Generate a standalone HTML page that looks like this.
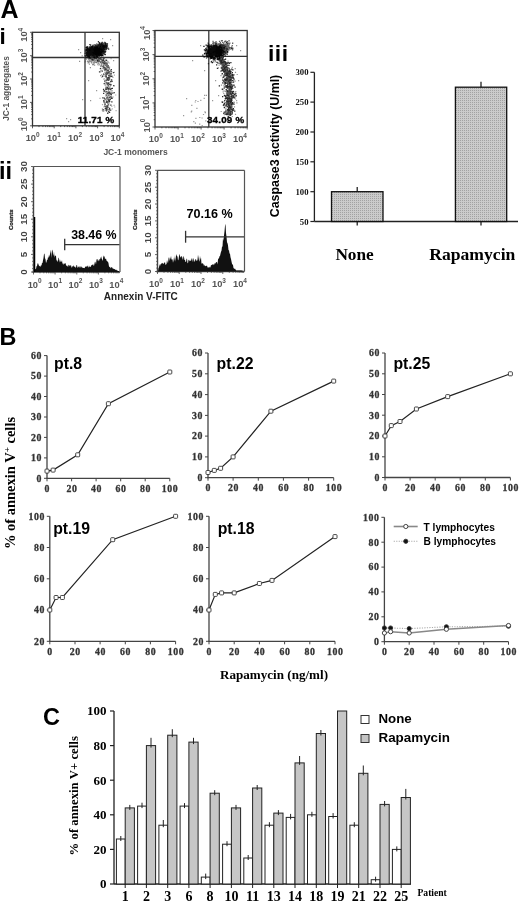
<!DOCTYPE html>
<html><head><meta charset="utf-8"><title>Figure</title>
<style>html,body{margin:0;padding:0;background:#fff;}svg{display:block;filter:blur(0.5px);}</style></head>
<body><svg width="520" height="903" viewBox="0 0 520 903">
<rect width="520" height="903" fill="#fff"/>
<text x="0.5" y="17.5" font-family='"Liberation Sans", sans-serif' font-size="25" font-weight="bold" text-anchor="start" fill="#000">A</text>
<text x="-0.5" y="43.8" font-family='"Liberation Sans", sans-serif' font-size="22.5" font-weight="bold" text-anchor="start" fill="#000">i</text>
<text x="-1" y="178.5" font-family='"Liberation Sans", sans-serif' font-size="23.5" font-weight="bold" text-anchor="start" fill="#000">ii</text>
<text x="268" y="61.2" font-family='"Liberation Sans", sans-serif' font-size="22.8" font-weight="bold" text-anchor="start" fill="#000" letter-spacing="0.5">iii</text>
<text x="-0.5" y="344.7" font-family='"Liberation Sans", sans-serif' font-size="23.4" font-weight="bold" text-anchor="start" fill="#000">B</text>
<text x="43" y="725" font-family='"Liberation Sans", sans-serif' font-size="23.5" font-weight="bold" text-anchor="start" fill="#000">C</text>
<rect x="32.5" y="32.3" width="86.8" height="93.5" fill="none" stroke="#333" stroke-width="1.3"/>
<line x1="85" y1="32.3" x2="85" y2="125.8" stroke="#333" stroke-width="1.3"/>
<line x1="32.5" y1="57.5" x2="119.3" y2="57.5" stroke="#333" stroke-width="1.3"/>
<line x1="30" y1="125.8" x2="32.5" y2="125.8" stroke="#333" stroke-width="0.8"/>
<line x1="32.5" y1="125.8" x2="32.5" y2="128.3" stroke="#333" stroke-width="0.8"/>
<line x1="31.2" y1="118.8" x2="32.5" y2="118.8" stroke="#333" stroke-width="0.8"/>
<line x1="39" y1="125.8" x2="39" y2="127.1" stroke="#333" stroke-width="0.8"/>
<line x1="31.2" y1="114.6" x2="32.5" y2="114.6" stroke="#333" stroke-width="0.8"/>
<line x1="42.9" y1="125.8" x2="42.9" y2="127.1" stroke="#333" stroke-width="0.8"/>
<line x1="31.2" y1="111.7" x2="32.5" y2="111.7" stroke="#333" stroke-width="0.8"/>
<line x1="45.6" y1="125.8" x2="45.6" y2="127.1" stroke="#333" stroke-width="0.8"/>
<line x1="31.2" y1="109.5" x2="32.5" y2="109.5" stroke="#333" stroke-width="0.8"/>
<line x1="47.7" y1="125.8" x2="47.7" y2="127.1" stroke="#333" stroke-width="0.8"/>
<line x1="31.2" y1="107.6" x2="32.5" y2="107.6" stroke="#333" stroke-width="0.8"/>
<line x1="49.4" y1="125.8" x2="49.4" y2="127.1" stroke="#333" stroke-width="0.8"/>
<line x1="31.2" y1="106" x2="32.5" y2="106" stroke="#333" stroke-width="0.8"/>
<line x1="50.8" y1="125.8" x2="50.8" y2="127.1" stroke="#333" stroke-width="0.8"/>
<line x1="31.2" y1="104.7" x2="32.5" y2="104.7" stroke="#333" stroke-width="0.8"/>
<line x1="52.1" y1="125.8" x2="52.1" y2="127.1" stroke="#333" stroke-width="0.8"/>
<line x1="31.2" y1="103.5" x2="32.5" y2="103.5" stroke="#333" stroke-width="0.8"/>
<line x1="53.2" y1="125.8" x2="53.2" y2="127.1" stroke="#333" stroke-width="0.8"/>
<line x1="30" y1="102.4" x2="32.5" y2="102.4" stroke="#333" stroke-width="0.8"/>
<line x1="54.2" y1="125.8" x2="54.2" y2="128.3" stroke="#333" stroke-width="0.8"/>
<line x1="31.2" y1="95.4" x2="32.5" y2="95.4" stroke="#333" stroke-width="0.8"/>
<line x1="60.7" y1="125.8" x2="60.7" y2="127.1" stroke="#333" stroke-width="0.8"/>
<line x1="31.2" y1="91.3" x2="32.5" y2="91.3" stroke="#333" stroke-width="0.8"/>
<line x1="64.6" y1="125.8" x2="64.6" y2="127.1" stroke="#333" stroke-width="0.8"/>
<line x1="31.2" y1="88.4" x2="32.5" y2="88.4" stroke="#333" stroke-width="0.8"/>
<line x1="67.3" y1="125.8" x2="67.3" y2="127.1" stroke="#333" stroke-width="0.8"/>
<line x1="31.2" y1="86.1" x2="32.5" y2="86.1" stroke="#333" stroke-width="0.8"/>
<line x1="69.4" y1="125.8" x2="69.4" y2="127.1" stroke="#333" stroke-width="0.8"/>
<line x1="31.2" y1="84.2" x2="32.5" y2="84.2" stroke="#333" stroke-width="0.8"/>
<line x1="71.1" y1="125.8" x2="71.1" y2="127.1" stroke="#333" stroke-width="0.8"/>
<line x1="31.2" y1="82.7" x2="32.5" y2="82.7" stroke="#333" stroke-width="0.8"/>
<line x1="72.5" y1="125.8" x2="72.5" y2="127.1" stroke="#333" stroke-width="0.8"/>
<line x1="31.2" y1="81.3" x2="32.5" y2="81.3" stroke="#333" stroke-width="0.8"/>
<line x1="73.8" y1="125.8" x2="73.8" y2="127.1" stroke="#333" stroke-width="0.8"/>
<line x1="31.2" y1="80.1" x2="32.5" y2="80.1" stroke="#333" stroke-width="0.8"/>
<line x1="74.9" y1="125.8" x2="74.9" y2="127.1" stroke="#333" stroke-width="0.8"/>
<line x1="30" y1="79" x2="32.5" y2="79" stroke="#333" stroke-width="0.8"/>
<line x1="75.9" y1="125.8" x2="75.9" y2="128.3" stroke="#333" stroke-width="0.8"/>
<line x1="31.2" y1="72" x2="32.5" y2="72" stroke="#333" stroke-width="0.8"/>
<line x1="82.4" y1="125.8" x2="82.4" y2="127.1" stroke="#333" stroke-width="0.8"/>
<line x1="31.2" y1="67.9" x2="32.5" y2="67.9" stroke="#333" stroke-width="0.8"/>
<line x1="86.3" y1="125.8" x2="86.3" y2="127.1" stroke="#333" stroke-width="0.8"/>
<line x1="31.2" y1="65" x2="32.5" y2="65" stroke="#333" stroke-width="0.8"/>
<line x1="89" y1="125.8" x2="89" y2="127.1" stroke="#333" stroke-width="0.8"/>
<line x1="31.2" y1="62.7" x2="32.5" y2="62.7" stroke="#333" stroke-width="0.8"/>
<line x1="91.1" y1="125.8" x2="91.1" y2="127.1" stroke="#333" stroke-width="0.8"/>
<line x1="31.2" y1="60.9" x2="32.5" y2="60.9" stroke="#333" stroke-width="0.8"/>
<line x1="92.8" y1="125.8" x2="92.8" y2="127.1" stroke="#333" stroke-width="0.8"/>
<line x1="31.2" y1="59.3" x2="32.5" y2="59.3" stroke="#333" stroke-width="0.8"/>
<line x1="94.2" y1="125.8" x2="94.2" y2="127.1" stroke="#333" stroke-width="0.8"/>
<line x1="31.2" y1="57.9" x2="32.5" y2="57.9" stroke="#333" stroke-width="0.8"/>
<line x1="95.5" y1="125.8" x2="95.5" y2="127.1" stroke="#333" stroke-width="0.8"/>
<line x1="31.2" y1="56.7" x2="32.5" y2="56.7" stroke="#333" stroke-width="0.8"/>
<line x1="96.6" y1="125.8" x2="96.6" y2="127.1" stroke="#333" stroke-width="0.8"/>
<line x1="30" y1="55.7" x2="32.5" y2="55.7" stroke="#333" stroke-width="0.8"/>
<line x1="97.6" y1="125.8" x2="97.6" y2="128.3" stroke="#333" stroke-width="0.8"/>
<line x1="31.2" y1="48.6" x2="32.5" y2="48.6" stroke="#333" stroke-width="0.8"/>
<line x1="104.1" y1="125.8" x2="104.1" y2="127.1" stroke="#333" stroke-width="0.8"/>
<line x1="31.2" y1="44.5" x2="32.5" y2="44.5" stroke="#333" stroke-width="0.8"/>
<line x1="108" y1="125.8" x2="108" y2="127.1" stroke="#333" stroke-width="0.8"/>
<line x1="31.2" y1="41.6" x2="32.5" y2="41.6" stroke="#333" stroke-width="0.8"/>
<line x1="110.7" y1="125.8" x2="110.7" y2="127.1" stroke="#333" stroke-width="0.8"/>
<line x1="31.2" y1="39.3" x2="32.5" y2="39.3" stroke="#333" stroke-width="0.8"/>
<line x1="112.8" y1="125.8" x2="112.8" y2="127.1" stroke="#333" stroke-width="0.8"/>
<line x1="31.2" y1="37.5" x2="32.5" y2="37.5" stroke="#333" stroke-width="0.8"/>
<line x1="114.5" y1="125.8" x2="114.5" y2="127.1" stroke="#333" stroke-width="0.8"/>
<line x1="31.2" y1="35.9" x2="32.5" y2="35.9" stroke="#333" stroke-width="0.8"/>
<line x1="115.9" y1="125.8" x2="115.9" y2="127.1" stroke="#333" stroke-width="0.8"/>
<line x1="31.2" y1="34.6" x2="32.5" y2="34.6" stroke="#333" stroke-width="0.8"/>
<line x1="117.2" y1="125.8" x2="117.2" y2="127.1" stroke="#333" stroke-width="0.8"/>
<line x1="31.2" y1="33.4" x2="32.5" y2="33.4" stroke="#333" stroke-width="0.8"/>
<line x1="118.3" y1="125.8" x2="118.3" y2="127.1" stroke="#333" stroke-width="0.8"/>
<line x1="30" y1="32.3" x2="32.5" y2="32.3" stroke="#333" stroke-width="0.8"/>
<line x1="119.3" y1="125.8" x2="119.3" y2="128.3" stroke="#333" stroke-width="0.8"/>
<text x="32.7" y="141.2" font-family='"Liberation Sans", sans-serif' font-size="9.3" font-weight="bold" text-anchor="middle" fill="#555">10<tspan dy="-4.2" font-size="6.5">0</tspan></text>
<text x="27" y="124.3" font-family='"Liberation Sans", sans-serif' font-size="9.3" font-weight="bold" text-anchor="middle" fill="#555" transform="rotate(-90 27 124.3)">10<tspan dy="-4.2" font-size="6.5">0</tspan></text>
<text x="53.9" y="141.2" font-family='"Liberation Sans", sans-serif' font-size="9.3" font-weight="bold" text-anchor="middle" fill="#555">10<tspan dy="-4.2" font-size="6.5">1</tspan></text>
<text x="27" y="102.4" font-family='"Liberation Sans", sans-serif' font-size="9.3" font-weight="bold" text-anchor="middle" fill="#555" transform="rotate(-90 27 102.4)">10<tspan dy="-4.2" font-size="6.5">1</tspan></text>
<text x="75.1" y="141.2" font-family='"Liberation Sans", sans-serif' font-size="9.3" font-weight="bold" text-anchor="middle" fill="#555">10<tspan dy="-4.2" font-size="6.5">2</tspan></text>
<text x="27" y="79" font-family='"Liberation Sans", sans-serif' font-size="9.3" font-weight="bold" text-anchor="middle" fill="#555" transform="rotate(-90 27 79)">10<tspan dy="-4.2" font-size="6.5">2</tspan></text>
<text x="96.3" y="141.2" font-family='"Liberation Sans", sans-serif' font-size="9.3" font-weight="bold" text-anchor="middle" fill="#555">10<tspan dy="-4.2" font-size="6.5">3</tspan></text>
<text x="27" y="55.7" font-family='"Liberation Sans", sans-serif' font-size="9.3" font-weight="bold" text-anchor="middle" fill="#555" transform="rotate(-90 27 55.7)">10<tspan dy="-4.2" font-size="6.5">3</tspan></text>
<text x="117.5" y="141.2" font-family='"Liberation Sans", sans-serif' font-size="9.3" font-weight="bold" text-anchor="middle" fill="#555">10<tspan dy="-4.2" font-size="6.5">4</tspan></text>
<text x="27" y="34.8" font-family='"Liberation Sans", sans-serif' font-size="9.3" font-weight="bold" text-anchor="middle" fill="#555" transform="rotate(-90 27 34.8)">10<tspan dy="-4.2" font-size="6.5">4</tspan></text>
<rect x="155" y="30.5" width="92.2" height="96.5" fill="none" stroke="#333" stroke-width="1.3"/>
<line x1="208.8" y1="30.5" x2="208.8" y2="127" stroke="#333" stroke-width="1.3"/>
<line x1="155" y1="56.3" x2="247.2" y2="56.3" stroke="#333" stroke-width="1.3"/>
<line x1="152.5" y1="127" x2="155" y2="127" stroke="#333" stroke-width="0.8"/>
<line x1="155" y1="127" x2="155" y2="129.5" stroke="#333" stroke-width="0.8"/>
<line x1="153.7" y1="119.7" x2="155" y2="119.7" stroke="#333" stroke-width="0.8"/>
<line x1="161.9" y1="127" x2="161.9" y2="128.3" stroke="#333" stroke-width="0.8"/>
<line x1="153.7" y1="115.5" x2="155" y2="115.5" stroke="#333" stroke-width="0.8"/>
<line x1="166" y1="127" x2="166" y2="128.3" stroke="#333" stroke-width="0.8"/>
<line x1="153.7" y1="112.5" x2="155" y2="112.5" stroke="#333" stroke-width="0.8"/>
<line x1="168.9" y1="127" x2="168.9" y2="128.3" stroke="#333" stroke-width="0.8"/>
<line x1="153.7" y1="110.1" x2="155" y2="110.1" stroke="#333" stroke-width="0.8"/>
<line x1="171.1" y1="127" x2="171.1" y2="128.3" stroke="#333" stroke-width="0.8"/>
<line x1="153.7" y1="108.2" x2="155" y2="108.2" stroke="#333" stroke-width="0.8"/>
<line x1="172.9" y1="127" x2="172.9" y2="128.3" stroke="#333" stroke-width="0.8"/>
<line x1="153.7" y1="106.6" x2="155" y2="106.6" stroke="#333" stroke-width="0.8"/>
<line x1="174.5" y1="127" x2="174.5" y2="128.3" stroke="#333" stroke-width="0.8"/>
<line x1="153.7" y1="105.2" x2="155" y2="105.2" stroke="#333" stroke-width="0.8"/>
<line x1="175.8" y1="127" x2="175.8" y2="128.3" stroke="#333" stroke-width="0.8"/>
<line x1="153.7" y1="104" x2="155" y2="104" stroke="#333" stroke-width="0.8"/>
<line x1="177" y1="127" x2="177" y2="128.3" stroke="#333" stroke-width="0.8"/>
<line x1="152.5" y1="102.9" x2="155" y2="102.9" stroke="#333" stroke-width="0.8"/>
<line x1="178.1" y1="127" x2="178.1" y2="129.5" stroke="#333" stroke-width="0.8"/>
<line x1="153.7" y1="95.6" x2="155" y2="95.6" stroke="#333" stroke-width="0.8"/>
<line x1="185" y1="127" x2="185" y2="128.3" stroke="#333" stroke-width="0.8"/>
<line x1="153.7" y1="91.4" x2="155" y2="91.4" stroke="#333" stroke-width="0.8"/>
<line x1="189" y1="127" x2="189" y2="128.3" stroke="#333" stroke-width="0.8"/>
<line x1="153.7" y1="88.4" x2="155" y2="88.4" stroke="#333" stroke-width="0.8"/>
<line x1="191.9" y1="127" x2="191.9" y2="128.3" stroke="#333" stroke-width="0.8"/>
<line x1="153.7" y1="86" x2="155" y2="86" stroke="#333" stroke-width="0.8"/>
<line x1="194.2" y1="127" x2="194.2" y2="128.3" stroke="#333" stroke-width="0.8"/>
<line x1="153.7" y1="84.1" x2="155" y2="84.1" stroke="#333" stroke-width="0.8"/>
<line x1="196" y1="127" x2="196" y2="128.3" stroke="#333" stroke-width="0.8"/>
<line x1="153.7" y1="82.5" x2="155" y2="82.5" stroke="#333" stroke-width="0.8"/>
<line x1="197.5" y1="127" x2="197.5" y2="128.3" stroke="#333" stroke-width="0.8"/>
<line x1="153.7" y1="81.1" x2="155" y2="81.1" stroke="#333" stroke-width="0.8"/>
<line x1="198.9" y1="127" x2="198.9" y2="128.3" stroke="#333" stroke-width="0.8"/>
<line x1="153.7" y1="79.9" x2="155" y2="79.9" stroke="#333" stroke-width="0.8"/>
<line x1="200" y1="127" x2="200" y2="128.3" stroke="#333" stroke-width="0.8"/>
<line x1="152.5" y1="78.8" x2="155" y2="78.8" stroke="#333" stroke-width="0.8"/>
<line x1="201.1" y1="127" x2="201.1" y2="129.5" stroke="#333" stroke-width="0.8"/>
<line x1="153.7" y1="71.5" x2="155" y2="71.5" stroke="#333" stroke-width="0.8"/>
<line x1="208" y1="127" x2="208" y2="128.3" stroke="#333" stroke-width="0.8"/>
<line x1="153.7" y1="67.2" x2="155" y2="67.2" stroke="#333" stroke-width="0.8"/>
<line x1="212.1" y1="127" x2="212.1" y2="128.3" stroke="#333" stroke-width="0.8"/>
<line x1="153.7" y1="64.2" x2="155" y2="64.2" stroke="#333" stroke-width="0.8"/>
<line x1="215" y1="127" x2="215" y2="128.3" stroke="#333" stroke-width="0.8"/>
<line x1="153.7" y1="61.9" x2="155" y2="61.9" stroke="#333" stroke-width="0.8"/>
<line x1="217.2" y1="127" x2="217.2" y2="128.3" stroke="#333" stroke-width="0.8"/>
<line x1="153.7" y1="60" x2="155" y2="60" stroke="#333" stroke-width="0.8"/>
<line x1="219" y1="127" x2="219" y2="128.3" stroke="#333" stroke-width="0.8"/>
<line x1="153.7" y1="58.4" x2="155" y2="58.4" stroke="#333" stroke-width="0.8"/>
<line x1="220.6" y1="127" x2="220.6" y2="128.3" stroke="#333" stroke-width="0.8"/>
<line x1="153.7" y1="57" x2="155" y2="57" stroke="#333" stroke-width="0.8"/>
<line x1="221.9" y1="127" x2="221.9" y2="128.3" stroke="#333" stroke-width="0.8"/>
<line x1="153.7" y1="55.7" x2="155" y2="55.7" stroke="#333" stroke-width="0.8"/>
<line x1="223.1" y1="127" x2="223.1" y2="128.3" stroke="#333" stroke-width="0.8"/>
<line x1="152.5" y1="54.6" x2="155" y2="54.6" stroke="#333" stroke-width="0.8"/>
<line x1="224.1" y1="127" x2="224.1" y2="129.5" stroke="#333" stroke-width="0.8"/>
<line x1="153.7" y1="47.4" x2="155" y2="47.4" stroke="#333" stroke-width="0.8"/>
<line x1="231.1" y1="127" x2="231.1" y2="128.3" stroke="#333" stroke-width="0.8"/>
<line x1="153.7" y1="43.1" x2="155" y2="43.1" stroke="#333" stroke-width="0.8"/>
<line x1="235.1" y1="127" x2="235.1" y2="128.3" stroke="#333" stroke-width="0.8"/>
<line x1="153.7" y1="40.1" x2="155" y2="40.1" stroke="#333" stroke-width="0.8"/>
<line x1="238" y1="127" x2="238" y2="128.3" stroke="#333" stroke-width="0.8"/>
<line x1="153.7" y1="37.8" x2="155" y2="37.8" stroke="#333" stroke-width="0.8"/>
<line x1="240.3" y1="127" x2="240.3" y2="128.3" stroke="#333" stroke-width="0.8"/>
<line x1="153.7" y1="35.9" x2="155" y2="35.9" stroke="#333" stroke-width="0.8"/>
<line x1="242.1" y1="127" x2="242.1" y2="128.3" stroke="#333" stroke-width="0.8"/>
<line x1="153.7" y1="34.2" x2="155" y2="34.2" stroke="#333" stroke-width="0.8"/>
<line x1="243.6" y1="127" x2="243.6" y2="128.3" stroke="#333" stroke-width="0.8"/>
<line x1="153.7" y1="32.8" x2="155" y2="32.8" stroke="#333" stroke-width="0.8"/>
<line x1="245" y1="127" x2="245" y2="128.3" stroke="#333" stroke-width="0.8"/>
<line x1="153.7" y1="31.6" x2="155" y2="31.6" stroke="#333" stroke-width="0.8"/>
<line x1="246.1" y1="127" x2="246.1" y2="128.3" stroke="#333" stroke-width="0.8"/>
<line x1="152.5" y1="30.5" x2="155" y2="30.5" stroke="#333" stroke-width="0.8"/>
<line x1="247.2" y1="127" x2="247.2" y2="129.5" stroke="#333" stroke-width="0.8"/>
<text x="155.8" y="142.4" font-family='"Liberation Sans", sans-serif' font-size="9.3" font-weight="bold" text-anchor="middle" fill="#555">10<tspan dy="-4.2" font-size="6.5">0</tspan></text>
<text x="149.5" y="125.5" font-family='"Liberation Sans", sans-serif' font-size="9.3" font-weight="bold" text-anchor="middle" fill="#555" transform="rotate(-90 149.5 125.5)">10<tspan dy="-4.2" font-size="6.5">0</tspan></text>
<text x="176.9" y="142.4" font-family='"Liberation Sans", sans-serif' font-size="9.3" font-weight="bold" text-anchor="middle" fill="#555">10<tspan dy="-4.2" font-size="6.5">1</tspan></text>
<text x="149.5" y="102.9" font-family='"Liberation Sans", sans-serif' font-size="9.3" font-weight="bold" text-anchor="middle" fill="#555" transform="rotate(-90 149.5 102.9)">10<tspan dy="-4.2" font-size="6.5">1</tspan></text>
<text x="197.9" y="142.4" font-family='"Liberation Sans", sans-serif' font-size="9.3" font-weight="bold" text-anchor="middle" fill="#555">10<tspan dy="-4.2" font-size="6.5">2</tspan></text>
<text x="149.5" y="78.8" font-family='"Liberation Sans", sans-serif' font-size="9.3" font-weight="bold" text-anchor="middle" fill="#555" transform="rotate(-90 149.5 78.8)">10<tspan dy="-4.2" font-size="6.5">2</tspan></text>
<text x="219" y="142.4" font-family='"Liberation Sans", sans-serif' font-size="9.3" font-weight="bold" text-anchor="middle" fill="#555">10<tspan dy="-4.2" font-size="6.5">3</tspan></text>
<text x="149.5" y="54.6" font-family='"Liberation Sans", sans-serif' font-size="9.3" font-weight="bold" text-anchor="middle" fill="#555" transform="rotate(-90 149.5 54.6)">10<tspan dy="-4.2" font-size="6.5">3</tspan></text>
<text x="240" y="142.4" font-family='"Liberation Sans", sans-serif' font-size="9.3" font-weight="bold" text-anchor="middle" fill="#555">10<tspan dy="-4.2" font-size="6.5">4</tspan></text>
<text x="149.5" y="33" font-family='"Liberation Sans", sans-serif' font-size="9.3" font-weight="bold" text-anchor="middle" fill="#555" transform="rotate(-90 149.5 33)">10<tspan dy="-4.2" font-size="6.5">4</tspan></text>
<path d="M93 52.3h1.3v1.3h-1.3zM91.8 49.3h1.3v1.3h-1.3zM91.1 49.2h1.3v1.3h-1.3zM93.3 55.2h1.3v1.3h-1.3zM90.9 50.2h1.3v1.3h-1.3zM95.1 52.1h1.3v1.3h-1.3zM93.4 48.8h1.3v1.3h-1.3zM92.9 53.4h1.3v1.3h-1.3zM87.4 51.4h1.3v1.3h-1.3zM85 49.6h1.3v1.3h-1.3zM85.3 52.5h1.3v1.3h-1.3zM87.7 53.4h1.3v1.3h-1.3zM93.7 50.8h1.3v1.3h-1.3zM92.8 51.9h1.3v1.3h-1.3zM86.6 51.5h1.3v1.3h-1.3zM88.9 50.1h1.3v1.3h-1.3zM97.5 48.3h1.3v1.3h-1.3zM92.9 54h1.3v1.3h-1.3zM90.5 51.7h1.3v1.3h-1.3zM93.5 51.6h1.3v1.3h-1.3zM87.9 52.8h1.3v1.3h-1.3zM98.7 46h1.3v1.3h-1.3zM96.6 51.1h1.3v1.3h-1.3zM90.3 57.6h1.3v1.3h-1.3zM96.2 47.5h1.3v1.3h-1.3zM93.3 53h1.3v1.3h-1.3zM92.2 53.6h1.3v1.3h-1.3zM92.7 53.4h1.3v1.3h-1.3zM99 48.4h1.3v1.3h-1.3zM93.9 50h1.3v1.3h-1.3zM93.5 48.1h1.3v1.3h-1.3zM90.6 51.5h1.3v1.3h-1.3zM96.8 53.9h1.3v1.3h-1.3zM87.4 50.5h1.3v1.3h-1.3zM95.7 45.4h1.3v1.3h-1.3zM91.1 51.6h1.3v1.3h-1.3zM98.3 52.3h1.3v1.3h-1.3zM91.6 50.8h1.3v1.3h-1.3zM91.9 55.9h1.3v1.3h-1.3zM91.2 51h1.3v1.3h-1.3zM94.5 50.9h1.3v1.3h-1.3zM92.2 48.6h1.3v1.3h-1.3zM93 50.3h1.3v1.3h-1.3zM97.9 52.3h1.3v1.3h-1.3zM92.9 53.4h1.3v1.3h-1.3zM91.6 54.7h1.3v1.3h-1.3zM93 53.1h1.3v1.3h-1.3zM87.6 53.6h1.3v1.3h-1.3zM85.9 47.3h1.3v1.3h-1.3zM91.7 49.3h1.3v1.3h-1.3zM93.7 57.6h1.3v1.3h-1.3zM89.5 50.5h1.3v1.3h-1.3zM93.9 52.7h1.3v1.3h-1.3zM92.3 51.1h1.3v1.3h-1.3zM96 52.3h1.3v1.3h-1.3zM88.7 52.2h1.3v1.3h-1.3zM93.1 48.6h1.3v1.3h-1.3zM94.1 48.9h1.3v1.3h-1.3zM97.1 51.2h1.3v1.3h-1.3zM93.4 49.8h1.3v1.3h-1.3zM92.5 46.1h1.3v1.3h-1.3zM88.2 53.5h1.3v1.3h-1.3zM85.7 55.1h1.3v1.3h-1.3zM89.4 54.4h1.3v1.3h-1.3zM93.5 47.1h1.3v1.3h-1.3zM98.2 54.4h1.3v1.3h-1.3zM92.7 50.8h1.3v1.3h-1.3zM92.3 48.9h1.3v1.3h-1.3zM97.6 49h1.3v1.3h-1.3zM92.8 49.3h1.3v1.3h-1.3zM90.4 48.5h1.3v1.3h-1.3zM98.3 50h1.3v1.3h-1.3zM97.1 50.7h1.3v1.3h-1.3zM90.1 51.2h1.3v1.3h-1.3zM90.6 52h1.3v1.3h-1.3zM91.4 51h1.3v1.3h-1.3zM87.2 50.5h1.3v1.3h-1.3zM99.9 48.2h1.3v1.3h-1.3zM88.6 53.4h1.3v1.3h-1.3zM98.9 46.3h1.3v1.3h-1.3zM92.1 49.9h1.3v1.3h-1.3zM85.6 55.1h1.3v1.3h-1.3zM92.9 51.7h1.3v1.3h-1.3zM89.8 53.4h1.3v1.3h-1.3zM90.7 51.6h1.3v1.3h-1.3zM88.3 49.1h1.3v1.3h-1.3zM98.6 48.9h1.3v1.3h-1.3zM94.2 51.2h1.3v1.3h-1.3zM91.1 50.5h1.3v1.3h-1.3zM95.6 50.1h1.3v1.3h-1.3zM92.4 51.7h1.3v1.3h-1.3zM97.9 52.4h1.3v1.3h-1.3zM94.6 49.6h1.3v1.3h-1.3zM87.2 55.3h1.3v1.3h-1.3zM97.1 50.3h1.3v1.3h-1.3zM95.3 53.2h1.3v1.3h-1.3zM96.5 53.3h1.3v1.3h-1.3zM91.1 56.1h1.3v1.3h-1.3zM87.8 55h1.3v1.3h-1.3zM95.1 53.5h1.3v1.3h-1.3zM100.9 54h1.3v1.3h-1.3zM88.2 47.8h1.3v1.3h-1.3zM96.4 48h1.3v1.3h-1.3zM92.9 53.8h1.3v1.3h-1.3zM86.1 47.1h1.3v1.3h-1.3zM94.1 51.4h1.3v1.3h-1.3zM92 51.8h1.3v1.3h-1.3zM89.4 48.1h1.3v1.3h-1.3zM92.3 49h1.3v1.3h-1.3zM86.1 54.3h1.3v1.3h-1.3zM92.7 52.7h1.3v1.3h-1.3zM88.8 50.5h1.3v1.3h-1.3zM88.8 49.9h1.3v1.3h-1.3zM93.8 49.2h1.3v1.3h-1.3zM94.5 52.1h1.3v1.3h-1.3zM101.5 45.9h1.3v1.3h-1.3zM96.7 50.5h1.3v1.3h-1.3zM92.9 47.5h1.3v1.3h-1.3zM91.1 54h1.3v1.3h-1.3zM92.7 51.8h1.3v1.3h-1.3zM91.8 54.9h1.3v1.3h-1.3zM92.9 45.4h1.3v1.3h-1.3zM90.1 46.7h1.3v1.3h-1.3zM98.6 50.5h1.3v1.3h-1.3zM88.1 49.9h1.3v1.3h-1.3zM97.7 51h1.3v1.3h-1.3zM93.2 51.3h1.3v1.3h-1.3zM93.2 53.7h1.3v1.3h-1.3zM95.3 51.6h1.3v1.3h-1.3zM88.6 53.8h1.3v1.3h-1.3zM90.1 55.1h1.3v1.3h-1.3zM87.7 52.2h1.3v1.3h-1.3zM93 47.8h1.3v1.3h-1.3zM100.2 54h1.3v1.3h-1.3zM91.1 54h1.3v1.3h-1.3zM94.6 43.9h1.3v1.3h-1.3zM94.1 51.1h1.3v1.3h-1.3zM93.3 48.4h1.3v1.3h-1.3zM91.9 51.2h1.3v1.3h-1.3zM98 51.4h1.3v1.3h-1.3zM93 55.7h1.3v1.3h-1.3zM90.7 50.9h1.3v1.3h-1.3zM85.4 57.4h1.3v1.3h-1.3zM97.1 53.2h1.3v1.3h-1.3zM95.8 51.2h1.3v1.3h-1.3zM93.9 50.6h1.3v1.3h-1.3zM92.1 51.8h1.3v1.3h-1.3zM99.3 51.7h1.3v1.3h-1.3zM92.8 49.9h1.3v1.3h-1.3zM90.3 56.5h1.3v1.3h-1.3zM95.1 51.2h1.3v1.3h-1.3zM91.5 48.7h1.3v1.3h-1.3zM92.7 54h1.3v1.3h-1.3zM91.4 51.2h1.3v1.3h-1.3zM92.1 52h1.3v1.3h-1.3zM86.3 52.2h1.3v1.3h-1.3zM89.4 54.7h1.3v1.3h-1.3zM89.8 53.8h1.3v1.3h-1.3zM99.4 49.3h1.3v1.3h-1.3zM90.5 52.6h1.3v1.3h-1.3zM93 48.8h1.3v1.3h-1.3zM94.9 56.7h1.3v1.3h-1.3zM91.9 51.2h1.3v1.3h-1.3zM88.6 53.3h1.3v1.3h-1.3zM87.8 49.5h1.3v1.3h-1.3zM98.4 47.9h1.3v1.3h-1.3zM97.5 54.8h1.3v1.3h-1.3zM94.1 52.8h1.3v1.3h-1.3zM101.2 49.3h1.3v1.3h-1.3zM90.5 48.3h1.3v1.3h-1.3zM93.2 55.6h1.3v1.3h-1.3zM97 48.1h1.3v1.3h-1.3zM89.4 50.8h1.3v1.3h-1.3zM94.2 50.7h1.3v1.3h-1.3zM93.9 52.1h1.3v1.3h-1.3zM91.7 51.6h1.3v1.3h-1.3zM93.9 51.1h1.3v1.3h-1.3zM95.1 56.2h1.3v1.3h-1.3zM95.5 51.1h1.3v1.3h-1.3zM85.9 54h1.3v1.3h-1.3zM84.8 49.3h1.3v1.3h-1.3zM96.6 52.7h1.3v1.3h-1.3zM92.4 46.9h1.3v1.3h-1.3zM91.4 49.9h1.3v1.3h-1.3zM95.7 57.2h1.3v1.3h-1.3zM93.9 49.2h1.3v1.3h-1.3zM88.1 52.4h1.3v1.3h-1.3zM92.3 48.5h1.3v1.3h-1.3zM93.5 48.2h1.3v1.3h-1.3zM97.7 53.5h1.3v1.3h-1.3zM97.6 49.2h1.3v1.3h-1.3zM95.2 50.7h1.3v1.3h-1.3zM91.4 50.9h1.3v1.3h-1.3zM87.5 48.6h1.3v1.3h-1.3zM96.3 50.3h1.3v1.3h-1.3zM93.9 54.1h1.3v1.3h-1.3zM85.7 50.8h1.3v1.3h-1.3zM93.7 52.4h1.3v1.3h-1.3zM91.4 54.7h1.3v1.3h-1.3zM93.9 48h1.3v1.3h-1.3zM89.1 54.5h1.3v1.3h-1.3zM94.9 45.8h1.3v1.3h-1.3zM98.7 52h1.3v1.3h-1.3zM98.6 49.3h1.3v1.3h-1.3zM91.8 48.6h1.3v1.3h-1.3zM103.7 48.8h1.3v1.3h-1.3zM99.7 48.3h1.3v1.3h-1.3zM93.7 46.7h1.3v1.3h-1.3zM91.4 54.6h1.3v1.3h-1.3zM87.7 55.6h1.3v1.3h-1.3zM94.4 48.3h1.3v1.3h-1.3zM90.9 50.7h1.3v1.3h-1.3zM92.8 50.1h1.3v1.3h-1.3zM89.5 51.4h1.3v1.3h-1.3zM88.7 48.8h1.3v1.3h-1.3zM92.8 54h1.3v1.3h-1.3zM86.6 52.8h1.3v1.3h-1.3zM90.3 49.4h1.3v1.3h-1.3zM96.6 49.3h1.3v1.3h-1.3zM99.3 48h1.3v1.3h-1.3zM94.6 50.5h1.3v1.3h-1.3zM89.8 53.8h1.3v1.3h-1.3zM92.3 53.3h1.3v1.3h-1.3zM92.8 48.5h1.3v1.3h-1.3zM92.6 51.7h1.3v1.3h-1.3zM97 48.2h1.3v1.3h-1.3zM92.8 46.8h1.3v1.3h-1.3zM95.7 47.9h1.3v1.3h-1.3zM85.4 52.9h1.3v1.3h-1.3zM97.6 46.3h1.3v1.3h-1.3zM88.4 50.4h1.3v1.3h-1.3zM88.3 53.5h1.3v1.3h-1.3zM89.6 50.2h1.3v1.3h-1.3zM95.4 48.9h1.3v1.3h-1.3zM94.8 48.4h1.3v1.3h-1.3zM87.9 47.5h1.3v1.3h-1.3zM100.8 49h1.3v1.3h-1.3zM94 51.2h1.3v1.3h-1.3zM93.7 51.5h1.3v1.3h-1.3zM101 47h1.3v1.3h-1.3zM86.5 50.1h1.3v1.3h-1.3zM87.4 54.7h1.3v1.3h-1.3zM96.4 48.1h1.3v1.3h-1.3zM87.2 51.7h1.3v1.3h-1.3zM98.8 42.5h1.3v1.3h-1.3zM95.2 48.1h1.3v1.3h-1.3zM97.4 47.6h1.3v1.3h-1.3zM91.8 47.6h1.3v1.3h-1.3zM88.9 56.2h1.3v1.3h-1.3zM96.4 49.7h1.3v1.3h-1.3zM89.3 47h1.3v1.3h-1.3zM91.3 51.8h1.3v1.3h-1.3zM92.6 51.3h1.3v1.3h-1.3zM88.3 52.3h1.3v1.3h-1.3zM92.8 55.1h1.3v1.3h-1.3zM100.8 49.5h1.3v1.3h-1.3zM89.8 52h1.3v1.3h-1.3zM90.4 50h1.3v1.3h-1.3zM92.8 48.7h1.3v1.3h-1.3zM95.5 50.7h1.3v1.3h-1.3zM94.1 50.8h1.3v1.3h-1.3zM89.9 49.5h1.3v1.3h-1.3zM92 50.2h1.3v1.3h-1.3zM94 51.3h1.3v1.3h-1.3zM87.3 52.9h1.3v1.3h-1.3zM87.4 51h1.3v1.3h-1.3zM91.8 46h1.3v1.3h-1.3zM93.4 51.8h1.3v1.3h-1.3zM92.3 50.5h1.3v1.3h-1.3zM91.4 49.1h1.3v1.3h-1.3zM91.9 50.2h1.3v1.3h-1.3zM93.4 48.1h1.3v1.3h-1.3zM94 51.7h1.3v1.3h-1.3zM92.4 50.4h1.3v1.3h-1.3zM95.3 46.4h1.3v1.3h-1.3zM94.9 51.8h1.3v1.3h-1.3zM94.2 52.3h1.3v1.3h-1.3zM90.3 51.4h1.3v1.3h-1.3zM95.7 52.1h1.3v1.3h-1.3zM93.9 47.1h1.3v1.3h-1.3zM95.3 54.3h1.3v1.3h-1.3zM97.2 51.3h1.3v1.3h-1.3zM86.5 55.5h1.3v1.3h-1.3zM92.4 44.6h1.3v1.3h-1.3zM94.6 47h1.3v1.3h-1.3zM87.6 50.9h1.3v1.3h-1.3zM98.3 49.4h1.3v1.3h-1.3zM94.1 56.1h1.3v1.3h-1.3zM99.7 49.8h1.3v1.3h-1.3zM92 48.2h1.3v1.3h-1.3zM90.1 53.3h1.3v1.3h-1.3zM94.7 51.5h1.3v1.3h-1.3zM97.2 48.5h1.3v1.3h-1.3zM92.8 53.6h1.3v1.3h-1.3zM95.5 54h1.3v1.3h-1.3zM94.7 50.3h1.3v1.3h-1.3zM94.5 48.4h1.3v1.3h-1.3zM86.1 54.5h1.3v1.3h-1.3zM92.8 52.4h1.3v1.3h-1.3zM85.9 52h1.3v1.3h-1.3zM90.5 49.6h1.3v1.3h-1.3zM96.8 51.8h1.3v1.3h-1.3zM90.5 52h1.3v1.3h-1.3zM96.2 43.2h1.3v1.3h-1.3zM92.5 53.1h1.3v1.3h-1.3zM95.9 55.6h1.3v1.3h-1.3zM97.8 51.4h1.3v1.3h-1.3zM94.3 53.4h1.3v1.3h-1.3zM90.7 51.9h1.3v1.3h-1.3zM96.8 56.1h1.3v1.3h-1.3zM92.3 51.5h1.3v1.3h-1.3zM93.8 55h1.3v1.3h-1.3zM92.9 55.6h1.3v1.3h-1.3zM88.9 51.8h1.3v1.3h-1.3zM92.2 53.8h1.3v1.3h-1.3zM97.4 46.4h1.3v1.3h-1.3zM89.2 53.2h1.3v1.3h-1.3zM90.2 47.9h1.3v1.3h-1.3zM97.4 52h1.3v1.3h-1.3zM95.1 49.8h1.3v1.3h-1.3zM97.3 49.9h1.3v1.3h-1.3zM97.6 48h1.3v1.3h-1.3zM89.4 52.8h1.3v1.3h-1.3zM90.1 54h1.3v1.3h-1.3zM94.1 48.7h1.3v1.3h-1.3zM93.3 50.5h1.3v1.3h-1.3zM96.8 49h1.3v1.3h-1.3zM91.2 55.2h1.3v1.3h-1.3zM102.4 55.1h1.3v1.3h-1.3zM93.3 52.1h1.3v1.3h-1.3zM99.4 49.8h1.3v1.3h-1.3zM88.9 52.7h1.3v1.3h-1.3zM94.9 48.8h1.3v1.3h-1.3zM86.1 49h1.3v1.3h-1.3zM95.8 48.8h1.3v1.3h-1.3zM92.4 52.2h1.3v1.3h-1.3zM95.6 50h1.3v1.3h-1.3zM95.1 48.6h1.3v1.3h-1.3zM91.5 49h1.3v1.3h-1.3zM97.8 50.4h1.3v1.3h-1.3zM89.9 51.2h1.3v1.3h-1.3zM92.1 53.6h1.3v1.3h-1.3zM86.3 50h1.3v1.3h-1.3zM91.4 58.8h1.3v1.3h-1.3zM97 50.4h1.3v1.3h-1.3zM96 56.6h1.3v1.3h-1.3zM92 50.7h1.3v1.3h-1.3zM98.1 51.8h1.3v1.3h-1.3zM95.8 49.5h1.3v1.3h-1.3zM101.1 54.6h1.3v1.3h-1.3zM95.4 52.9h1.3v1.3h-1.3zM84.5 55h1.3v1.3h-1.3zM92.2 52.9h1.3v1.3h-1.3zM95.9 50h1.3v1.3h-1.3zM85.9 54h1.3v1.3h-1.3zM89.9 51.2h1.3v1.3h-1.3zM90.5 51.1h1.3v1.3h-1.3zM94.1 54.4h1.3v1.3h-1.3zM101.3 49.8h1.3v1.3h-1.3zM85.4 50.6h1.3v1.3h-1.3zM87.9 51.2h1.3v1.3h-1.3zM93.3 45.9h1.3v1.3h-1.3zM94.4 47h1.3v1.3h-1.3zM94.2 50.9h1.3v1.3h-1.3zM91.7 51.6h1.3v1.3h-1.3zM90.7 50.3h1.3v1.3h-1.3zM85.9 52.9h1.3v1.3h-1.3zM100.8 55.4h1.3v1.3h-1.3zM98.6 52.3h1.3v1.3h-1.3zM90.2 56.1h1.3v1.3h-1.3zM92.8 51.4h1.3v1.3h-1.3zM91.8 52h1.3v1.3h-1.3zM91.2 51.6h1.3v1.3h-1.3zM88.4 51.4h1.3v1.3h-1.3zM102.6 49.3h1.3v1.3h-1.3zM92 53.2h1.3v1.3h-1.3zM96 47.8h1.3v1.3h-1.3zM92.1 54.2h1.3v1.3h-1.3zM94.1 51.6h1.3v1.3h-1.3zM99.5 48.3h1.3v1.3h-1.3zM93.3 50h1.3v1.3h-1.3zM99.3 44.8h1.3v1.3h-1.3zM90.2 50.6h1.3v1.3h-1.3zM95.8 52.6h1.3v1.3h-1.3zM98.9 45.9h1.3v1.3h-1.3zM96.2 50h1.3v1.3h-1.3zM90.2 53.6h1.3v1.3h-1.3zM89.1 46.6h1.3v1.3h-1.3zM91.4 47.7h1.3v1.3h-1.3zM90.3 53.1h1.3v1.3h-1.3zM94.3 55.6h1.3v1.3h-1.3zM92.2 47.4h1.3v1.3h-1.3zM89.8 49.6h1.3v1.3h-1.3zM87.9 53.8h1.3v1.3h-1.3zM90.3 46.6h1.3v1.3h-1.3zM95.9 50.6h1.3v1.3h-1.3zM94.5 51.5h1.3v1.3h-1.3zM95.7 51.1h1.3v1.3h-1.3zM98.2 51.6h1.3v1.3h-1.3zM94.6 52.3h1.3v1.3h-1.3zM86.9 52.3h1.3v1.3h-1.3zM91.9 52.3h1.3v1.3h-1.3zM87.3 57.2h1.3v1.3h-1.3zM93.4 48.1h1.3v1.3h-1.3zM85.8 52.2h1.3v1.3h-1.3zM92.6 49.6h1.3v1.3h-1.3zM93.4 49.6h1.3v1.3h-1.3zM95.3 49h1.3v1.3h-1.3zM92.8 54.2h1.3v1.3h-1.3zM103.8 46.5h1.3v1.3h-1.3zM91 49.6h1.3v1.3h-1.3zM96.3 47.6h1.3v1.3h-1.3zM91 51.8h1.3v1.3h-1.3zM88.9 49.7h1.3v1.3h-1.3zM91 46.1h1.3v1.3h-1.3zM86.9 51.6h1.3v1.3h-1.3zM93.6 50.9h1.3v1.3h-1.3zM85.5 51.8h1.3v1.3h-1.3zM96.4 52.3h1.3v1.3h-1.3zM92.7 49.1h1.3v1.3h-1.3zM95.7 49.3h1.3v1.3h-1.3zM88.1 50.3h1.3v1.3h-1.3zM99.1 50.8h1.3v1.3h-1.3zM97.9 49.2h1.3v1.3h-1.3zM96.9 49h1.3v1.3h-1.3zM92.3 58.5h1.3v1.3h-1.3zM96.2 49.4h1.3v1.3h-1.3zM92.6 52.5h1.3v1.3h-1.3zM98.1 49.1h1.3v1.3h-1.3zM85.7 52.2h1.3v1.3h-1.3zM93.1 51.8h1.3v1.3h-1.3zM98.5 51.2h1.3v1.3h-1.3zM96.4 47.7h1.3v1.3h-1.3zM96.6 56.5h1.3v1.3h-1.3zM96.2 51.5h1.3v1.3h-1.3zM93.6 56.3h1.3v1.3h-1.3zM89.1 52h1.3v1.3h-1.3zM94.9 53.2h1.3v1.3h-1.3zM91.2 52.7h1.3v1.3h-1.3zM91.8 52.1h1.3v1.3h-1.3zM92.4 48.5h1.3v1.3h-1.3zM92.9 53.9h1.3v1.3h-1.3zM88.9 51.7h1.3v1.3h-1.3zM95.8 48h1.3v1.3h-1.3zM93.8 48.4h1.3v1.3h-1.3zM97.8 56.9h1.3v1.3h-1.3zM101.5 49.1h1.3v1.3h-1.3zM96.1 51.2h1.3v1.3h-1.3zM93.4 55.7h1.3v1.3h-1.3zM87.5 55.6h1.3v1.3h-1.3zM92.8 55.4h1.3v1.3h-1.3zM93.8 49.5h1.3v1.3h-1.3zM94.2 53.3h1.3v1.3h-1.3zM93.2 52.8h1.3v1.3h-1.3zM90.8 46.1h1.3v1.3h-1.3zM96.8 52.7h1.3v1.3h-1.3zM93.6 51.6h1.3v1.3h-1.3zM97.4 49.3h1.3v1.3h-1.3zM90 51.6h1.3v1.3h-1.3zM98 46.6h1.3v1.3h-1.3zM98 48.7h1.3v1.3h-1.3zM88.4 55.9h1.3v1.3h-1.3zM92.6 48h1.3v1.3h-1.3zM91.5 54.4h1.3v1.3h-1.3zM98 49.3h1.3v1.3h-1.3zM94.7 53.1h1.3v1.3h-1.3zM90.3 53h1.3v1.3h-1.3zM92.9 50h1.3v1.3h-1.3zM90.9 52.1h1.3v1.3h-1.3zM93.1 49.9h1.3v1.3h-1.3zM91.2 55h1.3v1.3h-1.3zM93.9 53.8h1.3v1.3h-1.3zM98 52.1h1.3v1.3h-1.3zM102.5 47.2h1.3v1.3h-1.3zM96.4 49.9h1.3v1.3h-1.3zM100.8 54.6h1.3v1.3h-1.3zM84.8 50.5h1.3v1.3h-1.3zM95.8 53.1h1.3v1.3h-1.3zM96.1 50.7h1.3v1.3h-1.3zM94.9 52.9h1.3v1.3h-1.3zM92.7 54.4h1.3v1.3h-1.3zM88.7 55.1h1.3v1.3h-1.3zM92 49.2h1.3v1.3h-1.3zM94.6 48.7h1.3v1.3h-1.3zM89.2 48h1.3v1.3h-1.3zM92.9 52.9h1.3v1.3h-1.3zM97.3 50.2h1.3v1.3h-1.3zM97.4 50.6h1.3v1.3h-1.3zM92.6 53.2h1.3v1.3h-1.3zM97.4 49.6h1.3v1.3h-1.3zM92 51.3h1.3v1.3h-1.3zM93.3 48.9h1.3v1.3h-1.3zM97.3 49.5h1.3v1.3h-1.3zM94.9 48.8h1.3v1.3h-1.3zM94.5 52.3h1.3v1.3h-1.3zM91.2 57.5h1.3v1.3h-1.3zM94.6 56.1h1.3v1.3h-1.3zM97 48.8h1.3v1.3h-1.3zM91.4 53h1.3v1.3h-1.3zM93.3 51.6h1.3v1.3h-1.3zM91.8 46.7h1.3v1.3h-1.3zM92.1 45.6h1.3v1.3h-1.3zM94.6 49.2h1.3v1.3h-1.3zM90 51.5h1.3v1.3h-1.3zM94.1 47.3h1.3v1.3h-1.3zM85.7 50.1h1.3v1.3h-1.3zM99.7 47.2h1.3v1.3h-1.3zM95.7 47.1h1.3v1.3h-1.3zM94.3 50.4h1.3v1.3h-1.3zM92.7 53.1h1.3v1.3h-1.3zM100.4 50.5h1.3v1.3h-1.3zM93.5 48.7h1.3v1.3h-1.3zM95.5 50.3h1.3v1.3h-1.3zM96.5 50.7h1.3v1.3h-1.3zM100.3 44.5h1.3v1.3h-1.3zM91.8 54.2h1.3v1.3h-1.3zM91.5 49.6h1.3v1.3h-1.3zM91.9 47.9h1.3v1.3h-1.3zM93.5 58.1h1.3v1.3h-1.3zM97.8 47.4h1.3v1.3h-1.3zM89.3 51.1h1.3v1.3h-1.3zM97.2 48.4h1.3v1.3h-1.3zM90.1 54.5h1.3v1.3h-1.3zM96.6 49.7h1.3v1.3h-1.3zM88.3 48.2h1.3v1.3h-1.3zM90.1 45.9h1.3v1.3h-1.3zM96.1 49.1h1.3v1.3h-1.3zM95 56.2h1.3v1.3h-1.3zM97.9 47.3h1.3v1.3h-1.3zM96.7 53.9h1.3v1.3h-1.3zM89.9 49.5h1.3v1.3h-1.3zM92.5 47.2h1.3v1.3h-1.3zM99.2 43.6h1.3v1.3h-1.3zM88.4 51.7h1.3v1.3h-1.3zM92 52.2h1.3v1.3h-1.3zM94.1 50.7h1.3v1.3h-1.3zM97.8 44.6h1.3v1.3h-1.3zM93 49.5h1.3v1.3h-1.3zM93.6 52h1.3v1.3h-1.3zM89.2 50.5h1.3v1.3h-1.3zM96.3 51.8h1.3v1.3h-1.3zM90.1 57.7h1.3v1.3h-1.3zM102.7 45.4h1.3v1.3h-1.3zM94.3 58.2h1.3v1.3h-1.3zM96.3 51.4h1.3v1.3h-1.3zM92.1 50.2h1.3v1.3h-1.3zM92.1 50.2h1.3v1.3h-1.3zM96.1 49.8h1.3v1.3h-1.3zM91.1 48.6h1.3v1.3h-1.3zM92.8 49.1h1.3v1.3h-1.3zM92.2 54.5h1.3v1.3h-1.3zM94.5 52.6h1.3v1.3h-1.3zM94.5 51.4h1.3v1.3h-1.3zM92.5 50.8h1.3v1.3h-1.3zM96.2 47.8h1.3v1.3h-1.3zM98.6 50.4h1.3v1.3h-1.3zM89.9 50.8h1.3v1.3h-1.3zM90.2 52.5h1.3v1.3h-1.3zM90 55.3h1.3v1.3h-1.3zM89.7 45.9h1.3v1.3h-1.3zM89.9 46.6h1.3v1.3h-1.3zM92.8 54.5h1.3v1.3h-1.3zM95.7 47.2h1.3v1.3h-1.3zM89.8 57.1h1.3v1.3h-1.3zM94.3 51.2h1.3v1.3h-1.3zM97.4 57.4h1.3v1.3h-1.3zM98.4 50.8h1.3v1.3h-1.3zM94.5 52.9h1.3v1.3h-1.3zM90.4 49.1h1.3v1.3h-1.3zM93.2 48.8h1.3v1.3h-1.3zM92.7 51.8h1.3v1.3h-1.3zM102.8 47.1h1.3v1.3h-1.3zM92.5 51.2h1.3v1.3h-1.3zM94.8 54h1.3v1.3h-1.3zM90.9 49.7h1.3v1.3h-1.3zM86.1 50.4h1.3v1.3h-1.3zM95.3 51.2h1.3v1.3h-1.3zM88.7 51.4h1.3v1.3h-1.3zM93.1 52.9h1.3v1.3h-1.3zM90.5 51.3h1.3v1.3h-1.3zM85.4 49.9h1.3v1.3h-1.3zM99.8 44h1.3v1.3h-1.3zM91.6 52.4h1.3v1.3h-1.3zM91.4 49.6h1.3v1.3h-1.3zM92.7 51.5h1.3v1.3h-1.3zM92.7 46.4h1.3v1.3h-1.3zM92.4 49.3h1.3v1.3h-1.3zM90.7 52.6h1.3v1.3h-1.3zM95.7 53.4h1.3v1.3h-1.3zM90.9 54.5h1.3v1.3h-1.3zM97.9 53.6h1.3v1.3h-1.3zM98.8 49.9h1.3v1.3h-1.3zM92.3 53.9h1.3v1.3h-1.3zM87.3 53.3h1.3v1.3h-1.3zM90.8 50.9h1.3v1.3h-1.3zM85.7 50.6h1.3v1.3h-1.3zM92.9 54h1.3v1.3h-1.3zM97.2 50.4h1.3v1.3h-1.3zM92.2 49.4h1.3v1.3h-1.3zM94.7 50.5h1.3v1.3h-1.3zM95.5 55.8h1.3v1.3h-1.3zM92.9 47.4h1.3v1.3h-1.3zM89.4 48.2h1.3v1.3h-1.3zM88 56.2h1.3v1.3h-1.3zM94 47.1h1.3v1.3h-1.3zM95.7 54.4h1.3v1.3h-1.3zM91.5 49.9h1.3v1.3h-1.3zM91.6 52.6h1.3v1.3h-1.3zM95.7 54.2h1.3v1.3h-1.3zM98.1 53.7h1.3v1.3h-1.3zM98.7 52.1h1.3v1.3h-1.3zM86.6 52.5h1.3v1.3h-1.3zM94.3 50.2h1.3v1.3h-1.3zM96.8 49.7h1.3v1.3h-1.3zM89.1 56.3h1.3v1.3h-1.3zM95.8 51.5h1.3v1.3h-1.3zM96.9 53.6h1.3v1.3h-1.3zM94.4 44.4h1.3v1.3h-1.3zM90.2 50.8h1.3v1.3h-1.3zM88.9 52.9h1.3v1.3h-1.3zM98 49.1h1.3v1.3h-1.3zM88.2 58.1h1.3v1.3h-1.3zM91.1 48.5h1.3v1.3h-1.3zM94 52.5h1.3v1.3h-1.3zM90 54.3h1.3v1.3h-1.3zM91 49.4h1.3v1.3h-1.3zM93.8 53.5h1.3v1.3h-1.3zM90.3 53h1.3v1.3h-1.3zM92.6 59.4h1.3v1.3h-1.3zM90 55.9h1.3v1.3h-1.3zM92.8 51.2h1.3v1.3h-1.3zM96 53.3h1.3v1.3h-1.3zM98.3 51.3h1.3v1.3h-1.3zM90.5 50.5h1.3v1.3h-1.3zM95.1 52.7h1.3v1.3h-1.3zM98.9 51.4h1.3v1.3h-1.3zM97.5 54.8h1.3v1.3h-1.3zM93.7 47.2h1.3v1.3h-1.3zM88 48.5h1.3v1.3h-1.3zM99.7 47.8h1.3v1.3h-1.3zM98.2 52h1.3v1.3h-1.3zM100.2 52.8h1.3v1.3h-1.3zM92.6 51h1.3v1.3h-1.3zM93.4 51.9h1.3v1.3h-1.3zM90.8 51.9h1.3v1.3h-1.3zM99.8 45.4h1.3v1.3h-1.3zM94.1 48.8h1.3v1.3h-1.3zM93.8 53.7h1.3v1.3h-1.3zM92.8 53.7h1.3v1.3h-1.3zM86.3 55.9h1.3v1.3h-1.3zM90.5 53.7h1.3v1.3h-1.3zM93.8 44.2h1.3v1.3h-1.3zM89.8 52.8h1.3v1.3h-1.3zM99.5 50.9h1.3v1.3h-1.3zM94.1 47.4h1.3v1.3h-1.3zM99 55.3h1.3v1.3h-1.3zM93.1 50.9h1.3v1.3h-1.3zM86.2 55.4h1.3v1.3h-1.3zM104.3 51.1h1.3v1.3h-1.3zM98.3 51.9h1.3v1.3h-1.3zM88.9 56.1h1.3v1.3h-1.3zM87.8 52h1.3v1.3h-1.3zM94.2 53.7h1.3v1.3h-1.3zM94.7 52.2h1.3v1.3h-1.3zM89.8 48.6h1.3v1.3h-1.3zM93.3 49.5h1.3v1.3h-1.3zM87.5 49.1h1.3v1.3h-1.3zM90.9 46.8h1.3v1.3h-1.3zM87.3 48.1h1.3v1.3h-1.3zM93.8 52.5h1.3v1.3h-1.3zM101.4 45.6h1.3v1.3h-1.3zM90.1 54.6h1.3v1.3h-1.3zM92.1 50.8h1.3v1.3h-1.3zM100.2 49.1h1.3v1.3h-1.3zM88.1 48.9h1.3v1.3h-1.3zM94.4 52.1h1.3v1.3h-1.3zM87.2 50h1.3v1.3h-1.3zM95.2 52.6h1.3v1.3h-1.3zM90.3 53.8h1.3v1.3h-1.3zM95.4 46.1h1.3v1.3h-1.3zM91.7 52.9h1.3v1.3h-1.3zM90.6 46.1h1.3v1.3h-1.3zM91.8 53.8h1.3v1.3h-1.3zM99.6 44.1h1.3v1.3h-1.3zM104 46.1h1.3v1.3h-1.3zM97 54.1h1.3v1.3h-1.3zM97.1 51.1h1.3v1.3h-1.3zM88.1 54.2h1.3v1.3h-1.3zM90 45.1h1.3v1.3h-1.3zM104.9 51h1.3v1.3h-1.3zM100.6 47.4h1.3v1.3h-1.3zM99.2 54.6h1.3v1.3h-1.3zM99.5 50.1h1.3v1.3h-1.3zM87.9 52.1h1.3v1.3h-1.3zM93.4 48.7h1.3v1.3h-1.3zM92.3 51.3h1.3v1.3h-1.3zM101.1 53.4h1.3v1.3h-1.3zM92.8 54.9h1.3v1.3h-1.3zM89.7 51.2h1.3v1.3h-1.3zM96.8 47.3h1.3v1.3h-1.3zM91.8 48.1h1.3v1.3h-1.3zM93.5 55.9h1.3v1.3h-1.3zM89.8 52.8h1.3v1.3h-1.3zM89.2 49.1h1.3v1.3h-1.3zM87.8 56.6h1.3v1.3h-1.3zM102.9 50.8h1.3v1.3h-1.3zM90 54.1h1.3v1.3h-1.3zM91.6 54h1.3v1.3h-1.3zM94.2 52h1.3v1.3h-1.3zM95.6 49.4h1.3v1.3h-1.3zM91.3 47.1h1.3v1.3h-1.3zM91.1 47.9h1.3v1.3h-1.3zM92.4 49h1.3v1.3h-1.3zM93.4 52.7h1.3v1.3h-1.3zM87 50.5h1.3v1.3h-1.3zM89 54.4h1.3v1.3h-1.3zM100.2 52.4h1.3v1.3h-1.3zM91.5 55.9h1.3v1.3h-1.3zM86.6 57h1.3v1.3h-1.3zM90.2 44.4h1.3v1.3h-1.3zM104.1 53.6h1.3v1.3h-1.3zM88.7 52.9h1.3v1.3h-1.3zM92.1 52h1.3v1.3h-1.3zM86.8 50.9h1.3v1.3h-1.3zM95 51.7h1.3v1.3h-1.3zM98 50.7h1.3v1.3h-1.3zM102.9 47.5h1.3v1.3h-1.3zM94.1 46h1.3v1.3h-1.3zM87.7 56.3h1.3v1.3h-1.3zM89 53.8h1.3v1.3h-1.3zM92.7 48.7h1.3v1.3h-1.3zM91.5 50.4h1.3v1.3h-1.3zM91 54h1.3v1.3h-1.3zM95.7 49.3h1.3v1.3h-1.3zM89.2 53.1h1.3v1.3h-1.3zM92.6 54.4h1.3v1.3h-1.3zM104.2 51.5h1.3v1.3h-1.3zM92.9 51.1h1.3v1.3h-1.3zM89.4 49.7h1.3v1.3h-1.3zM88.8 51.3h1.3v1.3h-1.3zM91.2 53.9h1.3v1.3h-1.3zM91.3 51.3h1.3v1.3h-1.3zM87.9 57.1h1.3v1.3h-1.3zM95.1 56h1.3v1.3h-1.3zM96.3 54.9h1.3v1.3h-1.3zM92 53.7h1.3v1.3h-1.3zM104.4 45.8h1.3v1.3h-1.3zM97.9 55.2h1.3v1.3h-1.3zM94.8 53.3h1.3v1.3h-1.3zM98.4 48.5h1.3v1.3h-1.3zM94.8 48.7h1.3v1.3h-1.3zM90.1 50.4h1.3v1.3h-1.3zM92.4 52h1.3v1.3h-1.3zM94.9 47.1h1.3v1.3h-1.3zM101.5 53h1.3v1.3h-1.3zM96.1 49.8h1.3v1.3h-1.3zM92.6 53.1h1.3v1.3h-1.3zM94.8 46.4h1.3v1.3h-1.3zM96.2 59.1h1.3v1.3h-1.3zM85 56h1.3v1.3h-1.3zM94.6 50.9h1.3v1.3h-1.3zM98.9 46.9h1.3v1.3h-1.3zM93.7 55.5h1.3v1.3h-1.3zM92.2 50.5h1.3v1.3h-1.3zM93.5 50.1h1.3v1.3h-1.3zM99.7 47.5h1.3v1.3h-1.3zM96.8 47.2h1.3v1.3h-1.3zM95.9 50.6h1.3v1.3h-1.3zM88.4 51.2h1.3v1.3h-1.3zM99.6 46.9h1.3v1.3h-1.3zM88.4 56.5h1.3v1.3h-1.3zM93.5 55.8h1.3v1.3h-1.3zM94.4 48.7h1.3v1.3h-1.3zM92.7 55.1h1.3v1.3h-1.3zM97.1 50.7h1.3v1.3h-1.3zM93.2 51.1h1.3v1.3h-1.3zM90.5 57.5h1.3v1.3h-1.3zM93 48.3h1.3v1.3h-1.3zM90.9 54h1.3v1.3h-1.3zM95.8 50.5h1.3v1.3h-1.3zM90.1 52.2h1.3v1.3h-1.3zM85.8 49.3h1.3v1.3h-1.3zM96.4 49.4h1.3v1.3h-1.3zM94.6 54.6h1.3v1.3h-1.3zM95.8 51h1.3v1.3h-1.3zM102.2 51.5h1.3v1.3h-1.3zM91.5 53.9h1.3v1.3h-1.3zM94.8 48.7h1.3v1.3h-1.3zM93.3 51h1.3v1.3h-1.3zM84.5 52.8h1.3v1.3h-1.3zM91.8 50.5h1.3v1.3h-1.3zM85.9 52h1.3v1.3h-1.3zM92.8 51.8h1.3v1.3h-1.3zM88.1 54.3h1.3v1.3h-1.3zM87.8 52h1.3v1.3h-1.3zM98.6 48.4h1.3v1.3h-1.3zM90.8 55h1.3v1.3h-1.3zM91.3 51h1.3v1.3h-1.3zM94 54.3h1.3v1.3h-1.3zM88.7 49.3h1.3v1.3h-1.3zM89.3 49.9h1.3v1.3h-1.3zM94.3 48.7h1.3v1.3h-1.3zM93.5 52.5h1.3v1.3h-1.3zM89.9 52.5h1.3v1.3h-1.3zM100 51h1.3v1.3h-1.3zM90.3 51.9h1.3v1.3h-1.3zM89.1 53.1h1.3v1.3h-1.3zM96.7 48.4h1.3v1.3h-1.3zM92.1 54.8h1.3v1.3h-1.3zM90.9 52.5h1.3v1.3h-1.3zM88.6 50.1h1.3v1.3h-1.3zM90.8 58h1.3v1.3h-1.3zM91.3 50.4h1.3v1.3h-1.3zM90.6 51.5h1.3v1.3h-1.3zM95.8 51.5h1.3v1.3h-1.3zM101.6 50.3h1.3v1.3h-1.3zM99.1 51h1.3v1.3h-1.3zM95.5 47h1.3v1.3h-1.3zM92.5 51.4h1.3v1.3h-1.3zM92 45.8h1.3v1.3h-1.3zM96.7 49.7h1.3v1.3h-1.3zM91.2 51.2h1.3v1.3h-1.3zM92 52.8h1.3v1.3h-1.3zM87.7 50h1.3v1.3h-1.3zM94.2 51.6h1.3v1.3h-1.3zM91.4 50.2h1.3v1.3h-1.3zM89.5 52.1h1.3v1.3h-1.3zM98 47.5h1.3v1.3h-1.3zM99.4 52.5h1.3v1.3h-1.3zM91.1 54.1h1.3v1.3h-1.3zM86.8 48h1.3v1.3h-1.3zM87.6 51.5h1.3v1.3h-1.3zM91.6 50.4h1.3v1.3h-1.3zM93.4 45.5h1.3v1.3h-1.3zM95.1 47.1h1.3v1.3h-1.3zM90.2 50.9h1.3v1.3h-1.3zM88.1 48.7h1.3v1.3h-1.3zM88.8 52.3h1.3v1.3h-1.3zM95.5 52.5h1.3v1.3h-1.3zM88.8 50.2h1.3v1.3h-1.3zM89.1 53.5h1.3v1.3h-1.3zM91 49.8h1.3v1.3h-1.3zM94.4 54.1h1.3v1.3h-1.3zM94.4 54.1h1.3v1.3h-1.3zM93.6 54.8h1.3v1.3h-1.3zM98.2 50.1h1.3v1.3h-1.3zM99 50.7h1.3v1.3h-1.3zM93.4 48.9h1.3v1.3h-1.3zM91.8 53.9h1.3v1.3h-1.3zM87.5 54.4h1.3v1.3h-1.3zM94.5 52h1.3v1.3h-1.3zM95.7 48.8h1.3v1.3h-1.3zM93.4 44.8h1.3v1.3h-1.3zM95.8 49.1h1.3v1.3h-1.3zM96.7 45.6h1.3v1.3h-1.3zM95.9 50.2h1.3v1.3h-1.3zM96.4 48.2h1.3v1.3h-1.3zM90.4 58.2h1.3v1.3h-1.3zM89.5 50.3h1.3v1.3h-1.3zM91.8 48.9h1.3v1.3h-1.3zM98 55.2h1.3v1.3h-1.3zM90 47.3h1.3v1.3h-1.3zM97.9 53.5h1.3v1.3h-1.3zM96.5 54h1.3v1.3h-1.3zM89.4 51.8h1.3v1.3h-1.3zM87.2 48.8h1.3v1.3h-1.3zM97.1 48.8h1.3v1.3h-1.3zM102.6 49.7h1.3v1.3h-1.3zM90.3 54.3h1.3v1.3h-1.3zM100.6 51.3h1.3v1.3h-1.3zM87.9 53.6h1.3v1.3h-1.3zM98.8 48.9h1.3v1.3h-1.3zM89.8 55h1.3v1.3h-1.3zM93.6 48.3h1.3v1.3h-1.3zM91.4 49.7h1.3v1.3h-1.3zM94.2 51.5h1.3v1.3h-1.3zM97.8 52.5h1.3v1.3h-1.3zM86.4 54h1.3v1.3h-1.3zM96.8 52h1.3v1.3h-1.3zM97.3 49.1h1.3v1.3h-1.3zM89 54.9h1.3v1.3h-1.3zM88.5 46.5h1.3v1.3h-1.3zM97.3 48.6h1.3v1.3h-1.3zM91.7 47.9h1.3v1.3h-1.3zM87.4 49.5h1.3v1.3h-1.3zM91.5 52.8h1.3v1.3h-1.3zM88 49.6h1.3v1.3h-1.3z" fill="#000" fill-opacity="0.6"/>
<path d="M101.5 47.9h1.3v1.3h-1.3zM94.9 53.6h1.3v1.3h-1.3zM96.9 49.6h1.3v1.3h-1.3zM100.1 51.5h1.3v1.3h-1.3zM98.1 51h1.3v1.3h-1.3zM97.3 51.5h1.3v1.3h-1.3zM97.2 48.2h1.3v1.3h-1.3zM105.2 47.9h1.3v1.3h-1.3zM99.8 53.3h1.3v1.3h-1.3zM100.6 46.5h1.3v1.3h-1.3zM101.7 45.4h1.3v1.3h-1.3zM102.9 50.4h1.3v1.3h-1.3zM97.8 47.5h1.3v1.3h-1.3zM100 48.4h1.3v1.3h-1.3zM96.6 50.4h1.3v1.3h-1.3zM93.4 49h1.3v1.3h-1.3zM98.3 48.2h1.3v1.3h-1.3zM100.4 45.6h1.3v1.3h-1.3zM101.3 47.7h1.3v1.3h-1.3zM97.5 45.9h1.3v1.3h-1.3zM96 50.1h1.3v1.3h-1.3zM96.6 49.3h1.3v1.3h-1.3zM102.7 50h1.3v1.3h-1.3zM104.2 46.8h1.3v1.3h-1.3zM96.2 51.5h1.3v1.3h-1.3zM100.4 50.8h1.3v1.3h-1.3zM99.5 51.1h1.3v1.3h-1.3zM102 49.5h1.3v1.3h-1.3zM101 49h1.3v1.3h-1.3zM100.2 48.8h1.3v1.3h-1.3zM102.5 46.7h1.3v1.3h-1.3zM104.7 47.1h1.3v1.3h-1.3zM102.5 47.6h1.3v1.3h-1.3zM98.8 53.1h1.3v1.3h-1.3zM98.6 45.9h1.3v1.3h-1.3zM97.4 48.3h1.3v1.3h-1.3zM106 47.5h1.3v1.3h-1.3zM102.3 45.7h1.3v1.3h-1.3zM100.6 49.7h1.3v1.3h-1.3zM104.9 45.7h1.3v1.3h-1.3zM101.3 48.7h1.3v1.3h-1.3zM96.4 49.2h1.3v1.3h-1.3zM98.7 43.6h1.3v1.3h-1.3zM101.3 49.3h1.3v1.3h-1.3zM98.2 45.9h1.3v1.3h-1.3zM103.9 48.1h1.3v1.3h-1.3zM102.6 50.9h1.3v1.3h-1.3zM97.9 50.6h1.3v1.3h-1.3zM98.8 48.5h1.3v1.3h-1.3zM99.2 48.6h1.3v1.3h-1.3zM102.8 48h1.3v1.3h-1.3zM99 48h1.3v1.3h-1.3zM100.5 46.3h1.3v1.3h-1.3zM98 48.7h1.3v1.3h-1.3zM97.8 48.6h1.3v1.3h-1.3zM97.7 53.3h1.3v1.3h-1.3zM103.5 48.6h1.3v1.3h-1.3zM99.3 53.3h1.3v1.3h-1.3zM100.5 48.1h1.3v1.3h-1.3zM100.4 49h1.3v1.3h-1.3zM103.7 47.5h1.3v1.3h-1.3zM105.8 45.1h1.3v1.3h-1.3zM101.6 45.8h1.3v1.3h-1.3zM105 46.5h1.3v1.3h-1.3zM99.3 50.6h1.3v1.3h-1.3zM103.3 45.2h1.3v1.3h-1.3zM98.5 45.7h1.3v1.3h-1.3zM99.9 48.2h1.3v1.3h-1.3zM98.5 47.2h1.3v1.3h-1.3zM98.3 47.1h1.3v1.3h-1.3zM101.1 51.5h1.3v1.3h-1.3zM93.7 49.6h1.3v1.3h-1.3zM98.2 49.9h1.3v1.3h-1.3zM96.6 48.8h1.3v1.3h-1.3zM96.4 50.7h1.3v1.3h-1.3zM99.8 48.1h1.3v1.3h-1.3zM100.6 47.7h1.3v1.3h-1.3zM94.8 50.9h1.3v1.3h-1.3zM100.4 48h1.3v1.3h-1.3zM102.5 50.5h1.3v1.3h-1.3zM96.2 47.5h1.3v1.3h-1.3zM104.1 50.5h1.3v1.3h-1.3zM97.3 46.4h1.3v1.3h-1.3zM97.6 47.8h1.3v1.3h-1.3zM94.7 49.7h1.3v1.3h-1.3zM95.7 46.7h1.3v1.3h-1.3zM102.2 46.4h1.3v1.3h-1.3zM99.3 49.9h1.3v1.3h-1.3zM101.9 47.2h1.3v1.3h-1.3zM99.6 46.7h1.3v1.3h-1.3zM104.7 48.7h1.3v1.3h-1.3zM96.2 49.3h1.3v1.3h-1.3zM101.6 49.1h1.3v1.3h-1.3zM105 50.2h1.3v1.3h-1.3zM97.9 48.7h1.3v1.3h-1.3zM95.7 49.9h1.3v1.3h-1.3zM100 54.3h1.3v1.3h-1.3zM99.8 43.8h1.3v1.3h-1.3zM97.5 49.2h1.3v1.3h-1.3zM95.7 47.5h1.3v1.3h-1.3zM98.4 49.5h1.3v1.3h-1.3zM99 46.7h1.3v1.3h-1.3zM101.9 46.8h1.3v1.3h-1.3zM98 45.8h1.3v1.3h-1.3zM97.1 50.5h1.3v1.3h-1.3zM94.6 49.5h1.3v1.3h-1.3zM101.7 47.2h1.3v1.3h-1.3zM100.2 45.9h1.3v1.3h-1.3zM103.4 50h1.3v1.3h-1.3zM100.2 44.5h1.3v1.3h-1.3zM96.4 51.4h1.3v1.3h-1.3zM104.6 48h1.3v1.3h-1.3zM103.2 46.3h1.3v1.3h-1.3zM98.9 48.6h1.3v1.3h-1.3zM100.8 44.9h1.3v1.3h-1.3zM102.3 50.8h1.3v1.3h-1.3zM96.1 46.3h1.3v1.3h-1.3zM100.6 46.8h1.3v1.3h-1.3zM92.4 51.9h1.3v1.3h-1.3zM100 47.3h1.3v1.3h-1.3zM105.8 47.3h1.3v1.3h-1.3zM97.2 49.2h1.3v1.3h-1.3zM96.4 47.5h1.3v1.3h-1.3zM100.7 47h1.3v1.3h-1.3zM98.1 52.5h1.3v1.3h-1.3zM102.1 49.7h1.3v1.3h-1.3zM101.1 49.2h1.3v1.3h-1.3zM103.9 47.5h1.3v1.3h-1.3zM105.1 45.1h1.3v1.3h-1.3zM98.7 45.7h1.3v1.3h-1.3zM98.5 49.9h1.3v1.3h-1.3zM103.9 46h1.3v1.3h-1.3zM99.5 47.7h1.3v1.3h-1.3zM97.3 46.4h1.3v1.3h-1.3zM99.7 44.7h1.3v1.3h-1.3zM99.8 48.5h1.3v1.3h-1.3zM97.5 46.7h1.3v1.3h-1.3zM95.3 53.6h1.3v1.3h-1.3zM95.5 52.8h1.3v1.3h-1.3zM101.3 47.3h1.3v1.3h-1.3zM96 51.6h1.3v1.3h-1.3zM104.7 45.3h1.3v1.3h-1.3zM98.6 51h1.3v1.3h-1.3zM100.5 52.7h1.3v1.3h-1.3zM97.8 50.1h1.3v1.3h-1.3zM95.7 54h1.3v1.3h-1.3zM97.3 44.2h1.3v1.3h-1.3zM99.1 48.3h1.3v1.3h-1.3zM105.2 46.4h1.3v1.3h-1.3zM99.5 49.8h1.3v1.3h-1.3zM104.3 47.3h1.3v1.3h-1.3zM102.6 48.9h1.3v1.3h-1.3zM98.6 48.9h1.3v1.3h-1.3zM99.6 46.5h1.3v1.3h-1.3zM103.1 44.6h1.3v1.3h-1.3zM103 49.8h1.3v1.3h-1.3zM99.2 46.9h1.3v1.3h-1.3zM98.8 49.7h1.3v1.3h-1.3zM101.7 48.6h1.3v1.3h-1.3zM102.5 46.6h1.3v1.3h-1.3zM100.2 44.9h1.3v1.3h-1.3zM101.8 48.3h1.3v1.3h-1.3zM98.3 51.3h1.3v1.3h-1.3zM101.6 41.8h1.3v1.3h-1.3zM99.6 45.3h1.3v1.3h-1.3zM102.7 53.2h1.3v1.3h-1.3zM97.9 49h1.3v1.3h-1.3zM98.7 49.4h1.3v1.3h-1.3zM101.4 50.9h1.3v1.3h-1.3zM96.5 52.6h1.3v1.3h-1.3zM96.7 49.8h1.3v1.3h-1.3zM103 49.3h1.3v1.3h-1.3zM96.7 47.6h1.3v1.3h-1.3zM98.1 48.7h1.3v1.3h-1.3zM102.9 44.9h1.3v1.3h-1.3zM100.9 49.5h1.3v1.3h-1.3zM101.2 49.1h1.3v1.3h-1.3zM104.1 48.5h1.3v1.3h-1.3zM102.1 49.1h1.3v1.3h-1.3zM104.9 43.1h1.3v1.3h-1.3zM103.3 47h1.3v1.3h-1.3zM98.7 46.6h1.3v1.3h-1.3zM93.9 49h1.3v1.3h-1.3zM97.4 50.1h1.3v1.3h-1.3zM95.1 52.7h1.3v1.3h-1.3zM100.3 47.8h1.3v1.3h-1.3zM97.4 47.3h1.3v1.3h-1.3zM96.1 48.1h1.3v1.3h-1.3zM99.5 48.1h1.3v1.3h-1.3zM95.3 48.9h1.3v1.3h-1.3zM96.8 49.5h1.3v1.3h-1.3zM105.1 48.6h1.3v1.3h-1.3zM98.6 45.2h1.3v1.3h-1.3zM95.3 45.8h1.3v1.3h-1.3zM101.7 46.3h1.3v1.3h-1.3zM99.7 47.1h1.3v1.3h-1.3zM99.8 51.5h1.3v1.3h-1.3zM97.4 48.2h1.3v1.3h-1.3zM97.1 51h1.3v1.3h-1.3zM96.4 46.7h1.3v1.3h-1.3zM95.3 46.4h1.3v1.3h-1.3zM100.9 53.8h1.3v1.3h-1.3zM96.5 51.3h1.3v1.3h-1.3zM100.3 45.9h1.3v1.3h-1.3zM98.7 48.2h1.3v1.3h-1.3zM97.4 53.2h1.3v1.3h-1.3zM93.8 50.7h1.3v1.3h-1.3zM100.5 47h1.3v1.3h-1.3zM99.9 50.3h1.3v1.3h-1.3zM100 49.3h1.3v1.3h-1.3zM101.6 43.6h1.3v1.3h-1.3zM103.9 52.5h1.3v1.3h-1.3zM102.4 50h1.3v1.3h-1.3zM95.3 49.2h1.3v1.3h-1.3zM97.1 47.8h1.3v1.3h-1.3zM102.4 46.1h1.3v1.3h-1.3zM99.1 44.4h1.3v1.3h-1.3zM99 48.8h1.3v1.3h-1.3zM97.4 47.4h1.3v1.3h-1.3zM105.2 44.5h1.3v1.3h-1.3zM96.3 47.4h1.3v1.3h-1.3zM103.1 52.3h1.3v1.3h-1.3zM100.5 46.7h1.3v1.3h-1.3zM98.2 51.1h1.3v1.3h-1.3zM96.8 52.3h1.3v1.3h-1.3zM103.7 47.7h1.3v1.3h-1.3zM101.4 49.7h1.3v1.3h-1.3zM104.2 45.1h1.3v1.3h-1.3zM103 46.9h1.3v1.3h-1.3zM97.2 49.3h1.3v1.3h-1.3zM98.9 46.5h1.3v1.3h-1.3zM94.7 47.5h1.3v1.3h-1.3zM103.9 51.8h1.3v1.3h-1.3zM101.5 50.7h1.3v1.3h-1.3zM97.9 48.7h1.3v1.3h-1.3zM100.3 45.9h1.3v1.3h-1.3zM96.5 49.4h1.3v1.3h-1.3zM98.5 46.4h1.3v1.3h-1.3zM100.7 47.7h1.3v1.3h-1.3zM102.6 47.8h1.3v1.3h-1.3zM98.6 49h1.3v1.3h-1.3zM99 47.2h1.3v1.3h-1.3zM98.3 50.4h1.3v1.3h-1.3zM101.4 50.9h1.3v1.3h-1.3zM94.4 48.8h1.3v1.3h-1.3zM98.3 49.2h1.3v1.3h-1.3zM98.1 47.7h1.3v1.3h-1.3zM101.8 48.4h1.3v1.3h-1.3zM96 52.2h1.3v1.3h-1.3zM102.5 46.6h1.3v1.3h-1.3zM102 46.3h1.3v1.3h-1.3zM102.9 47.2h1.3v1.3h-1.3zM97.1 48.2h1.3v1.3h-1.3zM97.2 49.4h1.3v1.3h-1.3zM100 48.5h1.3v1.3h-1.3zM97.8 40.9h1.3v1.3h-1.3zM99.8 44.3h1.3v1.3h-1.3zM100.2 50.8h1.3v1.3h-1.3zM100.3 47.5h1.3v1.3h-1.3zM99 48.3h1.3v1.3h-1.3zM97.9 47.6h1.3v1.3h-1.3zM96.7 51.7h1.3v1.3h-1.3zM99.5 50.6h1.3v1.3h-1.3zM98.7 48.8h1.3v1.3h-1.3zM99 49.6h1.3v1.3h-1.3zM102 48.5h1.3v1.3h-1.3zM97.5 47.3h1.3v1.3h-1.3zM104.5 46.7h1.3v1.3h-1.3zM98.6 51.9h1.3v1.3h-1.3zM102.8 48.9h1.3v1.3h-1.3zM98.3 53.9h1.3v1.3h-1.3zM100.7 49.4h1.3v1.3h-1.3zM99 45.5h1.3v1.3h-1.3zM95.5 50.3h1.3v1.3h-1.3zM100.7 47.7h1.3v1.3h-1.3zM96 46.1h1.3v1.3h-1.3zM98.5 45.5h1.3v1.3h-1.3zM102.2 50.4h1.3v1.3h-1.3zM108 48.5h1.3v1.3h-1.3zM97.7 47h1.3v1.3h-1.3zM89.1 49.6h1.3v1.3h-1.3zM99 50.7h1.3v1.3h-1.3zM101.3 49.4h1.3v1.3h-1.3zM100.1 49.8h1.3v1.3h-1.3zM103.8 45.2h1.3v1.3h-1.3zM98.1 45.8h1.3v1.3h-1.3zM104.4 50.2h1.3v1.3h-1.3zM101.8 45.4h1.3v1.3h-1.3zM100 47.9h1.3v1.3h-1.3zM99.7 48h1.3v1.3h-1.3zM101.1 47.3h1.3v1.3h-1.3zM102.1 48.4h1.3v1.3h-1.3zM98.6 48.5h1.3v1.3h-1.3zM98.2 50.6h1.3v1.3h-1.3zM98.7 49.3h1.3v1.3h-1.3zM98.3 45.5h1.3v1.3h-1.3zM102.2 45.6h1.3v1.3h-1.3zM101.5 49h1.3v1.3h-1.3zM94.5 47.6h1.3v1.3h-1.3zM98 47.1h1.3v1.3h-1.3zM96 50.9h1.3v1.3h-1.3zM98.8 49.5h1.3v1.3h-1.3zM98.2 49.5h1.3v1.3h-1.3zM97.2 49h1.3v1.3h-1.3zM101.2 48.2h1.3v1.3h-1.3zM98.1 46.4h1.3v1.3h-1.3zM100 49.1h1.3v1.3h-1.3zM98.7 47h1.3v1.3h-1.3zM101.1 53.6h1.3v1.3h-1.3zM98.6 49.4h1.3v1.3h-1.3zM100.6 42.6h1.3v1.3h-1.3zM99.9 46.9h1.3v1.3h-1.3zM103.7 47h1.3v1.3h-1.3zM97.2 48.6h1.3v1.3h-1.3zM100 47.2h1.3v1.3h-1.3zM99.3 45.6h1.3v1.3h-1.3zM98.8 50.4h1.3v1.3h-1.3zM105.4 48.7h1.3v1.3h-1.3zM100.3 50.9h1.3v1.3h-1.3zM102.6 51.4h1.3v1.3h-1.3zM102.7 47.5h1.3v1.3h-1.3zM100.3 48.7h1.3v1.3h-1.3zM100.4 48.7h1.3v1.3h-1.3zM97.2 44.4h1.3v1.3h-1.3zM97.5 44.5h1.3v1.3h-1.3zM99.7 48.5h1.3v1.3h-1.3zM94.5 51.2h1.3v1.3h-1.3zM102.1 48.1h1.3v1.3h-1.3zM104.5 51.5h1.3v1.3h-1.3zM95.9 51.6h1.3v1.3h-1.3zM100.8 49.1h1.3v1.3h-1.3zM102.3 46.3h1.3v1.3h-1.3zM97.7 47.1h1.3v1.3h-1.3zM97.2 48.8h1.3v1.3h-1.3zM95.1 47.2h1.3v1.3h-1.3zM101.2 47.9h1.3v1.3h-1.3zM100.6 44.1h1.3v1.3h-1.3zM97.1 47.8h1.3v1.3h-1.3zM99.6 47.2h1.3v1.3h-1.3zM102.3 47.7h1.3v1.3h-1.3zM99.6 48.5h1.3v1.3h-1.3zM101.6 47h1.3v1.3h-1.3zM102.9 48.7h1.3v1.3h-1.3zM100 48.5h1.3v1.3h-1.3zM101.1 50.4h1.3v1.3h-1.3zM102.3 48.7h1.3v1.3h-1.3zM102.1 48.2h1.3v1.3h-1.3zM103.3 47.6h1.3v1.3h-1.3zM93.3 52.9h1.3v1.3h-1.3zM99.8 45.9h1.3v1.3h-1.3zM98.9 46.7h1.3v1.3h-1.3zM105.8 48.1h1.3v1.3h-1.3zM94.8 50.8h1.3v1.3h-1.3zM98.3 53h1.3v1.3h-1.3zM96.3 44.3h1.3v1.3h-1.3zM99.7 47.7h1.3v1.3h-1.3zM98.3 44.1h1.3v1.3h-1.3zM100.8 51.9h1.3v1.3h-1.3zM93.8 52.4h1.3v1.3h-1.3zM97.8 54h1.3v1.3h-1.3zM100.8 47.8h1.3v1.3h-1.3zM102.8 48.9h1.3v1.3h-1.3zM97.7 50.5h1.3v1.3h-1.3zM98 44.9h1.3v1.3h-1.3zM105.6 46.3h1.3v1.3h-1.3zM97.7 49.7h1.3v1.3h-1.3zM94.8 46.6h1.3v1.3h-1.3zM98 47.7h1.3v1.3h-1.3zM99.7 50.9h1.3v1.3h-1.3zM98.1 49.9h1.3v1.3h-1.3zM101.3 45.7h1.3v1.3h-1.3zM100.2 46.3h1.3v1.3h-1.3zM102.7 48.8h1.3v1.3h-1.3zM99.5 45.5h1.3v1.3h-1.3zM99.8 46.7h1.3v1.3h-1.3zM101.6 47.8h1.3v1.3h-1.3zM97.1 51.1h1.3v1.3h-1.3zM101.7 46.7h1.3v1.3h-1.3zM103 47h1.3v1.3h-1.3zM98.6 49h1.3v1.3h-1.3zM97.2 48.1h1.3v1.3h-1.3zM99 52h1.3v1.3h-1.3zM104 46.9h1.3v1.3h-1.3zM104.3 47.3h1.3v1.3h-1.3zM100.6 50.2h1.3v1.3h-1.3zM100.4 53.6h1.3v1.3h-1.3zM100.2 45.7h1.3v1.3h-1.3zM103.4 46.7h1.3v1.3h-1.3zM98.6 42.1h1.3v1.3h-1.3zM102.5 49.6h1.3v1.3h-1.3zM101.9 50.1h1.3v1.3h-1.3zM104.6 47.2h1.3v1.3h-1.3zM102.3 46.2h1.3v1.3h-1.3zM98.4 51.1h1.3v1.3h-1.3zM100.7 45.3h1.3v1.3h-1.3zM100.6 47.8h1.3v1.3h-1.3zM97 50h1.3v1.3h-1.3zM98.3 45.3h1.3v1.3h-1.3zM96.2 53.1h1.3v1.3h-1.3zM95 50h1.3v1.3h-1.3zM101.3 49.5h1.3v1.3h-1.3zM95.8 48.6h1.3v1.3h-1.3zM99.9 50.2h1.3v1.3h-1.3zM97.6 46.4h1.3v1.3h-1.3zM102.5 50.2h1.3v1.3h-1.3zM100.6 46.9h1.3v1.3h-1.3zM100.7 48.5h1.3v1.3h-1.3zM102 45.2h1.3v1.3h-1.3zM99.8 48.1h1.3v1.3h-1.3zM96.2 49.7h1.3v1.3h-1.3zM99.6 47.6h1.3v1.3h-1.3zM100.7 45.1h1.3v1.3h-1.3zM99.3 49.5h1.3v1.3h-1.3zM100.4 50.7h1.3v1.3h-1.3zM95.9 46h1.3v1.3h-1.3zM100.2 49.3h1.3v1.3h-1.3zM105.9 48.4h1.3v1.3h-1.3zM96.9 50.9h1.3v1.3h-1.3zM97 45.8h1.3v1.3h-1.3zM107.3 47.4h1.3v1.3h-1.3zM101.6 49.2h1.3v1.3h-1.3zM104.9 47.9h1.3v1.3h-1.3zM103.2 45.4h1.3v1.3h-1.3zM95.3 52.6h1.3v1.3h-1.3zM103.9 48.6h1.3v1.3h-1.3zM100.2 48.7h1.3v1.3h-1.3zM97.4 52.4h1.3v1.3h-1.3zM101.5 49.2h1.3v1.3h-1.3zM100.6 50.5h1.3v1.3h-1.3zM101 49.8h1.3v1.3h-1.3zM96 50.4h1.3v1.3h-1.3zM106.1 45.9h1.3v1.3h-1.3zM99.1 50.5h1.3v1.3h-1.3zM102.4 49.2h1.3v1.3h-1.3zM94.6 50.7h1.3v1.3h-1.3zM95.9 47.5h1.3v1.3h-1.3zM101.1 47.5h1.3v1.3h-1.3zM101.9 54.8h1.3v1.3h-1.3zM101.8 49.5h1.3v1.3h-1.3zM96.8 47.7h1.3v1.3h-1.3zM96.3 48.1h1.3v1.3h-1.3zM96.2 47.8h1.3v1.3h-1.3zM98.9 46.4h1.3v1.3h-1.3zM95.2 46.5h1.3v1.3h-1.3zM100.9 48.3h1.3v1.3h-1.3zM102.6 50.1h1.3v1.3h-1.3zM98.5 50.2h1.3v1.3h-1.3zM95.2 54.5h1.3v1.3h-1.3zM103.1 47.2h1.3v1.3h-1.3zM96 50.1h1.3v1.3h-1.3z" fill="#000" fill-opacity="0.8"/>
<path d="M101.4 43.8h1.3v1.3h-1.3zM105 45.1h1.3v1.3h-1.3zM103.3 46.5h1.3v1.3h-1.3zM102.5 45.5h1.3v1.3h-1.3zM103.3 43.6h1.3v1.3h-1.3zM104.6 43.4h1.3v1.3h-1.3zM106.7 44.1h1.3v1.3h-1.3zM106.8 43.2h1.3v1.3h-1.3zM104.8 43.1h1.3v1.3h-1.3zM102.1 45.3h1.3v1.3h-1.3zM104.9 43h1.3v1.3h-1.3zM105.7 43.7h1.3v1.3h-1.3zM104.2 45.6h1.3v1.3h-1.3zM104.8 42.1h1.3v1.3h-1.3zM106.3 45.9h1.3v1.3h-1.3zM103.4 43.4h1.3v1.3h-1.3zM101.6 42.8h1.3v1.3h-1.3zM104.8 44.5h1.3v1.3h-1.3zM102.4 44.2h1.3v1.3h-1.3zM106.2 44.5h1.3v1.3h-1.3zM103.2 47.2h1.3v1.3h-1.3zM104.6 45.1h1.3v1.3h-1.3zM103.1 42.5h1.3v1.3h-1.3zM102.4 44.2h1.3v1.3h-1.3zM103.7 45.6h1.3v1.3h-1.3zM104.8 45.4h1.3v1.3h-1.3zM104.3 43.4h1.3v1.3h-1.3zM101 44.2h1.3v1.3h-1.3zM102.7 44h1.3v1.3h-1.3zM103.6 43h1.3v1.3h-1.3zM102.4 44.8h1.3v1.3h-1.3zM104.2 44h1.3v1.3h-1.3zM104.7 44.6h1.3v1.3h-1.3zM102.6 45.1h1.3v1.3h-1.3zM106.6 43.9h1.3v1.3h-1.3zM105.6 47.2h1.3v1.3h-1.3zM106.1 43.7h1.3v1.3h-1.3zM106.8 45.2h1.3v1.3h-1.3zM103.6 44.6h1.3v1.3h-1.3zM104.8 45.1h1.3v1.3h-1.3zM103.8 47.1h1.3v1.3h-1.3zM103 43.3h1.3v1.3h-1.3zM105.1 46.1h1.3v1.3h-1.3zM105.5 43.3h1.3v1.3h-1.3zM105.5 45.8h1.3v1.3h-1.3zM106.5 43h1.3v1.3h-1.3zM104.3 44.6h1.3v1.3h-1.3zM101.8 43.9h1.3v1.3h-1.3zM105.6 44.2h1.3v1.3h-1.3zM103 46.4h1.3v1.3h-1.3zM105.4 46.6h1.3v1.3h-1.3zM102.9 44.9h1.3v1.3h-1.3zM105.4 44h1.3v1.3h-1.3zM103 46.3h1.3v1.3h-1.3zM106.2 43.2h1.3v1.3h-1.3zM100.4 42.7h1.3v1.3h-1.3zM102.6 44.8h1.3v1.3h-1.3zM104.9 44.8h1.3v1.3h-1.3zM103 45.2h1.3v1.3h-1.3zM102.7 44.9h1.3v1.3h-1.3zM103.1 49.3h1.3v1.3h-1.3zM105.1 43.7h1.3v1.3h-1.3zM102.6 44.3h1.3v1.3h-1.3zM101.7 43.8h1.3v1.3h-1.3zM103 46.4h1.3v1.3h-1.3zM103.4 43.7h1.3v1.3h-1.3zM102.1 43.1h1.3v1.3h-1.3zM103.9 44.7h1.3v1.3h-1.3zM105.6 44h1.3v1.3h-1.3zM105.5 45.4h1.3v1.3h-1.3zM104 41.8h1.3v1.3h-1.3zM102.2 46.2h1.3v1.3h-1.3zM106 45.3h1.3v1.3h-1.3zM105.1 44.3h1.3v1.3h-1.3zM103.5 43.9h1.3v1.3h-1.3zM105.4 45.5h1.3v1.3h-1.3zM103.7 44.5h1.3v1.3h-1.3zM104.8 45.5h1.3v1.3h-1.3zM102.8 47.7h1.3v1.3h-1.3zM104.4 45h1.3v1.3h-1.3z" fill="#000" fill-opacity="0.7"/>
<path d="M98.3 54h1.3v1.3h-1.3zM92.7 52.8h1.3v1.3h-1.3zM89.1 50h1.3v1.3h-1.3zM86.2 53.1h1.3v1.3h-1.3zM90 49.2h1.3v1.3h-1.3zM92.3 52.1h1.3v1.3h-1.3zM95.2 55.8h1.3v1.3h-1.3zM94.3 53.6h1.3v1.3h-1.3zM90.8 53.2h1.3v1.3h-1.3zM93.6 50.4h1.3v1.3h-1.3zM92.7 51.4h1.3v1.3h-1.3zM93.7 52.5h1.3v1.3h-1.3zM91.2 49.7h1.3v1.3h-1.3zM95.7 47.4h1.3v1.3h-1.3zM90.8 55.2h1.3v1.3h-1.3zM95.5 47.5h1.3v1.3h-1.3zM102.4 45.3h1.3v1.3h-1.3zM98.2 55.2h1.3v1.3h-1.3zM96.3 51h1.3v1.3h-1.3zM94.3 49.3h1.3v1.3h-1.3zM95.9 48.8h1.3v1.3h-1.3zM92 53.9h1.3v1.3h-1.3zM89 50.6h1.3v1.3h-1.3zM93.6 48.3h1.3v1.3h-1.3zM97.2 52.3h1.3v1.3h-1.3zM87.5 51.4h1.3v1.3h-1.3zM90.2 49.9h1.3v1.3h-1.3zM93.3 49.8h1.3v1.3h-1.3zM96.5 49.8h1.3v1.3h-1.3zM96.5 51.4h1.3v1.3h-1.3zM96.1 50.2h1.3v1.3h-1.3zM91.2 48.7h1.3v1.3h-1.3zM95.1 53.8h1.3v1.3h-1.3zM100.6 54.6h1.3v1.3h-1.3zM93.9 51h1.3v1.3h-1.3zM94.4 51.4h1.3v1.3h-1.3zM98.3 53.8h1.3v1.3h-1.3zM90 49.8h1.3v1.3h-1.3zM97.9 52.2h1.3v1.3h-1.3zM92.2 54.3h1.3v1.3h-1.3zM91.6 50.8h1.3v1.3h-1.3zM91.3 46.8h1.3v1.3h-1.3zM96.1 48.6h1.3v1.3h-1.3zM91 49.7h1.3v1.3h-1.3zM95.6 51.3h1.3v1.3h-1.3zM93.1 47.5h1.3v1.3h-1.3zM92.7 48h1.3v1.3h-1.3zM94.1 52.4h1.3v1.3h-1.3zM92.9 56.4h1.3v1.3h-1.3zM94.9 52.9h1.3v1.3h-1.3zM93.5 51h1.3v1.3h-1.3zM96.5 54.1h1.3v1.3h-1.3zM88.3 54h1.3v1.3h-1.3zM94.8 53.8h1.3v1.3h-1.3zM94.7 48.5h1.3v1.3h-1.3zM88.8 55.9h1.3v1.3h-1.3zM93.9 48.1h1.3v1.3h-1.3zM94.3 50.6h1.3v1.3h-1.3zM86.4 46h1.3v1.3h-1.3zM87.2 52.2h1.3v1.3h-1.3zM92.8 50.9h1.3v1.3h-1.3zM94 52.9h1.3v1.3h-1.3zM90 48.5h1.3v1.3h-1.3zM91 51.2h1.3v1.3h-1.3zM92 48h1.3v1.3h-1.3zM91.3 56.3h1.3v1.3h-1.3zM89.2 47.5h1.3v1.3h-1.3zM94 52.9h1.3v1.3h-1.3zM94.7 48.8h1.3v1.3h-1.3zM96.6 49.6h1.3v1.3h-1.3zM88.9 50h1.3v1.3h-1.3zM92.6 53.2h1.3v1.3h-1.3zM95.2 51.4h1.3v1.3h-1.3zM96.4 51.7h1.3v1.3h-1.3zM96.2 48.1h1.3v1.3h-1.3zM87.3 53.4h1.3v1.3h-1.3zM88 50.8h1.3v1.3h-1.3zM92.6 50.3h1.3v1.3h-1.3zM91.4 54.8h1.3v1.3h-1.3zM101.3 51.6h1.3v1.3h-1.3zM92.9 53.2h1.3v1.3h-1.3zM99.6 48.6h1.3v1.3h-1.3zM93.3 51.1h1.3v1.3h-1.3zM95 51.9h1.3v1.3h-1.3zM95.4 50.5h1.3v1.3h-1.3zM93.2 49.9h1.3v1.3h-1.3zM90.6 51.2h1.3v1.3h-1.3zM92.5 48.7h1.3v1.3h-1.3zM98.7 51.2h1.3v1.3h-1.3zM88 54.1h1.3v1.3h-1.3zM90.3 52.7h1.3v1.3h-1.3zM92.9 52.1h1.3v1.3h-1.3zM93.6 50.1h1.3v1.3h-1.3zM93.1 56.4h1.3v1.3h-1.3zM94.6 49h1.3v1.3h-1.3zM88.1 56.7h1.3v1.3h-1.3zM91.7 56.5h1.3v1.3h-1.3zM94.9 51.7h1.3v1.3h-1.3zM94.7 53h1.3v1.3h-1.3zM97.2 52.5h1.3v1.3h-1.3zM93.5 51.9h1.3v1.3h-1.3zM97.9 53.5h1.3v1.3h-1.3zM89.4 50h1.3v1.3h-1.3zM94.2 50h1.3v1.3h-1.3zM91.6 49.2h1.3v1.3h-1.3zM92.1 52.5h1.3v1.3h-1.3zM96.6 51.5h1.3v1.3h-1.3zM100.5 51.3h1.3v1.3h-1.3zM104.5 53.9h1.3v1.3h-1.3zM94.8 50.3h1.3v1.3h-1.3zM93.6 56.1h1.3v1.3h-1.3zM88 56.1h1.3v1.3h-1.3zM92.1 53.2h1.3v1.3h-1.3zM91.8 53.1h1.3v1.3h-1.3zM93.3 48.8h1.3v1.3h-1.3zM96.4 53.2h1.3v1.3h-1.3zM95.1 53.9h1.3v1.3h-1.3zM97 51.4h1.3v1.3h-1.3zM88.1 48.2h1.3v1.3h-1.3zM97.9 53.2h1.3v1.3h-1.3zM93.4 50.5h1.3v1.3h-1.3zM93.1 51.6h1.3v1.3h-1.3zM91.8 49.8h1.3v1.3h-1.3zM100.8 52h1.3v1.3h-1.3zM90.8 48.4h1.3v1.3h-1.3zM90.4 53.2h1.3v1.3h-1.3zM95.7 51h1.3v1.3h-1.3zM93.2 50.8h1.3v1.3h-1.3zM89 54.6h1.3v1.3h-1.3zM94.3 57.4h1.3v1.3h-1.3zM90.3 51.2h1.3v1.3h-1.3zM96.2 50.9h1.3v1.3h-1.3zM88 49.2h1.3v1.3h-1.3zM93.4 52.3h1.3v1.3h-1.3zM92.7 53.9h1.3v1.3h-1.3zM96.6 52.3h1.3v1.3h-1.3zM93.1 50.9h1.3v1.3h-1.3zM95 53.7h1.3v1.3h-1.3zM93.2 52.6h1.3v1.3h-1.3zM91.8 48.1h1.3v1.3h-1.3zM89.4 53.3h1.3v1.3h-1.3zM94.6 55.3h1.3v1.3h-1.3zM93.2 53.6h1.3v1.3h-1.3zM97.8 53.9h1.3v1.3h-1.3zM90.8 51.1h1.3v1.3h-1.3zM93.5 49.1h1.3v1.3h-1.3zM94.7 54h1.3v1.3h-1.3zM91.3 56.2h1.3v1.3h-1.3zM92 51h1.3v1.3h-1.3zM92.1 49.8h1.3v1.3h-1.3zM94.5 51.5h1.3v1.3h-1.3zM99 53h1.3v1.3h-1.3zM94.9 51h1.3v1.3h-1.3zM87.9 51.3h1.3v1.3h-1.3zM89.9 53.8h1.3v1.3h-1.3zM92.9 55.5h1.3v1.3h-1.3zM95.6 53.5h1.3v1.3h-1.3zM93.8 52h1.3v1.3h-1.3zM95.4 53.7h1.3v1.3h-1.3zM90.4 52.7h1.3v1.3h-1.3zM102.4 51.3h1.3v1.3h-1.3zM92.1 49.8h1.3v1.3h-1.3zM87.8 54.4h1.3v1.3h-1.3zM93.2 52.2h1.3v1.3h-1.3zM99.6 57.5h1.3v1.3h-1.3zM89.8 54h1.3v1.3h-1.3zM95.2 52.5h1.3v1.3h-1.3zM94.7 51.4h1.3v1.3h-1.3zM98.7 53h1.3v1.3h-1.3zM94.2 54.5h1.3v1.3h-1.3zM96.2 52.6h1.3v1.3h-1.3zM94.2 55.7h1.3v1.3h-1.3zM94.8 51.3h1.3v1.3h-1.3zM89.9 50.7h1.3v1.3h-1.3zM89.2 51.8h1.3v1.3h-1.3zM93.9 46.6h1.3v1.3h-1.3zM93.1 53.1h1.3v1.3h-1.3zM93.6 49.2h1.3v1.3h-1.3zM97.6 49.8h1.3v1.3h-1.3zM88.6 48.9h1.3v1.3h-1.3zM93 53.9h1.3v1.3h-1.3zM97.2 52h1.3v1.3h-1.3zM88.7 49.9h1.3v1.3h-1.3zM89.8 51.1h1.3v1.3h-1.3zM86.6 51.8h1.3v1.3h-1.3zM95.3 51.1h1.3v1.3h-1.3zM94.7 49.3h1.3v1.3h-1.3zM87.8 50h1.3v1.3h-1.3zM97.2 54h1.3v1.3h-1.3zM91.4 54.4h1.3v1.3h-1.3zM91.8 55.1h1.3v1.3h-1.3zM94.7 50.4h1.3v1.3h-1.3zM95.9 49.6h1.3v1.3h-1.3zM89.6 48h1.3v1.3h-1.3zM93.9 51.4h1.3v1.3h-1.3zM92.7 50.5h1.3v1.3h-1.3zM98.2 50.5h1.3v1.3h-1.3zM90.4 54.5h1.3v1.3h-1.3zM98.1 52.3h1.3v1.3h-1.3zM86.7 50.1h1.3v1.3h-1.3zM95.2 51.5h1.3v1.3h-1.3zM98.6 48.2h1.3v1.3h-1.3zM95.4 50h1.3v1.3h-1.3zM97.8 51.3h1.3v1.3h-1.3zM96.7 49.9h1.3v1.3h-1.3zM87.9 48.8h1.3v1.3h-1.3zM90.8 49h1.3v1.3h-1.3zM97.3 54.7h1.3v1.3h-1.3zM94 49h1.3v1.3h-1.3zM92.6 49.9h1.3v1.3h-1.3zM98.2 52.3h1.3v1.3h-1.3zM94.8 50.5h1.3v1.3h-1.3zM85.8 49.6h1.3v1.3h-1.3zM89 52.4h1.3v1.3h-1.3zM93.3 49.6h1.3v1.3h-1.3zM91.6 55.3h1.3v1.3h-1.3zM89.5 49.3h1.3v1.3h-1.3zM92.2 49.8h1.3v1.3h-1.3zM91.5 52.8h1.3v1.3h-1.3zM99.2 47.2h1.3v1.3h-1.3zM92.9 51.6h1.3v1.3h-1.3zM92.7 51.1h1.3v1.3h-1.3zM91.8 53.9h1.3v1.3h-1.3zM91.3 51.2h1.3v1.3h-1.3zM93 51.8h1.3v1.3h-1.3zM92.4 53.9h1.3v1.3h-1.3zM93 51.9h1.3v1.3h-1.3zM92.8 49.1h1.3v1.3h-1.3zM90 49h1.3v1.3h-1.3zM93.7 49.8h1.3v1.3h-1.3zM89.2 52.1h1.3v1.3h-1.3zM94.9 47.3h1.3v1.3h-1.3zM99.1 51.6h1.3v1.3h-1.3zM92.6 54.1h1.3v1.3h-1.3zM93.3 50.1h1.3v1.3h-1.3zM100.9 48.9h1.3v1.3h-1.3zM92.6 53.5h1.3v1.3h-1.3zM89.1 51.3h1.3v1.3h-1.3zM94.4 57.3h1.3v1.3h-1.3zM89.8 51.4h1.3v1.3h-1.3zM95.4 51.7h1.3v1.3h-1.3zM88.7 52.5h1.3v1.3h-1.3zM93.4 52.6h1.3v1.3h-1.3zM97.1 53.9h1.3v1.3h-1.3zM94.5 52.2h1.3v1.3h-1.3zM89 51.2h1.3v1.3h-1.3zM93.8 50.5h1.3v1.3h-1.3zM93.4 49.5h1.3v1.3h-1.3zM98.5 56.7h1.3v1.3h-1.3zM91.6 52.5h1.3v1.3h-1.3zM92.2 54.5h1.3v1.3h-1.3zM94.6 51.7h1.3v1.3h-1.3zM92.2 51.8h1.3v1.3h-1.3zM89.4 53.1h1.3v1.3h-1.3zM90.4 52.8h1.3v1.3h-1.3zM93.5 54.1h1.3v1.3h-1.3zM92.9 54h1.3v1.3h-1.3zM89.7 53h1.3v1.3h-1.3zM92.2 52h1.3v1.3h-1.3zM93.3 53.7h1.3v1.3h-1.3zM85.7 52.3h1.3v1.3h-1.3zM87.6 54.4h1.3v1.3h-1.3zM85.9 49.1h1.3v1.3h-1.3zM87 55.4h1.3v1.3h-1.3zM88.4 51.8h1.3v1.3h-1.3zM91.1 47.2h1.3v1.3h-1.3zM91.8 53.1h1.3v1.3h-1.3zM92.3 53.8h1.3v1.3h-1.3zM91.7 51.5h1.3v1.3h-1.3zM91.6 52.3h1.3v1.3h-1.3zM99.8 52.4h1.3v1.3h-1.3zM93.7 50h1.3v1.3h-1.3zM90.3 55h1.3v1.3h-1.3zM89 49.3h1.3v1.3h-1.3zM92.6 50.5h1.3v1.3h-1.3zM100 45.8h1.3v1.3h-1.3zM94.3 53.2h1.3v1.3h-1.3zM89 50h1.3v1.3h-1.3zM94.6 55.4h1.3v1.3h-1.3zM89.7 47.7h1.3v1.3h-1.3zM96.5 55.2h1.3v1.3h-1.3zM91.8 46.2h1.3v1.3h-1.3zM98.2 51h1.3v1.3h-1.3zM97 51.4h1.3v1.3h-1.3zM91.6 50.4h1.3v1.3h-1.3zM98.3 54.9h1.3v1.3h-1.3zM99.4 50.6h1.3v1.3h-1.3zM88.1 51.5h1.3v1.3h-1.3zM92.6 51.3h1.3v1.3h-1.3zM91.3 50.8h1.3v1.3h-1.3zM91.4 52.3h1.3v1.3h-1.3zM90.1 50.8h1.3v1.3h-1.3zM92.5 54.6h1.3v1.3h-1.3zM94.3 51.2h1.3v1.3h-1.3zM94.9 52.5h1.3v1.3h-1.3zM96.9 52.7h1.3v1.3h-1.3zM99.5 54.7h1.3v1.3h-1.3zM92.9 50.5h1.3v1.3h-1.3zM96.2 52.7h1.3v1.3h-1.3zM92.7 48h1.3v1.3h-1.3zM86.4 52.3h1.3v1.3h-1.3zM95.8 53.4h1.3v1.3h-1.3zM88.4 54h1.3v1.3h-1.3zM91.1 52.4h1.3v1.3h-1.3zM94.5 49.6h1.3v1.3h-1.3zM90.9 46.5h1.3v1.3h-1.3zM89.7 47.2h1.3v1.3h-1.3zM94.6 51.6h1.3v1.3h-1.3zM96.3 52.4h1.3v1.3h-1.3zM90.7 52.3h1.3v1.3h-1.3zM91.6 53h1.3v1.3h-1.3zM94.1 49.1h1.3v1.3h-1.3zM93 51.6h1.3v1.3h-1.3zM91.9 53.6h1.3v1.3h-1.3zM99.2 50.6h1.3v1.3h-1.3zM91.7 46.1h1.3v1.3h-1.3zM92.5 50.5h1.3v1.3h-1.3zM95.1 49.7h1.3v1.3h-1.3zM91.7 49.2h1.3v1.3h-1.3zM95.7 47.9h1.3v1.3h-1.3zM91.9 56.2h1.3v1.3h-1.3zM93.2 52.6h1.3v1.3h-1.3zM92.5 48.7h1.3v1.3h-1.3zM92.9 52.5h1.3v1.3h-1.3zM89.3 52.3h1.3v1.3h-1.3zM97.5 54.1h1.3v1.3h-1.3zM87.3 49.2h1.3v1.3h-1.3zM87.2 54.1h1.3v1.3h-1.3zM95.2 53.2h1.3v1.3h-1.3zM89.8 48.7h1.3v1.3h-1.3zM93.3 51.7h1.3v1.3h-1.3zM89.9 51.8h1.3v1.3h-1.3zM95.3 52h1.3v1.3h-1.3zM89.3 46.4h1.3v1.3h-1.3zM92.1 51.9h1.3v1.3h-1.3zM92.1 50.5h1.3v1.3h-1.3zM90.5 53.2h1.3v1.3h-1.3zM92.8 51.8h1.3v1.3h-1.3zM89.5 50h1.3v1.3h-1.3zM93.6 49.1h1.3v1.3h-1.3zM88.5 50.7h1.3v1.3h-1.3zM97.3 52h1.3v1.3h-1.3zM98.3 51.2h1.3v1.3h-1.3zM91.9 48.2h1.3v1.3h-1.3zM90.9 54.9h1.3v1.3h-1.3zM94.2 53.3h1.3v1.3h-1.3zM95.5 51.5h1.3v1.3h-1.3zM92.3 51.8h1.3v1.3h-1.3zM95.4 52.6h1.3v1.3h-1.3zM94.8 51.9h1.3v1.3h-1.3zM90.2 50.9h1.3v1.3h-1.3zM89.6 53.9h1.3v1.3h-1.3zM101.6 50.7h1.3v1.3h-1.3zM88.9 51.5h1.3v1.3h-1.3zM97.6 51.1h1.3v1.3h-1.3zM95.2 51.7h1.3v1.3h-1.3zM91.7 59.1h1.3v1.3h-1.3zM93.3 50.2h1.3v1.3h-1.3zM91.2 52.4h1.3v1.3h-1.3zM94.5 53.4h1.3v1.3h-1.3zM93.5 48.1h1.3v1.3h-1.3zM94.9 50.8h1.3v1.3h-1.3zM92 47.9h1.3v1.3h-1.3zM90.9 49.8h1.3v1.3h-1.3zM92.9 48h1.3v1.3h-1.3zM93.2 51.8h1.3v1.3h-1.3zM89 50h1.3v1.3h-1.3zM89.9 53.7h1.3v1.3h-1.3zM87 50.5h1.3v1.3h-1.3zM96 50h1.3v1.3h-1.3zM93.5 49.5h1.3v1.3h-1.3zM100 53.7h1.3v1.3h-1.3zM97.1 48.3h1.3v1.3h-1.3zM89 54.1h1.3v1.3h-1.3zM92.3 50.9h1.3v1.3h-1.3zM94.2 48.5h1.3v1.3h-1.3zM95.8 51.5h1.3v1.3h-1.3zM94.7 49.9h1.3v1.3h-1.3zM94.8 49.8h1.3v1.3h-1.3zM96.4 54.2h1.3v1.3h-1.3zM96.3 52.7h1.3v1.3h-1.3zM95.3 45h1.3v1.3h-1.3zM96 50.8h1.3v1.3h-1.3zM93.3 50.8h1.3v1.3h-1.3zM88 50.2h1.3v1.3h-1.3zM95.4 54.9h1.3v1.3h-1.3zM90.8 49.3h1.3v1.3h-1.3zM98.2 49.4h1.3v1.3h-1.3zM100.5 51.6h1.3v1.3h-1.3zM89.8 53.9h1.3v1.3h-1.3zM99.1 48.1h1.3v1.3h-1.3zM98.6 50.8h1.3v1.3h-1.3zM98.4 50.6h1.3v1.3h-1.3zM87.3 52.7h1.3v1.3h-1.3zM96.3 56.5h1.3v1.3h-1.3zM99.2 53.2h1.3v1.3h-1.3zM92.1 50.3h1.3v1.3h-1.3zM91.9 49.5h1.3v1.3h-1.3zM92 45.4h1.3v1.3h-1.3zM93.6 51.4h1.3v1.3h-1.3zM102.2 53.3h1.3v1.3h-1.3zM91.3 52.9h1.3v1.3h-1.3zM88.6 50.1h1.3v1.3h-1.3zM86.3 54.9h1.3v1.3h-1.3zM95.1 48.7h1.3v1.3h-1.3zM92.8 53.8h1.3v1.3h-1.3zM94.8 52.4h1.3v1.3h-1.3zM89.9 50h1.3v1.3h-1.3zM93.3 53.7h1.3v1.3h-1.3zM90 48.8h1.3v1.3h-1.3zM97.1 49.3h1.3v1.3h-1.3zM96.9 52.1h1.3v1.3h-1.3zM96.2 55.7h1.3v1.3h-1.3zM95.5 53.4h1.3v1.3h-1.3zM89.7 49.8h1.3v1.3h-1.3zM95.3 55.2h1.3v1.3h-1.3zM98 57.1h1.3v1.3h-1.3zM94.1 52h1.3v1.3h-1.3zM96.6 51.5h1.3v1.3h-1.3zM92.8 49h1.3v1.3h-1.3zM96.6 48.9h1.3v1.3h-1.3zM94.8 48.1h1.3v1.3h-1.3zM96.9 49h1.3v1.3h-1.3zM96 47.7h1.3v1.3h-1.3zM91.4 54.3h1.3v1.3h-1.3zM90.1 51.7h1.3v1.3h-1.3zM91.3 46h1.3v1.3h-1.3zM94.1 52.5h1.3v1.3h-1.3zM89 52.9h1.3v1.3h-1.3zM90.1 49.1h1.3v1.3h-1.3zM93 49.9h1.3v1.3h-1.3zM101.3 47.8h1.3v1.3h-1.3zM95.7 53.9h1.3v1.3h-1.3zM85.9 47.3h1.3v1.3h-1.3zM95 50.3h1.3v1.3h-1.3zM94.4 54.2h1.3v1.3h-1.3zM91.7 48.9h1.3v1.3h-1.3zM89.7 52.3h1.3v1.3h-1.3zM93.8 48.2h1.3v1.3h-1.3zM99.2 54.1h1.3v1.3h-1.3zM96.1 48.7h1.3v1.3h-1.3zM91.5 50.2h1.3v1.3h-1.3zM91.5 48.8h1.3v1.3h-1.3zM94.6 52.1h1.3v1.3h-1.3zM94.3 50.3h1.3v1.3h-1.3zM97.6 52h1.3v1.3h-1.3zM92.8 53.8h1.3v1.3h-1.3zM91.9 50.9h1.3v1.3h-1.3zM90.6 53.1h1.3v1.3h-1.3zM91.4 50.1h1.3v1.3h-1.3zM90.3 52.8h1.3v1.3h-1.3zM91.1 47.5h1.3v1.3h-1.3zM95.2 49.8h1.3v1.3h-1.3zM94.3 52.4h1.3v1.3h-1.3zM97.3 54h1.3v1.3h-1.3zM90.9 51.1h1.3v1.3h-1.3zM88.4 55.5h1.3v1.3h-1.3zM94.6 54.8h1.3v1.3h-1.3zM91.9 46.6h1.3v1.3h-1.3zM98.5 51.7h1.3v1.3h-1.3zM93.5 51.6h1.3v1.3h-1.3zM95.3 52.8h1.3v1.3h-1.3zM87.3 54.1h1.3v1.3h-1.3zM91.1 50.4h1.3v1.3h-1.3zM99.2 53.7h1.3v1.3h-1.3zM91.8 47h1.3v1.3h-1.3zM93.6 52.8h1.3v1.3h-1.3zM92.7 48.5h1.3v1.3h-1.3zM90.2 48.5h1.3v1.3h-1.3zM93.8 53.5h1.3v1.3h-1.3zM96.7 49.7h1.3v1.3h-1.3zM93.8 52.8h1.3v1.3h-1.3zM91.2 51.1h1.3v1.3h-1.3zM100.6 52h1.3v1.3h-1.3zM96.2 50.5h1.3v1.3h-1.3zM93.2 47.4h1.3v1.3h-1.3zM92.9 54.4h1.3v1.3h-1.3zM100.6 54.4h1.3v1.3h-1.3zM95.5 51.6h1.3v1.3h-1.3zM90.8 51.1h1.3v1.3h-1.3zM95.2 49.6h1.3v1.3h-1.3zM96.4 49.1h1.3v1.3h-1.3zM86.6 49.1h1.3v1.3h-1.3zM87 48.2h1.3v1.3h-1.3zM97.1 51h1.3v1.3h-1.3zM93.8 54.3h1.3v1.3h-1.3zM97.5 50.3h1.3v1.3h-1.3zM97.8 52.4h1.3v1.3h-1.3zM93 52.6h1.3v1.3h-1.3zM87.9 49.6h1.3v1.3h-1.3zM92.6 53h1.3v1.3h-1.3zM91.7 51.2h1.3v1.3h-1.3zM96.5 54.9h1.3v1.3h-1.3zM95.8 54.5h1.3v1.3h-1.3zM91.5 50.8h1.3v1.3h-1.3zM94.1 50.8h1.3v1.3h-1.3zM91.2 55.5h1.3v1.3h-1.3zM92.3 49.2h1.3v1.3h-1.3zM94.8 55.9h1.3v1.3h-1.3zM93.3 54.5h1.3v1.3h-1.3zM91.4 50.3h1.3v1.3h-1.3zM90.5 51.2h1.3v1.3h-1.3zM99.6 48.7h1.3v1.3h-1.3zM98.9 49.1h1.3v1.3h-1.3zM92.2 53.5h1.3v1.3h-1.3zM95.3 52.2h1.3v1.3h-1.3zM87.1 52.4h1.3v1.3h-1.3zM89.3 57.7h1.3v1.3h-1.3zM92.2 52h1.3v1.3h-1.3zM88.9 50.4h1.3v1.3h-1.3zM88.4 53.9h1.3v1.3h-1.3zM92.1 52.9h1.3v1.3h-1.3zM90.5 50.3h1.3v1.3h-1.3zM97.6 49.2h1.3v1.3h-1.3zM86.5 52.5h1.3v1.3h-1.3zM88.9 50.4h1.3v1.3h-1.3zM96.3 49.5h1.3v1.3h-1.3zM96.2 49.9h1.3v1.3h-1.3zM98.4 54.7h1.3v1.3h-1.3zM91.3 51h1.3v1.3h-1.3zM90 52h1.3v1.3h-1.3zM97.1 48h1.3v1.3h-1.3zM96.3 48.3h1.3v1.3h-1.3zM89.9 47.2h1.3v1.3h-1.3zM100.6 51.6h1.3v1.3h-1.3zM93.9 49.9h1.3v1.3h-1.3zM96.8 46.5h1.3v1.3h-1.3zM93.1 56.8h1.3v1.3h-1.3zM91.6 51.5h1.3v1.3h-1.3zM95.4 49.6h1.3v1.3h-1.3zM93.1 53.8h1.3v1.3h-1.3zM93.7 52.4h1.3v1.3h-1.3zM91.7 52.3h1.3v1.3h-1.3zM93.2 55h1.3v1.3h-1.3zM95.6 50.9h1.3v1.3h-1.3zM95.7 49.3h1.3v1.3h-1.3zM85.8 48.8h1.3v1.3h-1.3zM96.3 48.9h1.3v1.3h-1.3zM91.3 52h1.3v1.3h-1.3zM97.4 51.5h1.3v1.3h-1.3zM92.6 50.2h1.3v1.3h-1.3zM98.9 54.1h1.3v1.3h-1.3zM92.7 48.1h1.3v1.3h-1.3zM90.2 52.9h1.3v1.3h-1.3zM90.4 53.6h1.3v1.3h-1.3zM94.3 52.2h1.3v1.3h-1.3zM95.4 52.7h1.3v1.3h-1.3zM89.9 50.7h1.3v1.3h-1.3zM101.4 48.6h1.3v1.3h-1.3zM91.3 54.1h1.3v1.3h-1.3zM92.4 49.6h1.3v1.3h-1.3zM88.2 52.8h1.3v1.3h-1.3zM96.7 54.9h1.3v1.3h-1.3zM93.2 54h1.3v1.3h-1.3zM89.3 51.9h1.3v1.3h-1.3zM90.6 51.9h1.3v1.3h-1.3zM95.7 54.1h1.3v1.3h-1.3zM89.4 54.5h1.3v1.3h-1.3zM91.3 49h1.3v1.3h-1.3zM92.4 48h1.3v1.3h-1.3zM93 52.2h1.3v1.3h-1.3zM92.3 52.8h1.3v1.3h-1.3zM91.9 51.5h1.3v1.3h-1.3zM87.8 51.6h1.3v1.3h-1.3zM89.9 50.4h1.3v1.3h-1.3zM92.7 52h1.3v1.3h-1.3zM87.1 47.7h1.3v1.3h-1.3zM91.9 52.6h1.3v1.3h-1.3zM94.3 53.6h1.3v1.3h-1.3zM97.7 52.7h1.3v1.3h-1.3zM92.9 49h1.3v1.3h-1.3zM89.6 50.4h1.3v1.3h-1.3zM94 52h1.3v1.3h-1.3zM93 51.1h1.3v1.3h-1.3zM95.3 52h1.3v1.3h-1.3zM94.1 52.2h1.3v1.3h-1.3zM91 49h1.3v1.3h-1.3zM94.8 52.5h1.3v1.3h-1.3zM92.2 50.5h1.3v1.3h-1.3zM101.2 49.7h1.3v1.3h-1.3zM92.2 52.1h1.3v1.3h-1.3zM88.8 51.8h1.3v1.3h-1.3zM99.5 53.7h1.3v1.3h-1.3zM95.3 52.9h1.3v1.3h-1.3zM93.4 53.8h1.3v1.3h-1.3zM92.4 50.5h1.3v1.3h-1.3zM93.4 53.7h1.3v1.3h-1.3zM94.2 53.1h1.3v1.3h-1.3zM85.7 54.4h1.3v1.3h-1.3zM101.4 54.7h1.3v1.3h-1.3zM91.9 49.5h1.3v1.3h-1.3zM94 49.1h1.3v1.3h-1.3zM95.6 50.2h1.3v1.3h-1.3zM96.5 54.8h1.3v1.3h-1.3zM85.7 52.2h1.3v1.3h-1.3zM90.5 48.1h1.3v1.3h-1.3zM90.8 51h1.3v1.3h-1.3zM96.7 47.8h1.3v1.3h-1.3zM96.8 56.3h1.3v1.3h-1.3zM95.2 52.8h1.3v1.3h-1.3zM93 48.7h1.3v1.3h-1.3zM94.9 52.4h1.3v1.3h-1.3zM95.6 57.7h1.3v1.3h-1.3zM95.6 52.5h1.3v1.3h-1.3zM98.6 48.3h1.3v1.3h-1.3zM88.9 50.6h1.3v1.3h-1.3zM90.6 53.2h1.3v1.3h-1.3zM91.9 55.7h1.3v1.3h-1.3zM98.5 53.3h1.3v1.3h-1.3zM91.6 53h1.3v1.3h-1.3zM95.9 48.9h1.3v1.3h-1.3zM94.3 53.2h1.3v1.3h-1.3zM93.8 55.3h1.3v1.3h-1.3zM97.4 49.5h1.3v1.3h-1.3zM93.4 49.5h1.3v1.3h-1.3zM95.1 49.4h1.3v1.3h-1.3zM96.3 52.4h1.3v1.3h-1.3zM96.5 51.2h1.3v1.3h-1.3zM87.8 55.7h1.3v1.3h-1.3zM92.4 54.8h1.3v1.3h-1.3zM94.5 53.1h1.3v1.3h-1.3zM99.6 52.3h1.3v1.3h-1.3zM98 47.9h1.3v1.3h-1.3zM96.1 50.9h1.3v1.3h-1.3zM92.5 51.5h1.3v1.3h-1.3zM94.2 55.5h1.3v1.3h-1.3zM86.3 51.6h1.3v1.3h-1.3zM90.4 54.3h1.3v1.3h-1.3zM91.5 52.6h1.3v1.3h-1.3zM91.6 53.1h1.3v1.3h-1.3zM96.7 50.5h1.3v1.3h-1.3zM93.2 48.1h1.3v1.3h-1.3zM94.1 53.6h1.3v1.3h-1.3zM91 54.2h1.3v1.3h-1.3zM85.5 47.1h1.3v1.3h-1.3zM88 50.3h1.3v1.3h-1.3zM93.1 51.3h1.3v1.3h-1.3zM92.8 53.2h1.3v1.3h-1.3zM91.3 48.5h1.3v1.3h-1.3zM88.5 56.6h1.3v1.3h-1.3zM98.2 52.7h1.3v1.3h-1.3zM90 51.5h1.3v1.3h-1.3zM96.1 54.4h1.3v1.3h-1.3zM89.8 53.3h1.3v1.3h-1.3zM93.9 54.2h1.3v1.3h-1.3zM98 50.7h1.3v1.3h-1.3zM87.8 52.5h1.3v1.3h-1.3zM99.4 53.1h1.3v1.3h-1.3zM93.8 57.3h1.3v1.3h-1.3zM89.3 53.7h1.3v1.3h-1.3zM90.9 51.6h1.3v1.3h-1.3zM93.3 55.1h1.3v1.3h-1.3zM89.6 50.2h1.3v1.3h-1.3zM87.3 52.7h1.3v1.3h-1.3zM91.4 52.5h1.3v1.3h-1.3zM89.1 50.6h1.3v1.3h-1.3zM96.7 51.1h1.3v1.3h-1.3zM95.3 52.8h1.3v1.3h-1.3zM91.7 47.8h1.3v1.3h-1.3zM96.5 51.9h1.3v1.3h-1.3zM96.5 46.7h1.3v1.3h-1.3zM87 46.4h1.3v1.3h-1.3zM89.8 54h1.3v1.3h-1.3zM95 51.4h1.3v1.3h-1.3zM93.5 53.3h1.3v1.3h-1.3zM91.9 52.5h1.3v1.3h-1.3zM93.5 46.3h1.3v1.3h-1.3zM91.6 54.8h1.3v1.3h-1.3zM91.6 51.2h1.3v1.3h-1.3zM90.8 50.3h1.3v1.3h-1.3zM97 50.9h1.3v1.3h-1.3zM89.3 44h1.3v1.3h-1.3zM90.9 46.8h1.3v1.3h-1.3zM86.4 53.4h1.3v1.3h-1.3zM95.6 46.9h1.3v1.3h-1.3zM96.1 52.6h1.3v1.3h-1.3zM90.2 53.3h1.3v1.3h-1.3zM87.1 48.6h1.3v1.3h-1.3zM87.8 48.8h1.3v1.3h-1.3zM96.2 48.3h1.3v1.3h-1.3zM88.9 49.2h1.3v1.3h-1.3zM93.7 50.7h1.3v1.3h-1.3zM96.1 49.8h1.3v1.3h-1.3zM88.4 50.3h1.3v1.3h-1.3zM93.1 49.3h1.3v1.3h-1.3z" fill="#000" fill-opacity="0.9"/>
<path d="M92.5 62.6h1.2v1.2h-1.2zM89.5 60.9h1.2v1.2h-1.2zM93.3 58.5h1.2v1.2h-1.2zM92 56.6h1.2v1.2h-1.2zM90.6 55.6h1.2v1.2h-1.2zM103.3 63.3h1.2v1.2h-1.2zM98.6 60.7h1.2v1.2h-1.2zM97.5 62.8h1.2v1.2h-1.2zM97.6 62h1.2v1.2h-1.2zM88.9 61h1.2v1.2h-1.2zM90.6 57.4h1.2v1.2h-1.2zM87.9 61h1.2v1.2h-1.2zM97.8 57h1.2v1.2h-1.2zM100.9 63.2h1.2v1.2h-1.2zM91.3 59h1.2v1.2h-1.2zM92.7 62.2h1.2v1.2h-1.2zM91.3 57.6h1.2v1.2h-1.2zM94.6 55.5h1.2v1.2h-1.2zM93.6 62.6h1.2v1.2h-1.2zM94.4 61.7h1.2v1.2h-1.2zM95.2 61.6h1.2v1.2h-1.2zM93.7 58.2h1.2v1.2h-1.2zM92 59.8h1.2v1.2h-1.2zM98.7 63.6h1.2v1.2h-1.2zM94.9 58.3h1.2v1.2h-1.2zM89.7 59.6h1.2v1.2h-1.2zM99.2 60.7h1.2v1.2h-1.2zM92.8 58.3h1.2v1.2h-1.2zM97 60.6h1.2v1.2h-1.2zM92.8 60.2h1.2v1.2h-1.2zM100.6 59.6h1.2v1.2h-1.2zM100.6 62.7h1.2v1.2h-1.2zM93.2 61.9h1.2v1.2h-1.2zM92.4 58.2h1.2v1.2h-1.2zM91.8 58h1.2v1.2h-1.2zM95.3 60h1.2v1.2h-1.2zM95.6 61.8h1.2v1.2h-1.2zM79 60.7h1.2v1.2h-1.2zM84.9 60.4h1.2v1.2h-1.2zM89.1 60.2h1.2v1.2h-1.2zM99.1 56.2h1.2v1.2h-1.2zM93.9 59.8h1.2v1.2h-1.2zM84.5 61.4h1.2v1.2h-1.2zM93.2 58.9h1.2v1.2h-1.2zM89.8 67.1h1.2v1.2h-1.2zM91.2 56h1.2v1.2h-1.2zM88.8 59.2h1.2v1.2h-1.2zM91.3 59.8h1.2v1.2h-1.2zM88.3 61.2h1.2v1.2h-1.2zM90.8 57h1.2v1.2h-1.2zM89.3 59.2h1.2v1.2h-1.2zM96.8 61.1h1.2v1.2h-1.2zM91.5 60h1.2v1.2h-1.2zM94 64.5h1.2v1.2h-1.2zM90.2 61h1.2v1.2h-1.2zM96.3 57.9h1.2v1.2h-1.2zM93.9 60.4h1.2v1.2h-1.2zM90.9 61.2h1.2v1.2h-1.2zM97.6 62.5h1.2v1.2h-1.2zM92.1 60.4h1.2v1.2h-1.2zM103.6 57.6h1.2v1.2h-1.2zM94 62h1.2v1.2h-1.2zM93.7 61.4h1.2v1.2h-1.2zM93.8 61.7h1.2v1.2h-1.2zM98.8 59.5h1.2v1.2h-1.2zM93.9 59.9h1.2v1.2h-1.2zM91.2 60h1.2v1.2h-1.2zM87.9 61.6h1.2v1.2h-1.2zM100.7 63.7h1.2v1.2h-1.2zM98.7 57.9h1.2v1.2h-1.2zM99.8 58.4h1.2v1.2h-1.2zM92.8 64.1h1.2v1.2h-1.2zM88.2 61.9h1.2v1.2h-1.2zM94.3 59.7h1.2v1.2h-1.2zM89.1 60.9h1.2v1.2h-1.2zM90.9 62.3h1.2v1.2h-1.2zM98.5 57h1.2v1.2h-1.2zM90.7 59.3h1.2v1.2h-1.2zM87.7 57.5h1.2v1.2h-1.2zM93.4 59.5h1.2v1.2h-1.2zM85.6 58.8h1.2v1.2h-1.2zM95.3 57.3h1.2v1.2h-1.2zM88.8 63.5h1.2v1.2h-1.2zM98.9 56.4h1.2v1.2h-1.2zM86.9 60.8h1.2v1.2h-1.2zM87.6 59.4h1.2v1.2h-1.2zM91 61.2h1.2v1.2h-1.2zM81.6 55.2h1.2v1.2h-1.2zM87.5 62.2h1.2v1.2h-1.2zM92.3 56.2h1.2v1.2h-1.2z" fill="#444" fill-opacity="0.6"/>
<path d="M103.6 60.4h1.3v1.3h-1.3zM107.4 106.5h1.3v1.3h-1.3zM107.8 100.2h1.3v1.3h-1.3zM108.5 79h1.3v1.3h-1.3zM107.1 101.2h1.3v1.3h-1.3zM102.5 109.1h1.3v1.3h-1.3zM108.5 67.5h1.3v1.3h-1.3zM108.3 92.6h1.3v1.3h-1.3zM98.1 58.5h1.3v1.3h-1.3zM109.6 92.4h1.3v1.3h-1.3zM104.1 61.3h1.3v1.3h-1.3zM108.7 92.8h1.3v1.3h-1.3zM103.1 58.1h1.3v1.3h-1.3zM111 79.2h1.3v1.3h-1.3zM104.5 105.8h1.3v1.3h-1.3zM109.7 73.2h1.3v1.3h-1.3zM110 109.5h1.3v1.3h-1.3zM108.5 83.8h1.3v1.3h-1.3zM99.8 67.9h1.3v1.3h-1.3zM106 108.5h1.3v1.3h-1.3zM102.3 65.9h1.3v1.3h-1.3zM105.2 88.9h1.3v1.3h-1.3zM105.2 107.9h1.3v1.3h-1.3zM109 107.7h1.3v1.3h-1.3zM106.1 87.3h1.3v1.3h-1.3zM105.7 69.3h1.3v1.3h-1.3zM109.8 84.2h1.3v1.3h-1.3zM105.8 73h1.3v1.3h-1.3zM109 74.7h1.3v1.3h-1.3zM105.8 72.7h1.3v1.3h-1.3zM110.7 68.9h1.3v1.3h-1.3zM102.7 60.1h1.3v1.3h-1.3zM106.2 97.5h1.3v1.3h-1.3zM100.6 58.4h1.3v1.3h-1.3zM106.4 87.3h1.3v1.3h-1.3zM106.5 77.6h1.3v1.3h-1.3zM106.5 92.8h1.3v1.3h-1.3zM102.9 88.7h1.3v1.3h-1.3zM107.5 82.3h1.3v1.3h-1.3zM103.1 100.1h1.3v1.3h-1.3zM106 88.8h1.3v1.3h-1.3zM105.6 106.9h1.3v1.3h-1.3zM107.1 87.9h1.3v1.3h-1.3zM106.4 105h1.3v1.3h-1.3zM107.9 104.2h1.3v1.3h-1.3zM106.6 96.6h1.3v1.3h-1.3zM109.9 75.6h1.3v1.3h-1.3zM110.3 84.1h1.3v1.3h-1.3zM105.1 62.5h1.3v1.3h-1.3zM108.5 97h1.3v1.3h-1.3zM108.1 94.5h1.3v1.3h-1.3zM107 101.9h1.3v1.3h-1.3zM102.5 62h1.3v1.3h-1.3zM105.1 63.3h1.3v1.3h-1.3zM103 92.8h1.3v1.3h-1.3zM103.7 97.5h1.3v1.3h-1.3zM103.4 62.5h1.3v1.3h-1.3zM105.9 59.8h1.3v1.3h-1.3zM105.7 73.8h1.3v1.3h-1.3zM105.2 75.6h1.3v1.3h-1.3zM97.5 60.6h1.3v1.3h-1.3zM103.7 63.2h1.3v1.3h-1.3zM104.8 68.3h1.3v1.3h-1.3zM99.6 58.3h1.3v1.3h-1.3zM100.5 65.3h1.3v1.3h-1.3zM105.4 59.4h1.3v1.3h-1.3zM108.1 76.5h1.3v1.3h-1.3zM110.9 97.6h1.3v1.3h-1.3zM109.6 93.5h1.3v1.3h-1.3zM105.5 91h1.3v1.3h-1.3zM107.8 82.8h1.3v1.3h-1.3zM106.4 67.3h1.3v1.3h-1.3zM101.4 60.7h1.3v1.3h-1.3zM104.3 67.3h1.3v1.3h-1.3zM104.7 107.9h1.3v1.3h-1.3zM105.7 101.4h1.3v1.3h-1.3zM107.9 89.3h1.3v1.3h-1.3zM103.7 90.8h1.3v1.3h-1.3zM102.2 97.2h1.3v1.3h-1.3zM106 100.4h1.3v1.3h-1.3zM101.6 70.4h1.3v1.3h-1.3zM107.3 101.1h1.3v1.3h-1.3zM105.8 94.4h1.3v1.3h-1.3zM106.2 71.5h1.3v1.3h-1.3zM110.7 73.2h1.3v1.3h-1.3zM104.2 67.4h1.3v1.3h-1.3zM108.3 87.6h1.3v1.3h-1.3zM106.2 109.5h1.3v1.3h-1.3zM109 100.6h1.3v1.3h-1.3zM102.6 65.6h1.3v1.3h-1.3zM106.6 63.4h1.3v1.3h-1.3zM106.7 72.9h1.3v1.3h-1.3zM105.3 64.9h1.3v1.3h-1.3zM106.3 65.7h1.3v1.3h-1.3zM109.6 98.6h1.3v1.3h-1.3zM107.9 74.8h1.3v1.3h-1.3zM111.7 87.8h1.3v1.3h-1.3zM111.2 75.6h1.3v1.3h-1.3zM107.1 112.6h1.3v1.3h-1.3zM109.9 88.8h1.3v1.3h-1.3zM107.4 65h1.3v1.3h-1.3zM108.3 99.9h1.3v1.3h-1.3zM110 73.3h1.3v1.3h-1.3zM106 82.3h1.3v1.3h-1.3zM108.4 72.1h1.3v1.3h-1.3zM106.8 83.6h1.3v1.3h-1.3zM105.5 74.1h1.3v1.3h-1.3zM109.5 76h1.3v1.3h-1.3zM107.8 66.6h1.3v1.3h-1.3zM108 110.9h1.3v1.3h-1.3zM104.7 69h1.3v1.3h-1.3zM107.4 72.4h1.3v1.3h-1.3zM106.4 79.1h1.3v1.3h-1.3zM103.6 62.7h1.3v1.3h-1.3zM107.1 69.6h1.3v1.3h-1.3zM107.7 79.6h1.3v1.3h-1.3zM109.6 88.6h1.3v1.3h-1.3zM107.7 85.2h1.3v1.3h-1.3zM101.9 75.6h1.3v1.3h-1.3zM111.3 92.8h1.3v1.3h-1.3zM108.6 99.2h1.3v1.3h-1.3zM105.3 72.8h1.3v1.3h-1.3zM110.5 70.9h1.3v1.3h-1.3zM113.5 91.9h1.3v1.3h-1.3zM105.7 80h1.3v1.3h-1.3zM106.1 101.7h1.3v1.3h-1.3zM98.2 60.3h1.3v1.3h-1.3zM106.7 86.7h1.3v1.3h-1.3zM105.6 76.2h1.3v1.3h-1.3zM105.1 68.4h1.3v1.3h-1.3zM104.4 103.6h1.3v1.3h-1.3zM104 69.2h1.3v1.3h-1.3zM111.2 101.3h1.3v1.3h-1.3zM110.2 104.4h1.3v1.3h-1.3zM105.7 109.2h1.3v1.3h-1.3zM104.3 61.9h1.3v1.3h-1.3zM104.2 67h1.3v1.3h-1.3zM104.2 62.9h1.3v1.3h-1.3zM106.2 73.4h1.3v1.3h-1.3zM105.5 106.6h1.3v1.3h-1.3zM110.7 94h1.3v1.3h-1.3zM103.2 65.3h1.3v1.3h-1.3zM103.7 62.8h1.3v1.3h-1.3zM104.5 98.4h1.3v1.3h-1.3zM108.7 91.6h1.3v1.3h-1.3zM98.2 58h1.3v1.3h-1.3zM103.7 90h1.3v1.3h-1.3zM103 67.3h1.3v1.3h-1.3zM105.8 72.6h1.3v1.3h-1.3zM101.3 61.4h1.3v1.3h-1.3zM108.9 111.8h1.3v1.3h-1.3zM108.4 83.8h1.3v1.3h-1.3zM107.6 91.4h1.3v1.3h-1.3zM105.7 69.2h1.3v1.3h-1.3zM108.6 77.8h1.3v1.3h-1.3zM107.2 92.8h1.3v1.3h-1.3zM110.4 96.5h1.3v1.3h-1.3zM106.2 106.6h1.3v1.3h-1.3zM105.5 69h1.3v1.3h-1.3zM107.9 69.5h1.3v1.3h-1.3zM107 78.7h1.3v1.3h-1.3zM103 73.5h1.3v1.3h-1.3zM103.5 101.4h1.3v1.3h-1.3zM106.6 77.3h1.3v1.3h-1.3zM107.5 77.4h1.3v1.3h-1.3zM113.1 85h1.3v1.3h-1.3zM105.1 87.5h1.3v1.3h-1.3zM105.7 76.2h1.3v1.3h-1.3zM99.9 57.8h1.3v1.3h-1.3zM111.6 97.5h1.3v1.3h-1.3zM103.5 63.3h1.3v1.3h-1.3zM106.4 105.2h1.3v1.3h-1.3zM107.4 71.5h1.3v1.3h-1.3zM98.9 71.3h1.3v1.3h-1.3zM110.6 88h1.3v1.3h-1.3zM106.5 105.6h1.3v1.3h-1.3zM108.8 77.4h1.3v1.3h-1.3zM103.6 82.9h1.3v1.3h-1.3zM110.1 80.7h1.3v1.3h-1.3zM105.9 62.6h1.3v1.3h-1.3zM112.8 71.9h1.3v1.3h-1.3zM106.2 106.3h1.3v1.3h-1.3zM108.6 109.1h1.3v1.3h-1.3zM108.5 71.1h1.3v1.3h-1.3zM106.2 107.8h1.3v1.3h-1.3zM97 59.6h1.3v1.3h-1.3zM109.8 96.3h1.3v1.3h-1.3zM101.8 59.5h1.3v1.3h-1.3zM111.4 80.7h1.3v1.3h-1.3zM107.7 79.2h1.3v1.3h-1.3zM104.1 80.4h1.3v1.3h-1.3zM106.3 108.6h1.3v1.3h-1.3zM107.5 76.9h1.3v1.3h-1.3zM102.7 59.1h1.3v1.3h-1.3zM105.8 63.5h1.3v1.3h-1.3zM107.5 98.7h1.3v1.3h-1.3zM100.5 65.2h1.3v1.3h-1.3zM99.7 61.5h1.3v1.3h-1.3zM105.6 68.7h1.3v1.3h-1.3zM105.9 110.1h1.3v1.3h-1.3z" fill="#000" fill-opacity="0.8"/>
<path d="M110.6 69.5h1.2v1.2h-1.2zM110.5 58.1h1.2v1.2h-1.2zM106.7 98.1h1.2v1.2h-1.2zM107.8 97.8h1.2v1.2h-1.2zM107.7 98.1h1.2v1.2h-1.2zM108.8 88.7h1.2v1.2h-1.2zM113 92.5h1.2v1.2h-1.2zM110.9 96.3h1.2v1.2h-1.2zM108.9 86.3h1.2v1.2h-1.2zM108.3 93.2h1.2v1.2h-1.2zM103.4 68.9h1.2v1.2h-1.2zM109.6 86.3h1.2v1.2h-1.2zM104.1 91h1.2v1.2h-1.2zM105.8 88.2h1.2v1.2h-1.2zM107 71.2h1.2v1.2h-1.2zM102.5 64.1h1.2v1.2h-1.2zM103.3 90.7h1.2v1.2h-1.2zM104.1 62.1h1.2v1.2h-1.2zM104.2 99.8h1.2v1.2h-1.2zM107.5 66.1h1.2v1.2h-1.2zM108.3 99.1h1.2v1.2h-1.2zM103.2 75.2h1.2v1.2h-1.2zM108 106.9h1.2v1.2h-1.2zM108.5 70.9h1.2v1.2h-1.2zM105.9 66h1.2v1.2h-1.2zM107.3 94.2h1.2v1.2h-1.2zM106.2 98.9h1.2v1.2h-1.2zM113.8 74.6h1.2v1.2h-1.2zM108.6 83.3h1.2v1.2h-1.2zM108.2 92.6h1.2v1.2h-1.2zM106.2 72.8h1.2v1.2h-1.2zM103.9 78.3h1.2v1.2h-1.2zM106.6 87.7h1.2v1.2h-1.2zM109.2 72.7h1.2v1.2h-1.2zM106.2 64.6h1.2v1.2h-1.2zM107.8 107.1h1.2v1.2h-1.2zM105.2 63.1h1.2v1.2h-1.2zM103.1 110.6h1.2v1.2h-1.2zM107.4 104.1h1.2v1.2h-1.2zM111.2 81.1h1.2v1.2h-1.2zM107 103.1h1.2v1.2h-1.2zM95.5 60.4h1.2v1.2h-1.2zM105.7 86.7h1.2v1.2h-1.2zM101.3 76.8h1.2v1.2h-1.2zM104.2 72.1h1.2v1.2h-1.2zM114.1 106.4h1.2v1.2h-1.2zM101 60.4h1.2v1.2h-1.2zM104.1 105.7h1.2v1.2h-1.2zM98.1 60.7h1.2v1.2h-1.2zM107.1 93.6h1.2v1.2h-1.2zM111.2 71.3h1.2v1.2h-1.2zM105.5 86.1h1.2v1.2h-1.2zM107.9 108.7h1.2v1.2h-1.2zM108.2 102.6h1.2v1.2h-1.2zM102.1 62.9h1.2v1.2h-1.2zM109.6 73.4h1.2v1.2h-1.2zM106.7 83.4h1.2v1.2h-1.2zM105.3 95.5h1.2v1.2h-1.2zM99.2 57h1.2v1.2h-1.2zM107.8 103.2h1.2v1.2h-1.2zM113.5 104.7h1.2v1.2h-1.2zM109.4 109.4h1.2v1.2h-1.2zM103.5 69.1h1.2v1.2h-1.2zM106.1 69.1h1.2v1.2h-1.2zM104.4 103.7h1.2v1.2h-1.2zM105.2 85.3h1.2v1.2h-1.2zM100.3 69.9h1.2v1.2h-1.2zM103 58.4h1.2v1.2h-1.2zM104.1 69.5h1.2v1.2h-1.2zM107.3 95.1h1.2v1.2h-1.2zM99.4 97.7h1.2v1.2h-1.2zM108.7 75.1h1.2v1.2h-1.2zM101.8 108.2h1.2v1.2h-1.2zM104.2 84.4h1.2v1.2h-1.2zM109.7 85.1h1.2v1.2h-1.2zM108.8 77.9h1.2v1.2h-1.2zM108.2 79.9h1.2v1.2h-1.2zM108.1 74.9h1.2v1.2h-1.2zM108.9 102.4h1.2v1.2h-1.2zM104.4 82.2h1.2v1.2h-1.2zM100 71.2h1.2v1.2h-1.2zM105.3 82.1h1.2v1.2h-1.2zM105.9 106.8h1.2v1.2h-1.2zM107.9 92.4h1.2v1.2h-1.2zM105.5 63.8h1.2v1.2h-1.2zM104.4 80.3h1.2v1.2h-1.2zM110 82.3h1.2v1.2h-1.2zM98.1 57.9h1.2v1.2h-1.2zM108.1 110.5h1.2v1.2h-1.2zM103.4 106.3h1.2v1.2h-1.2zM107.7 61.6h1.2v1.2h-1.2zM108.3 86.6h1.2v1.2h-1.2zM101.1 74.1h1.2v1.2h-1.2zM104.9 69.8h1.2v1.2h-1.2zM113.8 71.8h1.2v1.2h-1.2zM105.7 61.4h1.2v1.2h-1.2zM105.7 94.1h1.2v1.2h-1.2zM112.4 76.7h1.2v1.2h-1.2zM107.3 95.2h1.2v1.2h-1.2zM106.4 101.3h1.2v1.2h-1.2zM110.2 89.4h1.2v1.2h-1.2zM105.7 74.6h1.2v1.2h-1.2zM104.7 63.6h1.2v1.2h-1.2zM105.4 93.8h1.2v1.2h-1.2zM115.1 94.4h1.2v1.2h-1.2zM103.6 100.6h1.2v1.2h-1.2zM97.1 64.1h1.2v1.2h-1.2zM107.1 60.8h1.2v1.2h-1.2zM101.9 104h1.2v1.2h-1.2zM110.4 90.2h1.2v1.2h-1.2zM101.5 62.8h1.2v1.2h-1.2zM105.5 94.4h1.2v1.2h-1.2zM105 60.1h1.2v1.2h-1.2zM104.3 90.6h1.2v1.2h-1.2zM108.6 86.8h1.2v1.2h-1.2zM109.4 96.1h1.2v1.2h-1.2zM107 62.2h1.2v1.2h-1.2zM104 105.4h1.2v1.2h-1.2zM102.3 109.3h1.2v1.2h-1.2zM115.5 110.1h1.2v1.2h-1.2zM103.8 99.4h1.2v1.2h-1.2zM108.4 73.4h1.2v1.2h-1.2zM105.8 109.5h1.2v1.2h-1.2zM106.6 91.4h1.2v1.2h-1.2zM112.7 96.4h1.2v1.2h-1.2zM106.7 93.7h1.2v1.2h-1.2zM109 68.7h1.2v1.2h-1.2zM104.1 104.2h1.2v1.2h-1.2zM110.7 92h1.2v1.2h-1.2zM101.2 69.5h1.2v1.2h-1.2zM108.3 78.4h1.2v1.2h-1.2zM104.9 64.4h1.2v1.2h-1.2zM105.9 79.9h1.2v1.2h-1.2zM102.3 110.9h1.2v1.2h-1.2zM105.6 78.9h1.2v1.2h-1.2zM103.2 78.6h1.2v1.2h-1.2zM105 102.3h1.2v1.2h-1.2zM104 61.6h1.2v1.2h-1.2zM106.9 63.7h1.2v1.2h-1.2zM105.8 99.2h1.2v1.2h-1.2zM106.7 65.6h1.2v1.2h-1.2zM111.4 91.2h1.2v1.2h-1.2zM107.3 101.1h1.2v1.2h-1.2zM110.1 87.9h1.2v1.2h-1.2zM105.3 61.8h1.2v1.2h-1.2zM103.2 67.5h1.2v1.2h-1.2zM110.1 87.7h1.2v1.2h-1.2zM104.8 109.8h1.2v1.2h-1.2zM112.1 92.3h1.2v1.2h-1.2zM106.4 94.4h1.2v1.2h-1.2zM111.6 89.9h1.2v1.2h-1.2zM105.4 73.5h1.2v1.2h-1.2zM107.1 91.2h1.2v1.2h-1.2zM100.2 58.1h1.2v1.2h-1.2zM109.4 78.7h1.2v1.2h-1.2zM107.1 102.1h1.2v1.2h-1.2zM102.9 67.6h1.2v1.2h-1.2zM108.4 92.5h1.2v1.2h-1.2zM106.7 96.8h1.2v1.2h-1.2zM105.5 64.9h1.2v1.2h-1.2zM104.4 104.5h1.2v1.2h-1.2zM109.6 71.4h1.2v1.2h-1.2zM102.9 110.8h1.2v1.2h-1.2zM109.5 75.8h1.2v1.2h-1.2zM109.3 91.2h1.2v1.2h-1.2zM111.7 108.3h1.2v1.2h-1.2zM108.8 102h1.2v1.2h-1.2zM107 84.5h1.2v1.2h-1.2zM108 66.9h1.2v1.2h-1.2zM106.8 90.9h1.2v1.2h-1.2zM103.1 90h1.2v1.2h-1.2zM102.4 61.2h1.2v1.2h-1.2zM108.3 79.3h1.2v1.2h-1.2zM106.2 107.4h1.2v1.2h-1.2zM113.6 85.4h1.2v1.2h-1.2zM103.4 65.9h1.2v1.2h-1.2zM111.2 92.6h1.2v1.2h-1.2zM109.1 82h1.2v1.2h-1.2zM105.7 106.6h1.2v1.2h-1.2zM105.2 84.2h1.2v1.2h-1.2zM102 60.5h1.2v1.2h-1.2zM102.4 65.5h1.2v1.2h-1.2zM101.7 67.8h1.2v1.2h-1.2zM101.8 109.9h1.2v1.2h-1.2zM111.8 76.5h1.2v1.2h-1.2zM109.4 74.4h1.2v1.2h-1.2zM104.4 109.4h1.2v1.2h-1.2zM106.1 68.3h1.2v1.2h-1.2zM105.2 91.9h1.2v1.2h-1.2zM107 108.7h1.2v1.2h-1.2zM104.6 105.9h1.2v1.2h-1.2zM104.3 67.5h1.2v1.2h-1.2zM105.3 83.1h1.2v1.2h-1.2zM104.3 71.4h1.2v1.2h-1.2zM109 95.3h1.2v1.2h-1.2zM100.2 70.1h1.2v1.2h-1.2zM109 66.6h1.2v1.2h-1.2zM108.4 71.5h1.2v1.2h-1.2zM98.4 64.6h1.2v1.2h-1.2zM108.5 95.9h1.2v1.2h-1.2zM105.3 72.5h1.2v1.2h-1.2zM105.4 79.2h1.2v1.2h-1.2zM105.8 70.2h1.2v1.2h-1.2zM106.8 77.3h1.2v1.2h-1.2zM104.1 74h1.2v1.2h-1.2zM105.5 76.7h1.2v1.2h-1.2zM111.1 96.1h1.2v1.2h-1.2zM100 66h1.2v1.2h-1.2zM110.5 94.6h1.2v1.2h-1.2zM104.5 75.9h1.2v1.2h-1.2zM105.2 62.7h1.2v1.2h-1.2zM106.4 63.1h1.2v1.2h-1.2zM105.4 106.3h1.2v1.2h-1.2zM102 58.3h1.2v1.2h-1.2zM105.7 71h1.2v1.2h-1.2zM111.2 105.7h1.2v1.2h-1.2zM108.6 62.4h1.2v1.2h-1.2zM104 69.4h1.2v1.2h-1.2zM105.7 72.2h1.2v1.2h-1.2zM103.9 102.5h1.2v1.2h-1.2z" fill="#777" fill-opacity="0.6"/>
<path d="M66 118h1.2v1.2h-1.2zM68 121h1.2v1.2h-1.2zM70 119h1.2v1.2h-1.2zM82 99h1.2v1.2h-1.2zM102 38h1.2v1.2h-1.2zM110 39h1.2v1.2h-1.2zM80 52h1.2v1.2h-1.2zM78 49h1.2v1.2h-1.2zM112 45h1.2v1.2h-1.2zM90 100h1.2v1.2h-1.2zM96 90h1.2v1.2h-1.2zM88 80h1.2v1.2h-1.2zM96 62h1.2v1.2h-1.2zM92 64h1.2v1.2h-1.2zM110 70h1.2v1.2h-1.2zM113 60h1.2v1.2h-1.2zM100 75h1.2v1.2h-1.2z" fill="#555" fill-opacity="0.6"/>
<path d="M216.1 56h1.3v1.3h-1.3zM213.8 58.1h1.3v1.3h-1.3zM227 43.2h1.3v1.3h-1.3zM213.8 47.3h1.3v1.3h-1.3zM213.3 48.8h1.3v1.3h-1.3zM213.6 53.8h1.3v1.3h-1.3zM218.4 50.3h1.3v1.3h-1.3zM213.9 50.9h1.3v1.3h-1.3zM214.5 52.3h1.3v1.3h-1.3zM213.9 52.2h1.3v1.3h-1.3zM207.7 54.6h1.3v1.3h-1.3zM222.2 49.2h1.3v1.3h-1.3zM207.2 56.6h1.3v1.3h-1.3zM212.4 40.7h1.3v1.3h-1.3zM212.9 52.8h1.3v1.3h-1.3zM215.8 54.3h1.3v1.3h-1.3zM216.9 50.2h1.3v1.3h-1.3zM214.8 52.6h1.3v1.3h-1.3zM209.1 49.5h1.3v1.3h-1.3zM216.2 43.5h1.3v1.3h-1.3zM204.7 51.8h1.3v1.3h-1.3zM215.1 48.6h1.3v1.3h-1.3zM207.6 54.1h1.3v1.3h-1.3zM213.5 51.5h1.3v1.3h-1.3zM217 48h1.3v1.3h-1.3zM217.9 53.8h1.3v1.3h-1.3zM215.8 54.6h1.3v1.3h-1.3zM211 54.3h1.3v1.3h-1.3zM215.2 46.8h1.3v1.3h-1.3zM213.6 48.8h1.3v1.3h-1.3zM211.3 51.4h1.3v1.3h-1.3zM219 48.3h1.3v1.3h-1.3zM214.5 45.3h1.3v1.3h-1.3zM214.5 54.3h1.3v1.3h-1.3zM217.8 51.2h1.3v1.3h-1.3zM211.4 47.7h1.3v1.3h-1.3zM213.5 46h1.3v1.3h-1.3zM208.1 55h1.3v1.3h-1.3zM209.6 57.6h1.3v1.3h-1.3zM207.2 53.5h1.3v1.3h-1.3zM208.4 52.3h1.3v1.3h-1.3zM209 51.7h1.3v1.3h-1.3zM213.2 49.1h1.3v1.3h-1.3zM216.4 55.1h1.3v1.3h-1.3zM211.1 54.1h1.3v1.3h-1.3zM214.3 50.3h1.3v1.3h-1.3zM224.4 40.7h1.3v1.3h-1.3zM210.7 45h1.3v1.3h-1.3zM212.5 50h1.3v1.3h-1.3zM232.1 47.6h1.3v1.3h-1.3zM222.5 53h1.3v1.3h-1.3zM211.9 52.6h1.3v1.3h-1.3zM221.9 49.3h1.3v1.3h-1.3zM214.9 52h1.3v1.3h-1.3zM206.8 49.3h1.3v1.3h-1.3zM215.5 52h1.3v1.3h-1.3zM209.6 50.4h1.3v1.3h-1.3zM213.4 50.1h1.3v1.3h-1.3zM217.2 50.1h1.3v1.3h-1.3zM214.7 45.5h1.3v1.3h-1.3zM208.9 52.7h1.3v1.3h-1.3zM210.8 48.4h1.3v1.3h-1.3zM217 47.5h1.3v1.3h-1.3zM209.8 49.1h1.3v1.3h-1.3zM214.2 59.8h1.3v1.3h-1.3zM212.8 54h1.3v1.3h-1.3zM212.1 42.4h1.3v1.3h-1.3zM220.2 45.3h1.3v1.3h-1.3zM213.6 45.9h1.3v1.3h-1.3zM208.7 49.9h1.3v1.3h-1.3zM218 52.4h1.3v1.3h-1.3zM211 52.8h1.3v1.3h-1.3zM212.1 51.2h1.3v1.3h-1.3zM214.6 52.4h1.3v1.3h-1.3zM210.9 50.7h1.3v1.3h-1.3zM214.9 50.5h1.3v1.3h-1.3zM210.1 57.2h1.3v1.3h-1.3zM211.7 53.5h1.3v1.3h-1.3zM214.8 54.4h1.3v1.3h-1.3zM212.9 46.5h1.3v1.3h-1.3zM214.5 58h1.3v1.3h-1.3zM216.3 45.7h1.3v1.3h-1.3zM211.7 55.5h1.3v1.3h-1.3zM207.2 51.3h1.3v1.3h-1.3zM212.5 58.1h1.3v1.3h-1.3zM212.5 55.2h1.3v1.3h-1.3zM210.6 48.4h1.3v1.3h-1.3zM218.6 51.5h1.3v1.3h-1.3zM205.6 54.5h1.3v1.3h-1.3zM216.9 47.6h1.3v1.3h-1.3zM214.9 51.1h1.3v1.3h-1.3zM211.5 49h1.3v1.3h-1.3zM210.7 50.2h1.3v1.3h-1.3zM207.5 51.7h1.3v1.3h-1.3zM206.7 52.3h1.3v1.3h-1.3zM213.4 47h1.3v1.3h-1.3zM217.9 56.1h1.3v1.3h-1.3zM220.2 44.3h1.3v1.3h-1.3zM219.9 49.8h1.3v1.3h-1.3zM213.6 48.4h1.3v1.3h-1.3zM213.8 55.2h1.3v1.3h-1.3zM216.4 48.4h1.3v1.3h-1.3zM210.6 49.7h1.3v1.3h-1.3zM216.6 56.2h1.3v1.3h-1.3zM208.8 51.5h1.3v1.3h-1.3zM212 48.3h1.3v1.3h-1.3zM215.7 51.9h1.3v1.3h-1.3zM207.1 48.4h1.3v1.3h-1.3zM219.5 50.2h1.3v1.3h-1.3zM216.3 48.2h1.3v1.3h-1.3zM212 52.4h1.3v1.3h-1.3zM211.5 47.2h1.3v1.3h-1.3zM213.8 53.5h1.3v1.3h-1.3zM208.9 55.1h1.3v1.3h-1.3zM217.2 46.7h1.3v1.3h-1.3zM213.9 50.3h1.3v1.3h-1.3zM216.8 52h1.3v1.3h-1.3zM207.6 47.2h1.3v1.3h-1.3zM218.7 49.7h1.3v1.3h-1.3zM215.8 51.1h1.3v1.3h-1.3zM221.1 44.7h1.3v1.3h-1.3zM219 46.5h1.3v1.3h-1.3zM217.3 54.2h1.3v1.3h-1.3zM207.3 53.3h1.3v1.3h-1.3zM212.5 49.7h1.3v1.3h-1.3zM214 46.8h1.3v1.3h-1.3zM217.8 47.6h1.3v1.3h-1.3zM219.1 50.5h1.3v1.3h-1.3zM208.9 49.5h1.3v1.3h-1.3zM215 46.9h1.3v1.3h-1.3zM221.4 49.2h1.3v1.3h-1.3zM215.7 46.5h1.3v1.3h-1.3zM209.5 48.7h1.3v1.3h-1.3zM215.1 49.2h1.3v1.3h-1.3zM212.5 51.8h1.3v1.3h-1.3zM214.9 55.2h1.3v1.3h-1.3zM212.9 47.2h1.3v1.3h-1.3zM213.8 55.4h1.3v1.3h-1.3zM211.2 51.2h1.3v1.3h-1.3zM212.1 52.2h1.3v1.3h-1.3zM215.1 47.4h1.3v1.3h-1.3zM212.8 53.8h1.3v1.3h-1.3zM219 52.4h1.3v1.3h-1.3zM217.9 48.4h1.3v1.3h-1.3zM212.1 53.9h1.3v1.3h-1.3zM210.5 47.1h1.3v1.3h-1.3zM216.6 47.3h1.3v1.3h-1.3zM212.1 49.9h1.3v1.3h-1.3zM210.4 56h1.3v1.3h-1.3zM211.5 51.6h1.3v1.3h-1.3zM207.7 50.2h1.3v1.3h-1.3zM212.3 49.7h1.3v1.3h-1.3zM211.1 51.5h1.3v1.3h-1.3zM221.2 48.3h1.3v1.3h-1.3zM213.2 49.3h1.3v1.3h-1.3zM225.8 53.2h1.3v1.3h-1.3zM216.5 52.2h1.3v1.3h-1.3zM210.5 50.7h1.3v1.3h-1.3zM214.8 50.6h1.3v1.3h-1.3zM209.8 48.7h1.3v1.3h-1.3zM216.3 50.9h1.3v1.3h-1.3zM219.8 46.9h1.3v1.3h-1.3zM215 45.3h1.3v1.3h-1.3zM217.8 45.8h1.3v1.3h-1.3zM208 50.7h1.3v1.3h-1.3zM225 45.9h1.3v1.3h-1.3zM207.9 53.3h1.3v1.3h-1.3zM214.9 55.8h1.3v1.3h-1.3zM207.9 46.4h1.3v1.3h-1.3zM212.4 52h1.3v1.3h-1.3zM215.5 53.7h1.3v1.3h-1.3zM213.2 53.4h1.3v1.3h-1.3zM216.1 48.5h1.3v1.3h-1.3zM209 54.5h1.3v1.3h-1.3zM218.3 58.6h1.3v1.3h-1.3zM213 56.1h1.3v1.3h-1.3zM208.2 49.9h1.3v1.3h-1.3zM210.7 49.6h1.3v1.3h-1.3zM209.7 49.5h1.3v1.3h-1.3zM213.6 49h1.3v1.3h-1.3zM217 49.4h1.3v1.3h-1.3zM213.9 55.4h1.3v1.3h-1.3zM215.3 50.6h1.3v1.3h-1.3zM213.8 50.7h1.3v1.3h-1.3zM216.6 47.1h1.3v1.3h-1.3zM219.2 54.5h1.3v1.3h-1.3zM219.3 47.6h1.3v1.3h-1.3zM214.6 53.1h1.3v1.3h-1.3zM213 49.6h1.3v1.3h-1.3zM221 46.6h1.3v1.3h-1.3zM218.9 52.3h1.3v1.3h-1.3zM207.6 52.8h1.3v1.3h-1.3zM211.2 47.8h1.3v1.3h-1.3zM215.8 48.7h1.3v1.3h-1.3zM215.1 46.6h1.3v1.3h-1.3zM212.4 49.9h1.3v1.3h-1.3zM215.9 50.5h1.3v1.3h-1.3zM209.5 51.1h1.3v1.3h-1.3zM217 55.9h1.3v1.3h-1.3zM209.7 53.4h1.3v1.3h-1.3zM223.8 48.4h1.3v1.3h-1.3zM220.8 40.2h1.3v1.3h-1.3zM220.7 48.9h1.3v1.3h-1.3zM218.8 53.4h1.3v1.3h-1.3zM219.5 49.1h1.3v1.3h-1.3zM210.3 49.7h1.3v1.3h-1.3zM213.7 51.8h1.3v1.3h-1.3zM211.6 51.1h1.3v1.3h-1.3zM218 50.6h1.3v1.3h-1.3zM224.7 55.3h1.3v1.3h-1.3zM208.5 49.7h1.3v1.3h-1.3zM207.7 47.9h1.3v1.3h-1.3zM216.4 46.5h1.3v1.3h-1.3zM208.9 50.6h1.3v1.3h-1.3zM217.6 48.4h1.3v1.3h-1.3zM212.2 53.9h1.3v1.3h-1.3zM216.1 51.5h1.3v1.3h-1.3zM218.3 46h1.3v1.3h-1.3zM214.9 48.1h1.3v1.3h-1.3zM218.7 52.1h1.3v1.3h-1.3zM208.9 56.1h1.3v1.3h-1.3zM214.8 47.3h1.3v1.3h-1.3zM208.6 50.6h1.3v1.3h-1.3zM213.7 48.1h1.3v1.3h-1.3zM216.5 45.1h1.3v1.3h-1.3zM213.8 50.4h1.3v1.3h-1.3zM207.9 43.3h1.3v1.3h-1.3zM211 50.3h1.3v1.3h-1.3zM218.1 47.8h1.3v1.3h-1.3zM220.8 53.7h1.3v1.3h-1.3zM219 53.7h1.3v1.3h-1.3zM215.5 48.2h1.3v1.3h-1.3zM216.9 53h1.3v1.3h-1.3zM215 49.3h1.3v1.3h-1.3zM215.5 45.6h1.3v1.3h-1.3zM214.3 52.8h1.3v1.3h-1.3zM213.3 53.2h1.3v1.3h-1.3zM217.4 44.6h1.3v1.3h-1.3zM212.4 52.4h1.3v1.3h-1.3zM218.2 54.2h1.3v1.3h-1.3zM217.2 53.8h1.3v1.3h-1.3zM221.8 45.5h1.3v1.3h-1.3zM212.1 47.3h1.3v1.3h-1.3zM217.7 45.1h1.3v1.3h-1.3zM219.5 52.3h1.3v1.3h-1.3zM216.2 42.5h1.3v1.3h-1.3zM210.6 53.7h1.3v1.3h-1.3zM207.1 51.1h1.3v1.3h-1.3zM213.4 53.6h1.3v1.3h-1.3zM215.2 51.1h1.3v1.3h-1.3zM211.8 50.9h1.3v1.3h-1.3zM213.2 53h1.3v1.3h-1.3zM213 54.1h1.3v1.3h-1.3zM205.8 56.3h1.3v1.3h-1.3zM213 54.4h1.3v1.3h-1.3zM214.2 53.2h1.3v1.3h-1.3zM220.9 47h1.3v1.3h-1.3zM214.2 49.8h1.3v1.3h-1.3zM214.8 44.7h1.3v1.3h-1.3zM213 49.8h1.3v1.3h-1.3zM210.1 50.6h1.3v1.3h-1.3zM206.5 56.8h1.3v1.3h-1.3zM216 56.3h1.3v1.3h-1.3zM209.7 47.4h1.3v1.3h-1.3zM215.2 44.5h1.3v1.3h-1.3zM214.9 47.8h1.3v1.3h-1.3zM212.3 51.6h1.3v1.3h-1.3zM214.1 56.7h1.3v1.3h-1.3zM216.8 45.4h1.3v1.3h-1.3zM218.5 44.8h1.3v1.3h-1.3zM214.2 46.1h1.3v1.3h-1.3zM211.2 48.8h1.3v1.3h-1.3zM211.2 50h1.3v1.3h-1.3zM220.7 44.9h1.3v1.3h-1.3zM208 53.7h1.3v1.3h-1.3zM206.3 50.9h1.3v1.3h-1.3zM219.2 49.2h1.3v1.3h-1.3zM211.5 48.5h1.3v1.3h-1.3zM214.5 54.5h1.3v1.3h-1.3zM218.4 47.5h1.3v1.3h-1.3zM210.3 53.5h1.3v1.3h-1.3zM212.2 47h1.3v1.3h-1.3zM209.1 52.6h1.3v1.3h-1.3zM210.7 51.3h1.3v1.3h-1.3zM207.3 55.5h1.3v1.3h-1.3zM212.3 49.8h1.3v1.3h-1.3zM212 48.5h1.3v1.3h-1.3zM209.1 55.3h1.3v1.3h-1.3zM214.7 49.8h1.3v1.3h-1.3zM218.4 46.9h1.3v1.3h-1.3zM216.7 49.8h1.3v1.3h-1.3zM209.5 53.9h1.3v1.3h-1.3zM206.6 54.1h1.3v1.3h-1.3zM209.5 52.7h1.3v1.3h-1.3zM220.2 50.8h1.3v1.3h-1.3zM210.8 50.9h1.3v1.3h-1.3zM211.9 46.8h1.3v1.3h-1.3zM208.4 51.7h1.3v1.3h-1.3zM216.2 43.8h1.3v1.3h-1.3zM213.3 52.1h1.3v1.3h-1.3zM214.1 46.8h1.3v1.3h-1.3zM218.5 45.1h1.3v1.3h-1.3zM216.7 55h1.3v1.3h-1.3zM204 53.3h1.3v1.3h-1.3zM215.1 50.7h1.3v1.3h-1.3zM210 50.1h1.3v1.3h-1.3zM216.1 47.5h1.3v1.3h-1.3zM213.5 50.5h1.3v1.3h-1.3zM213.1 50.6h1.3v1.3h-1.3zM207.4 42.5h1.3v1.3h-1.3zM216.5 54.4h1.3v1.3h-1.3zM215 53.2h1.3v1.3h-1.3zM216.6 53.9h1.3v1.3h-1.3zM213.3 51.7h1.3v1.3h-1.3zM215.5 48.4h1.3v1.3h-1.3zM219.2 51.1h1.3v1.3h-1.3zM218.1 47.9h1.3v1.3h-1.3zM218.4 45.6h1.3v1.3h-1.3zM215.4 41.1h1.3v1.3h-1.3zM208.8 53.8h1.3v1.3h-1.3zM211.4 51.3h1.3v1.3h-1.3zM205.9 57.2h1.3v1.3h-1.3zM216.3 49.5h1.3v1.3h-1.3zM215.5 50.9h1.3v1.3h-1.3zM220.2 49.5h1.3v1.3h-1.3zM219.6 50.8h1.3v1.3h-1.3zM211.5 52.8h1.3v1.3h-1.3zM214.1 52.2h1.3v1.3h-1.3zM216.7 48.8h1.3v1.3h-1.3zM215.2 56.5h1.3v1.3h-1.3zM212.1 51.4h1.3v1.3h-1.3zM210.9 48.8h1.3v1.3h-1.3zM213.2 45.5h1.3v1.3h-1.3zM213 54.1h1.3v1.3h-1.3zM214.1 50.6h1.3v1.3h-1.3zM216.7 52h1.3v1.3h-1.3zM207.9 55.6h1.3v1.3h-1.3zM209 52h1.3v1.3h-1.3zM225.5 47.8h1.3v1.3h-1.3zM221.3 47.3h1.3v1.3h-1.3zM216.4 49.8h1.3v1.3h-1.3zM215.5 47h1.3v1.3h-1.3zM209.2 52.4h1.3v1.3h-1.3zM206.2 49.1h1.3v1.3h-1.3zM216.5 47.5h1.3v1.3h-1.3zM209.4 47.5h1.3v1.3h-1.3zM214.2 48.9h1.3v1.3h-1.3zM214.2 49.5h1.3v1.3h-1.3zM222.2 46.9h1.3v1.3h-1.3zM204.4 52.7h1.3v1.3h-1.3zM213.5 50.8h1.3v1.3h-1.3zM213.4 50.2h1.3v1.3h-1.3zM206.1 53.5h1.3v1.3h-1.3zM213.2 54.9h1.3v1.3h-1.3zM211.6 46.6h1.3v1.3h-1.3zM214.1 47.1h1.3v1.3h-1.3zM215.5 46.2h1.3v1.3h-1.3zM212.9 49.6h1.3v1.3h-1.3zM213.4 48.6h1.3v1.3h-1.3zM209.7 50.9h1.3v1.3h-1.3zM210.8 51.4h1.3v1.3h-1.3zM212.3 43.1h1.3v1.3h-1.3zM213.2 55h1.3v1.3h-1.3zM214.9 51.9h1.3v1.3h-1.3zM215.7 48.2h1.3v1.3h-1.3zM207.3 54.4h1.3v1.3h-1.3zM218.4 51.1h1.3v1.3h-1.3zM215.5 51.1h1.3v1.3h-1.3zM213.4 51.2h1.3v1.3h-1.3zM213.6 51.3h1.3v1.3h-1.3zM209.1 49.2h1.3v1.3h-1.3zM216.2 48.6h1.3v1.3h-1.3zM216.9 51.8h1.3v1.3h-1.3zM210.5 47.2h1.3v1.3h-1.3zM212.6 50.6h1.3v1.3h-1.3zM210 51.6h1.3v1.3h-1.3zM216.7 51.5h1.3v1.3h-1.3zM208.8 44.2h1.3v1.3h-1.3zM213.6 48.1h1.3v1.3h-1.3zM215.6 55.2h1.3v1.3h-1.3zM221.1 49.5h1.3v1.3h-1.3zM218.7 54.6h1.3v1.3h-1.3zM213.8 51.1h1.3v1.3h-1.3zM217.5 49.3h1.3v1.3h-1.3zM211.3 48.3h1.3v1.3h-1.3zM213.6 48.2h1.3v1.3h-1.3zM217.3 48.4h1.3v1.3h-1.3zM220.3 52.8h1.3v1.3h-1.3zM211.8 55.2h1.3v1.3h-1.3zM216 49.6h1.3v1.3h-1.3zM216.7 47.8h1.3v1.3h-1.3zM215.1 51.2h1.3v1.3h-1.3zM213 51.7h1.3v1.3h-1.3zM209.1 53.2h1.3v1.3h-1.3zM208.1 53.6h1.3v1.3h-1.3zM215.8 52.2h1.3v1.3h-1.3zM211.1 60.8h1.3v1.3h-1.3zM212.6 51.1h1.3v1.3h-1.3zM210.2 55.8h1.3v1.3h-1.3zM211.5 54.1h1.3v1.3h-1.3zM209.4 52.3h1.3v1.3h-1.3zM212 53.8h1.3v1.3h-1.3zM212.4 47.8h1.3v1.3h-1.3zM215.8 46h1.3v1.3h-1.3zM209.4 53.9h1.3v1.3h-1.3zM211.9 47.8h1.3v1.3h-1.3zM214.9 52.2h1.3v1.3h-1.3zM211.1 50.4h1.3v1.3h-1.3zM217.4 52h1.3v1.3h-1.3zM213.5 47.9h1.3v1.3h-1.3zM209.5 49.4h1.3v1.3h-1.3zM216.9 51.6h1.3v1.3h-1.3zM215.2 54.6h1.3v1.3h-1.3zM212.4 49.5h1.3v1.3h-1.3zM212.1 57h1.3v1.3h-1.3zM215.9 50.2h1.3v1.3h-1.3zM224.4 51.8h1.3v1.3h-1.3zM217.3 46.7h1.3v1.3h-1.3zM216.1 48.7h1.3v1.3h-1.3zM214.1 51h1.3v1.3h-1.3zM211.7 53h1.3v1.3h-1.3zM221.3 52.1h1.3v1.3h-1.3zM214.9 44h1.3v1.3h-1.3zM218.8 52.8h1.3v1.3h-1.3zM213 49.1h1.3v1.3h-1.3zM216.9 47.2h1.3v1.3h-1.3zM217.5 46.2h1.3v1.3h-1.3zM209.8 51.5h1.3v1.3h-1.3zM216.3 45.7h1.3v1.3h-1.3zM218.1 47.7h1.3v1.3h-1.3zM216.4 50.6h1.3v1.3h-1.3zM211.9 49.2h1.3v1.3h-1.3zM210.5 56.6h1.3v1.3h-1.3zM218.5 45h1.3v1.3h-1.3zM217.6 50.4h1.3v1.3h-1.3zM212.2 52.4h1.3v1.3h-1.3zM217.5 47.8h1.3v1.3h-1.3zM212.7 51.3h1.3v1.3h-1.3zM209.5 52.1h1.3v1.3h-1.3zM213.6 48.4h1.3v1.3h-1.3zM210.2 52.3h1.3v1.3h-1.3zM217.9 50.7h1.3v1.3h-1.3zM210.1 53.8h1.3v1.3h-1.3zM214.7 52.2h1.3v1.3h-1.3zM219.2 46.4h1.3v1.3h-1.3zM213.4 48.7h1.3v1.3h-1.3zM210.1 57.8h1.3v1.3h-1.3zM218.2 43.9h1.3v1.3h-1.3zM215.9 48.3h1.3v1.3h-1.3zM219.1 49.6h1.3v1.3h-1.3zM213.2 51.1h1.3v1.3h-1.3zM215.7 50.2h1.3v1.3h-1.3zM213 50.3h1.3v1.3h-1.3zM216.3 46.4h1.3v1.3h-1.3zM214 50.1h1.3v1.3h-1.3zM211.8 53.4h1.3v1.3h-1.3zM208.2 50.6h1.3v1.3h-1.3zM210.2 53.1h1.3v1.3h-1.3zM211.9 51.1h1.3v1.3h-1.3zM215.7 45h1.3v1.3h-1.3zM216 47.6h1.3v1.3h-1.3zM212.9 50.4h1.3v1.3h-1.3zM217.6 52.1h1.3v1.3h-1.3zM221.9 49.3h1.3v1.3h-1.3zM211.9 49.4h1.3v1.3h-1.3zM216.9 55h1.3v1.3h-1.3zM215.5 48.3h1.3v1.3h-1.3zM215.2 51h1.3v1.3h-1.3zM214.1 48.1h1.3v1.3h-1.3zM218.7 50.1h1.3v1.3h-1.3zM214.9 46.4h1.3v1.3h-1.3zM217.6 47.2h1.3v1.3h-1.3zM216.5 50h1.3v1.3h-1.3zM208.7 53.8h1.3v1.3h-1.3zM208 56.1h1.3v1.3h-1.3zM214.3 47.1h1.3v1.3h-1.3zM205.9 57.5h1.3v1.3h-1.3zM220.5 45h1.3v1.3h-1.3zM221.4 49.4h1.3v1.3h-1.3zM213 50.4h1.3v1.3h-1.3zM212.8 55.4h1.3v1.3h-1.3zM214.7 44.4h1.3v1.3h-1.3zM223.4 51.2h1.3v1.3h-1.3zM209.1 50.5h1.3v1.3h-1.3zM209.9 51.6h1.3v1.3h-1.3zM215.8 50.9h1.3v1.3h-1.3zM211.3 48.5h1.3v1.3h-1.3zM217.8 49.3h1.3v1.3h-1.3zM224.1 45.6h1.3v1.3h-1.3zM217.5 49.9h1.3v1.3h-1.3zM210.6 55.6h1.3v1.3h-1.3zM214.6 47.5h1.3v1.3h-1.3zM212.6 54.1h1.3v1.3h-1.3zM208.5 56.2h1.3v1.3h-1.3zM217.1 48.9h1.3v1.3h-1.3zM220.1 54.7h1.3v1.3h-1.3zM216.7 50.4h1.3v1.3h-1.3zM222.3 53.4h1.3v1.3h-1.3zM209.8 50.8h1.3v1.3h-1.3zM213 49.4h1.3v1.3h-1.3zM214.4 50.7h1.3v1.3h-1.3zM220.3 47.3h1.3v1.3h-1.3zM213.7 51.4h1.3v1.3h-1.3zM212.1 50.6h1.3v1.3h-1.3zM217.4 49.7h1.3v1.3h-1.3zM220 46.7h1.3v1.3h-1.3zM214.9 45.7h1.3v1.3h-1.3zM213.5 48.4h1.3v1.3h-1.3zM220.1 51.5h1.3v1.3h-1.3zM216.3 55.9h1.3v1.3h-1.3zM220.5 51.4h1.3v1.3h-1.3zM210.9 46.5h1.3v1.3h-1.3zM213.9 49.4h1.3v1.3h-1.3zM211.1 50.2h1.3v1.3h-1.3zM208.8 49.5h1.3v1.3h-1.3zM216.6 44.7h1.3v1.3h-1.3zM218.2 52.6h1.3v1.3h-1.3zM212.6 47.3h1.3v1.3h-1.3zM211.9 45h1.3v1.3h-1.3zM220.3 49.3h1.3v1.3h-1.3zM210.7 48.3h1.3v1.3h-1.3zM216.6 54.8h1.3v1.3h-1.3zM208.2 49.9h1.3v1.3h-1.3zM214.7 57.7h1.3v1.3h-1.3zM213.4 49.2h1.3v1.3h-1.3zM210.8 54h1.3v1.3h-1.3zM206.6 54.6h1.3v1.3h-1.3zM215.1 48.6h1.3v1.3h-1.3zM209.9 54.9h1.3v1.3h-1.3zM222.5 47.1h1.3v1.3h-1.3zM216.4 55.6h1.3v1.3h-1.3zM211.2 50.3h1.3v1.3h-1.3zM208.4 51.3h1.3v1.3h-1.3zM213.6 49.2h1.3v1.3h-1.3zM210.6 46.1h1.3v1.3h-1.3zM207.9 48.7h1.3v1.3h-1.3zM216.9 48.2h1.3v1.3h-1.3zM216.6 47.5h1.3v1.3h-1.3zM211.1 53.3h1.3v1.3h-1.3zM215.7 47.4h1.3v1.3h-1.3zM215.1 50.2h1.3v1.3h-1.3zM219.1 46.5h1.3v1.3h-1.3zM218 51h1.3v1.3h-1.3zM209.4 55h1.3v1.3h-1.3zM218.2 45.2h1.3v1.3h-1.3zM223.1 44.7h1.3v1.3h-1.3zM209.8 50.4h1.3v1.3h-1.3zM217.5 51.6h1.3v1.3h-1.3zM213.6 55.1h1.3v1.3h-1.3zM215.9 54.7h1.3v1.3h-1.3zM226.9 48.2h1.3v1.3h-1.3zM209.1 51.9h1.3v1.3h-1.3zM214.4 46.4h1.3v1.3h-1.3zM208.7 50.8h1.3v1.3h-1.3zM213.1 42.1h1.3v1.3h-1.3zM218.5 49.6h1.3v1.3h-1.3zM214 51.5h1.3v1.3h-1.3zM209.3 51.4h1.3v1.3h-1.3zM218.8 53h1.3v1.3h-1.3zM216.1 49.1h1.3v1.3h-1.3zM210.2 55.7h1.3v1.3h-1.3zM216.4 48.5h1.3v1.3h-1.3zM214.9 47.8h1.3v1.3h-1.3zM212.7 59.5h1.3v1.3h-1.3zM219.7 44.7h1.3v1.3h-1.3zM213.4 46.5h1.3v1.3h-1.3zM205.9 52.9h1.3v1.3h-1.3zM225.3 53.2h1.3v1.3h-1.3zM214.2 49.2h1.3v1.3h-1.3zM214.9 53.8h1.3v1.3h-1.3zM207.1 45.8h1.3v1.3h-1.3zM222.9 49.5h1.3v1.3h-1.3zM221.6 49.6h1.3v1.3h-1.3zM221 46.9h1.3v1.3h-1.3zM216.3 55.2h1.3v1.3h-1.3zM218.8 47.9h1.3v1.3h-1.3zM218.2 47.3h1.3v1.3h-1.3zM220.6 51.9h1.3v1.3h-1.3zM208 54.8h1.3v1.3h-1.3zM217.2 48.2h1.3v1.3h-1.3zM218.2 51.2h1.3v1.3h-1.3zM205.8 47.3h1.3v1.3h-1.3zM218.8 52.1h1.3v1.3h-1.3zM216.4 49.1h1.3v1.3h-1.3zM215.9 48.2h1.3v1.3h-1.3zM212.5 47.9h1.3v1.3h-1.3zM215.2 48.8h1.3v1.3h-1.3zM218.5 51.9h1.3v1.3h-1.3zM210.1 57.6h1.3v1.3h-1.3zM208.6 53.2h1.3v1.3h-1.3zM219.2 53.7h1.3v1.3h-1.3zM219.8 54.1h1.3v1.3h-1.3zM213.5 49.1h1.3v1.3h-1.3zM220.4 46.7h1.3v1.3h-1.3zM219.9 51.1h1.3v1.3h-1.3zM207 48.7h1.3v1.3h-1.3zM211.8 51.3h1.3v1.3h-1.3zM218.8 48.8h1.3v1.3h-1.3zM218.4 44.1h1.3v1.3h-1.3zM216.2 48.8h1.3v1.3h-1.3zM209.2 53h1.3v1.3h-1.3zM223.3 48.1h1.3v1.3h-1.3zM210.5 48.4h1.3v1.3h-1.3zM223.4 48.2h1.3v1.3h-1.3zM216.9 54h1.3v1.3h-1.3zM219.2 46.2h1.3v1.3h-1.3zM218.6 52.4h1.3v1.3h-1.3zM216.3 53.4h1.3v1.3h-1.3zM211.3 50.9h1.3v1.3h-1.3zM211.5 53.7h1.3v1.3h-1.3zM210.9 52.6h1.3v1.3h-1.3zM208.7 51.3h1.3v1.3h-1.3zM212.3 50.5h1.3v1.3h-1.3zM214.6 49.7h1.3v1.3h-1.3zM212.9 43.6h1.3v1.3h-1.3zM219.3 47.2h1.3v1.3h-1.3zM212.8 47.9h1.3v1.3h-1.3zM218.8 46.3h1.3v1.3h-1.3zM216.4 54h1.3v1.3h-1.3zM221.9 52.8h1.3v1.3h-1.3zM217 45.7h1.3v1.3h-1.3zM220.2 53.2h1.3v1.3h-1.3zM218 52.4h1.3v1.3h-1.3zM214.4 48.7h1.3v1.3h-1.3zM219.2 53.7h1.3v1.3h-1.3zM209 54.8h1.3v1.3h-1.3zM215.2 53.3h1.3v1.3h-1.3zM215.4 54h1.3v1.3h-1.3zM219 52.5h1.3v1.3h-1.3zM207.5 54.8h1.3v1.3h-1.3zM214.3 46.6h1.3v1.3h-1.3zM217.4 45.1h1.3v1.3h-1.3zM218.3 55.4h1.3v1.3h-1.3zM211.7 54.2h1.3v1.3h-1.3zM216.2 52.3h1.3v1.3h-1.3zM207.6 54.1h1.3v1.3h-1.3zM214.7 52.9h1.3v1.3h-1.3zM214.1 54.3h1.3v1.3h-1.3zM215.4 52.6h1.3v1.3h-1.3zM220.6 49.7h1.3v1.3h-1.3zM218.8 50.3h1.3v1.3h-1.3zM216.6 48.2h1.3v1.3h-1.3zM217.8 53.9h1.3v1.3h-1.3zM213.7 53.4h1.3v1.3h-1.3zM216.2 46.4h1.3v1.3h-1.3zM215.8 54.7h1.3v1.3h-1.3zM211.8 45.1h1.3v1.3h-1.3zM215.1 48.2h1.3v1.3h-1.3zM223.1 48.4h1.3v1.3h-1.3zM214.1 48.5h1.3v1.3h-1.3zM215.3 48.4h1.3v1.3h-1.3zM209.9 51.3h1.3v1.3h-1.3zM210.3 55.9h1.3v1.3h-1.3zM208.7 51.6h1.3v1.3h-1.3zM210.9 46.7h1.3v1.3h-1.3zM222 41.7h1.3v1.3h-1.3zM221 44.3h1.3v1.3h-1.3zM214.6 58.1h1.3v1.3h-1.3zM220.3 49.8h1.3v1.3h-1.3zM211.6 51.1h1.3v1.3h-1.3zM209.6 52h1.3v1.3h-1.3zM221.2 47.7h1.3v1.3h-1.3zM214.8 54.5h1.3v1.3h-1.3zM223.5 46.5h1.3v1.3h-1.3zM215.6 48.4h1.3v1.3h-1.3zM211.1 49.9h1.3v1.3h-1.3zM211.2 45.4h1.3v1.3h-1.3zM204.8 50.2h1.3v1.3h-1.3zM214.8 54.5h1.3v1.3h-1.3zM211.7 50.6h1.3v1.3h-1.3zM217.3 52.4h1.3v1.3h-1.3zM213.6 50.5h1.3v1.3h-1.3zM223 47.5h1.3v1.3h-1.3zM211.9 45.6h1.3v1.3h-1.3zM216.2 49.2h1.3v1.3h-1.3zM223.1 47.4h1.3v1.3h-1.3zM218 52.9h1.3v1.3h-1.3zM221.9 44.4h1.3v1.3h-1.3zM221.5 49h1.3v1.3h-1.3zM213.7 49.7h1.3v1.3h-1.3zM212.3 49.8h1.3v1.3h-1.3zM214.5 47.3h1.3v1.3h-1.3zM213.9 58.4h1.3v1.3h-1.3zM216 48.9h1.3v1.3h-1.3zM222.2 46.1h1.3v1.3h-1.3zM213.4 48.9h1.3v1.3h-1.3zM213.1 53.3h1.3v1.3h-1.3zM216.9 47.5h1.3v1.3h-1.3zM213.6 51h1.3v1.3h-1.3zM212.2 50.9h1.3v1.3h-1.3zM210.8 48.9h1.3v1.3h-1.3zM214.4 47.1h1.3v1.3h-1.3zM216.1 49.5h1.3v1.3h-1.3zM209.8 49.5h1.3v1.3h-1.3zM211.9 50.5h1.3v1.3h-1.3zM214.7 49.8h1.3v1.3h-1.3zM210.1 56.3h1.3v1.3h-1.3zM218.4 50h1.3v1.3h-1.3zM218.6 50.7h1.3v1.3h-1.3zM212.9 51.1h1.3v1.3h-1.3zM226.6 51.1h1.3v1.3h-1.3zM219 48.2h1.3v1.3h-1.3zM216.9 57.5h1.3v1.3h-1.3zM216.1 53.7h1.3v1.3h-1.3zM220 51.4h1.3v1.3h-1.3zM221.5 49.7h1.3v1.3h-1.3zM216.5 48h1.3v1.3h-1.3zM226.4 48.8h1.3v1.3h-1.3zM214.7 55.1h1.3v1.3h-1.3zM211.9 51.1h1.3v1.3h-1.3zM210.5 51.5h1.3v1.3h-1.3zM212.3 52.8h1.3v1.3h-1.3zM213.5 48.7h1.3v1.3h-1.3zM212.8 50.5h1.3v1.3h-1.3zM211.8 54.2h1.3v1.3h-1.3zM217.3 50.3h1.3v1.3h-1.3zM208.6 53.5h1.3v1.3h-1.3zM214.4 48.6h1.3v1.3h-1.3zM210.3 49.1h1.3v1.3h-1.3zM223.7 47.5h1.3v1.3h-1.3zM213.2 54h1.3v1.3h-1.3zM216.1 53.6h1.3v1.3h-1.3zM208.4 48.2h1.3v1.3h-1.3zM229.6 47h1.3v1.3h-1.3zM212.8 51.4h1.3v1.3h-1.3zM218.7 45.6h1.3v1.3h-1.3zM215.4 50.2h1.3v1.3h-1.3zM217.2 50.4h1.3v1.3h-1.3zM211.7 48.2h1.3v1.3h-1.3zM202.9 56.3h1.3v1.3h-1.3zM207.3 50.8h1.3v1.3h-1.3zM221.8 47.4h1.3v1.3h-1.3zM217 49.2h1.3v1.3h-1.3zM217.4 49.9h1.3v1.3h-1.3zM211.8 55.6h1.3v1.3h-1.3zM212.9 46.4h1.3v1.3h-1.3zM212.6 52.7h1.3v1.3h-1.3zM209 54.3h1.3v1.3h-1.3zM217.7 56.8h1.3v1.3h-1.3zM211.2 53.4h1.3v1.3h-1.3zM214.6 51.8h1.3v1.3h-1.3zM213.9 50.3h1.3v1.3h-1.3zM211.3 49.7h1.3v1.3h-1.3zM215.5 52.1h1.3v1.3h-1.3zM217.1 53.2h1.3v1.3h-1.3zM219.6 43.4h1.3v1.3h-1.3zM211.7 50.6h1.3v1.3h-1.3zM211.2 54.7h1.3v1.3h-1.3zM217.6 49.4h1.3v1.3h-1.3zM214.7 54.6h1.3v1.3h-1.3zM212.5 49.9h1.3v1.3h-1.3zM218.3 51.2h1.3v1.3h-1.3zM220.7 50.3h1.3v1.3h-1.3zM217.6 48h1.3v1.3h-1.3zM209.8 51.5h1.3v1.3h-1.3zM218.6 49.8h1.3v1.3h-1.3zM213.1 54.4h1.3v1.3h-1.3zM213.9 53.8h1.3v1.3h-1.3zM224.2 50.7h1.3v1.3h-1.3zM218.4 51.2h1.3v1.3h-1.3zM215.3 51.2h1.3v1.3h-1.3zM214.4 54.1h1.3v1.3h-1.3zM206.7 51.4h1.3v1.3h-1.3zM217.1 47.1h1.3v1.3h-1.3zM213.6 48.4h1.3v1.3h-1.3zM216.2 52.9h1.3v1.3h-1.3zM220.8 50.7h1.3v1.3h-1.3zM210.8 52.1h1.3v1.3h-1.3zM216.7 54.6h1.3v1.3h-1.3zM205.7 54.8h1.3v1.3h-1.3zM216.2 51.7h1.3v1.3h-1.3zM218.2 50.9h1.3v1.3h-1.3zM211.2 52.4h1.3v1.3h-1.3zM219.6 48.9h1.3v1.3h-1.3zM214.3 46.6h1.3v1.3h-1.3zM219.4 47.7h1.3v1.3h-1.3zM210.7 49.9h1.3v1.3h-1.3zM210.2 50.6h1.3v1.3h-1.3zM220 51.8h1.3v1.3h-1.3zM220.7 54h1.3v1.3h-1.3zM210 53.1h1.3v1.3h-1.3zM221 56.5h1.3v1.3h-1.3zM216.3 49h1.3v1.3h-1.3zM209.6 52.8h1.3v1.3h-1.3zM210.5 43.9h1.3v1.3h-1.3zM214 51h1.3v1.3h-1.3zM217 53h1.3v1.3h-1.3zM215 49.6h1.3v1.3h-1.3zM211.1 45.8h1.3v1.3h-1.3zM212.1 54.3h1.3v1.3h-1.3zM217.1 56.6h1.3v1.3h-1.3zM213.4 44.9h1.3v1.3h-1.3zM217.9 53.1h1.3v1.3h-1.3zM208.8 46.5h1.3v1.3h-1.3zM214.8 52.7h1.3v1.3h-1.3zM209 50.6h1.3v1.3h-1.3zM210.5 47.5h1.3v1.3h-1.3zM208.1 52.4h1.3v1.3h-1.3zM212.4 48.7h1.3v1.3h-1.3zM209.8 51.1h1.3v1.3h-1.3zM208.9 53h1.3v1.3h-1.3zM207.2 52.4h1.3v1.3h-1.3zM213.2 53.7h1.3v1.3h-1.3zM209.1 49.5h1.3v1.3h-1.3zM213 57.6h1.3v1.3h-1.3zM211.1 52.2h1.3v1.3h-1.3zM217.1 50.3h1.3v1.3h-1.3zM215.3 51.2h1.3v1.3h-1.3zM211.4 50.4h1.3v1.3h-1.3zM206.5 51.1h1.3v1.3h-1.3zM210.5 50.5h1.3v1.3h-1.3zM217.4 51h1.3v1.3h-1.3zM216.2 53.7h1.3v1.3h-1.3zM213.9 50.2h1.3v1.3h-1.3zM208.1 53.7h1.3v1.3h-1.3zM219.3 52.7h1.3v1.3h-1.3zM213.6 52.7h1.3v1.3h-1.3zM218.3 55.5h1.3v1.3h-1.3zM219.7 49.7h1.3v1.3h-1.3zM214.5 51h1.3v1.3h-1.3zM215.1 48.7h1.3v1.3h-1.3zM217.6 47.4h1.3v1.3h-1.3zM210.4 52.5h1.3v1.3h-1.3zM211.4 50.3h1.3v1.3h-1.3zM214 50.1h1.3v1.3h-1.3zM216.1 50.7h1.3v1.3h-1.3zM212 54.2h1.3v1.3h-1.3zM222.4 46.6h1.3v1.3h-1.3zM214.4 47.7h1.3v1.3h-1.3zM218.8 48.3h1.3v1.3h-1.3zM209 56h1.3v1.3h-1.3zM218.2 46.6h1.3v1.3h-1.3zM219.4 49.9h1.3v1.3h-1.3zM226.4 53.3h1.3v1.3h-1.3zM211.5 50.2h1.3v1.3h-1.3zM210 51.8h1.3v1.3h-1.3zM214.2 52.9h1.3v1.3h-1.3zM214.4 45.6h1.3v1.3h-1.3zM210.3 56h1.3v1.3h-1.3zM219.3 48.8h1.3v1.3h-1.3zM213.4 50.1h1.3v1.3h-1.3zM214.1 45h1.3v1.3h-1.3zM218.1 47.4h1.3v1.3h-1.3zM214.7 42.1h1.3v1.3h-1.3zM215.1 54.6h1.3v1.3h-1.3zM216.2 47.6h1.3v1.3h-1.3zM206.7 55.9h1.3v1.3h-1.3zM215.2 52.2h1.3v1.3h-1.3zM212.8 48.2h1.3v1.3h-1.3zM218 46.5h1.3v1.3h-1.3zM218.1 44.1h1.3v1.3h-1.3zM209.8 46.7h1.3v1.3h-1.3zM220 43.4h1.3v1.3h-1.3zM208.8 53.8h1.3v1.3h-1.3zM215.1 57.5h1.3v1.3h-1.3zM222.4 50.6h1.3v1.3h-1.3zM217.2 43.8h1.3v1.3h-1.3zM210 50.3h1.3v1.3h-1.3zM213.2 46.2h1.3v1.3h-1.3zM209.7 48.7h1.3v1.3h-1.3zM218.9 50.8h1.3v1.3h-1.3zM212.5 49.9h1.3v1.3h-1.3zM215.3 47.9h1.3v1.3h-1.3zM212.8 45.1h1.3v1.3h-1.3zM217.1 53h1.3v1.3h-1.3zM215.7 51.7h1.3v1.3h-1.3zM215.7 56.8h1.3v1.3h-1.3zM214.9 45.9h1.3v1.3h-1.3zM209.2 53.9h1.3v1.3h-1.3zM218.9 51.9h1.3v1.3h-1.3zM217.9 50.2h1.3v1.3h-1.3zM207.2 49.7h1.3v1.3h-1.3zM207.7 52.2h1.3v1.3h-1.3zM213.2 44.3h1.3v1.3h-1.3zM217.4 52.2h1.3v1.3h-1.3zM207.6 52.4h1.3v1.3h-1.3zM217.3 48.8h1.3v1.3h-1.3zM217.9 50.2h1.3v1.3h-1.3zM218.9 50h1.3v1.3h-1.3zM213.2 52.3h1.3v1.3h-1.3zM217.6 50.5h1.3v1.3h-1.3zM211.9 48.3h1.3v1.3h-1.3zM212.2 49h1.3v1.3h-1.3zM214.9 50.8h1.3v1.3h-1.3zM213.6 50.6h1.3v1.3h-1.3zM214.7 55.5h1.3v1.3h-1.3zM219.5 47.3h1.3v1.3h-1.3zM215.9 48.9h1.3v1.3h-1.3zM213.5 49.8h1.3v1.3h-1.3zM211 46.6h1.3v1.3h-1.3zM219.4 46.2h1.3v1.3h-1.3zM216.3 48.7h1.3v1.3h-1.3zM215.2 47.5h1.3v1.3h-1.3zM212.8 50.3h1.3v1.3h-1.3zM213.3 42.4h1.3v1.3h-1.3zM216.9 49.7h1.3v1.3h-1.3zM214.9 51.4h1.3v1.3h-1.3zM212 47.3h1.3v1.3h-1.3zM211.8 49.5h1.3v1.3h-1.3zM224.2 54.2h1.3v1.3h-1.3zM211.6 49.6h1.3v1.3h-1.3zM215.4 52h1.3v1.3h-1.3zM210.7 47.8h1.3v1.3h-1.3zM222.9 51.9h1.3v1.3h-1.3zM206.7 46.2h1.3v1.3h-1.3zM210 52h1.3v1.3h-1.3zM216.4 48.7h1.3v1.3h-1.3zM206.4 52.9h1.3v1.3h-1.3zM216.7 49.8h1.3v1.3h-1.3zM211.6 52.9h1.3v1.3h-1.3zM213.6 46.8h1.3v1.3h-1.3zM214.3 46h1.3v1.3h-1.3zM218.4 51h1.3v1.3h-1.3zM209.2 52.2h1.3v1.3h-1.3zM219.7 42h1.3v1.3h-1.3zM213.2 56.1h1.3v1.3h-1.3zM207.2 51.7h1.3v1.3h-1.3zM211.3 51.5h1.3v1.3h-1.3zM215.6 51.5h1.3v1.3h-1.3zM219.2 51.6h1.3v1.3h-1.3zM217.3 46.4h1.3v1.3h-1.3zM213.1 61.3h1.3v1.3h-1.3zM224.5 50.8h1.3v1.3h-1.3zM217.3 53h1.3v1.3h-1.3zM212 57.4h1.3v1.3h-1.3zM212.1 50.6h1.3v1.3h-1.3zM224.1 41.1h1.3v1.3h-1.3zM215.6 44.2h1.3v1.3h-1.3zM210.8 50.8h1.3v1.3h-1.3zM212.2 51.4h1.3v1.3h-1.3zM210.2 50.9h1.3v1.3h-1.3zM207.7 54.1h1.3v1.3h-1.3zM211.9 49.8h1.3v1.3h-1.3zM219.4 49.5h1.3v1.3h-1.3zM212 46.1h1.3v1.3h-1.3zM214.2 49.3h1.3v1.3h-1.3zM223.4 46.8h1.3v1.3h-1.3zM223.1 53.1h1.3v1.3h-1.3zM220.1 48.6h1.3v1.3h-1.3zM214.6 49.4h1.3v1.3h-1.3zM209.3 46.2h1.3v1.3h-1.3zM212.5 56.8h1.3v1.3h-1.3zM221.6 48.5h1.3v1.3h-1.3zM214.5 52h1.3v1.3h-1.3zM220.3 50.1h1.3v1.3h-1.3zM211.6 49.6h1.3v1.3h-1.3zM219.3 58.1h1.3v1.3h-1.3zM210.9 44.1h1.3v1.3h-1.3zM217.7 49.3h1.3v1.3h-1.3zM214.5 54.5h1.3v1.3h-1.3zM214.2 45.8h1.3v1.3h-1.3zM208.3 52.7h1.3v1.3h-1.3zM206.8 50.8h1.3v1.3h-1.3zM211.7 52.9h1.3v1.3h-1.3zM220.3 48.4h1.3v1.3h-1.3zM209.7 58.1h1.3v1.3h-1.3zM215.6 52.1h1.3v1.3h-1.3zM216.8 54.8h1.3v1.3h-1.3zM218.7 51.7h1.3v1.3h-1.3zM217.5 46.7h1.3v1.3h-1.3zM211 50.7h1.3v1.3h-1.3zM214.3 50.4h1.3v1.3h-1.3zM215.4 50.2h1.3v1.3h-1.3zM211.8 45.3h1.3v1.3h-1.3zM217.9 51.6h1.3v1.3h-1.3zM209.7 53.1h1.3v1.3h-1.3zM215.8 50.3h1.3v1.3h-1.3zM211 56.6h1.3v1.3h-1.3zM209.8 50.2h1.3v1.3h-1.3zM208.6 49.9h1.3v1.3h-1.3zM215.5 43h1.3v1.3h-1.3zM214 48.3h1.3v1.3h-1.3zM218.5 52.7h1.3v1.3h-1.3zM219.2 47h1.3v1.3h-1.3zM212.4 54h1.3v1.3h-1.3zM212.6 46.6h1.3v1.3h-1.3zM210.6 46.6h1.3v1.3h-1.3zM216.5 43.9h1.3v1.3h-1.3zM218.7 43.7h1.3v1.3h-1.3zM214.1 45.4h1.3v1.3h-1.3zM212.4 54.3h1.3v1.3h-1.3zM219.3 53.7h1.3v1.3h-1.3zM213.4 50.9h1.3v1.3h-1.3zM215 52.3h1.3v1.3h-1.3zM212 54.6h1.3v1.3h-1.3zM215.4 54h1.3v1.3h-1.3zM216.2 52.2h1.3v1.3h-1.3zM210.4 49.8h1.3v1.3h-1.3zM207.7 50.8h1.3v1.3h-1.3zM213 53.5h1.3v1.3h-1.3zM207.8 62.9h1.3v1.3h-1.3zM213.3 54.9h1.3v1.3h-1.3zM218.9 40.7h1.3v1.3h-1.3zM212.6 55.8h1.3v1.3h-1.3zM209.5 49.8h1.3v1.3h-1.3zM214.9 43.8h1.3v1.3h-1.3zM214.8 48h1.3v1.3h-1.3zM210.3 53.7h1.3v1.3h-1.3zM230.7 47.8h1.3v1.3h-1.3zM216.5 49.7h1.3v1.3h-1.3zM210.4 52.1h1.3v1.3h-1.3zM221.2 49.4h1.3v1.3h-1.3zM218.1 48.7h1.3v1.3h-1.3zM226 42h1.3v1.3h-1.3zM216.7 51.7h1.3v1.3h-1.3zM215.1 46.3h1.3v1.3h-1.3zM208.4 50.8h1.3v1.3h-1.3zM214.3 46.2h1.3v1.3h-1.3zM208.7 53.5h1.3v1.3h-1.3zM218.8 47.4h1.3v1.3h-1.3zM210.5 48.7h1.3v1.3h-1.3zM225.7 49.4h1.3v1.3h-1.3zM213.5 53.9h1.3v1.3h-1.3zM224.9 52h1.3v1.3h-1.3zM207 51.7h1.3v1.3h-1.3zM211.9 49.7h1.3v1.3h-1.3zM208 50.4h1.3v1.3h-1.3zM208.6 52.7h1.3v1.3h-1.3z" fill="#000" fill-opacity="0.6"/>
<path d="M222 45h1.3v1.3h-1.3zM216.1 49.7h1.3v1.3h-1.3zM224.1 49.5h1.3v1.3h-1.3zM221.6 39.9h1.3v1.3h-1.3zM220.2 47.5h1.3v1.3h-1.3zM220.7 46h1.3v1.3h-1.3zM220.4 47.6h1.3v1.3h-1.3zM231.1 47.6h1.3v1.3h-1.3zM221.2 49h1.3v1.3h-1.3zM221.5 49.6h1.3v1.3h-1.3zM220.5 49.4h1.3v1.3h-1.3zM225.4 50h1.3v1.3h-1.3zM222.9 52.2h1.3v1.3h-1.3zM222.6 46h1.3v1.3h-1.3zM215.9 49.1h1.3v1.3h-1.3zM221.6 50.1h1.3v1.3h-1.3zM225.5 46.1h1.3v1.3h-1.3zM219.1 52h1.3v1.3h-1.3zM225.9 46.2h1.3v1.3h-1.3zM223 52.3h1.3v1.3h-1.3zM223 48.4h1.3v1.3h-1.3zM214.8 55.1h1.3v1.3h-1.3zM224.1 48.5h1.3v1.3h-1.3zM220.3 46.1h1.3v1.3h-1.3zM221.5 48.8h1.3v1.3h-1.3zM225.6 44.3h1.3v1.3h-1.3zM226.8 47.3h1.3v1.3h-1.3zM225.9 44.8h1.3v1.3h-1.3zM223 51.9h1.3v1.3h-1.3zM222.3 44.7h1.3v1.3h-1.3zM220.7 50.8h1.3v1.3h-1.3zM217.1 46.6h1.3v1.3h-1.3zM222.7 46h1.3v1.3h-1.3zM224.2 44.9h1.3v1.3h-1.3zM215.6 49h1.3v1.3h-1.3zM227 44.8h1.3v1.3h-1.3zM221.8 49.6h1.3v1.3h-1.3zM218.6 53.1h1.3v1.3h-1.3zM222.5 50h1.3v1.3h-1.3zM216.1 46.1h1.3v1.3h-1.3zM212.5 51.7h1.3v1.3h-1.3zM221.1 51.2h1.3v1.3h-1.3zM226.9 46.5h1.3v1.3h-1.3zM221 50.5h1.3v1.3h-1.3zM227.1 44.8h1.3v1.3h-1.3zM224 47.5h1.3v1.3h-1.3zM220.7 51.6h1.3v1.3h-1.3zM219.2 47h1.3v1.3h-1.3zM224.1 48.1h1.3v1.3h-1.3zM221 48.9h1.3v1.3h-1.3zM223.6 47.3h1.3v1.3h-1.3zM224.5 49.2h1.3v1.3h-1.3zM226.9 50.6h1.3v1.3h-1.3zM224.8 47.4h1.3v1.3h-1.3zM222.3 47.2h1.3v1.3h-1.3zM231.6 44.9h1.3v1.3h-1.3zM223.8 52h1.3v1.3h-1.3zM217.2 48.3h1.3v1.3h-1.3zM220.5 46.7h1.3v1.3h-1.3zM217.6 49h1.3v1.3h-1.3zM226.3 49.4h1.3v1.3h-1.3zM222 49h1.3v1.3h-1.3zM216.2 52.9h1.3v1.3h-1.3zM223.3 45.5h1.3v1.3h-1.3zM222.6 48.2h1.3v1.3h-1.3zM220.1 46.9h1.3v1.3h-1.3zM219.6 47.2h1.3v1.3h-1.3zM223.5 49.4h1.3v1.3h-1.3zM223 48.1h1.3v1.3h-1.3zM220.5 55.1h1.3v1.3h-1.3zM215.6 54.5h1.3v1.3h-1.3zM223.1 48.7h1.3v1.3h-1.3zM220.2 49h1.3v1.3h-1.3zM217.9 46.6h1.3v1.3h-1.3zM221.5 44.5h1.3v1.3h-1.3zM224.8 51h1.3v1.3h-1.3zM210.2 48.8h1.3v1.3h-1.3zM222.8 49.2h1.3v1.3h-1.3zM222.3 50h1.3v1.3h-1.3zM224.4 50.4h1.3v1.3h-1.3zM228 46.9h1.3v1.3h-1.3zM224.8 43.5h1.3v1.3h-1.3zM221.5 45.8h1.3v1.3h-1.3zM226.6 53.7h1.3v1.3h-1.3zM223.8 44.7h1.3v1.3h-1.3zM221.5 49.2h1.3v1.3h-1.3zM222.6 51.7h1.3v1.3h-1.3zM225.2 40.5h1.3v1.3h-1.3zM226.6 46h1.3v1.3h-1.3zM220 53.5h1.3v1.3h-1.3zM221 45.5h1.3v1.3h-1.3zM217.4 50.7h1.3v1.3h-1.3zM225 52h1.3v1.3h-1.3zM221.3 47.9h1.3v1.3h-1.3zM227.4 45.8h1.3v1.3h-1.3zM226.9 47.9h1.3v1.3h-1.3zM222.7 48h1.3v1.3h-1.3zM222.9 47.3h1.3v1.3h-1.3zM219.6 49.4h1.3v1.3h-1.3zM219.7 50.6h1.3v1.3h-1.3zM222.2 48.1h1.3v1.3h-1.3zM221.2 48.6h1.3v1.3h-1.3zM227.8 46.9h1.3v1.3h-1.3zM219.9 48.9h1.3v1.3h-1.3zM224.2 47.6h1.3v1.3h-1.3zM221.4 48.4h1.3v1.3h-1.3zM222.5 49.8h1.3v1.3h-1.3zM223.4 43.9h1.3v1.3h-1.3zM218.3 43h1.3v1.3h-1.3zM224.6 51h1.3v1.3h-1.3zM226.3 47.8h1.3v1.3h-1.3zM225.8 47.5h1.3v1.3h-1.3zM221.5 44.9h1.3v1.3h-1.3zM219.3 48.3h1.3v1.3h-1.3zM225 52.4h1.3v1.3h-1.3zM220.3 50.5h1.3v1.3h-1.3zM222.9 46.5h1.3v1.3h-1.3zM216.1 49h1.3v1.3h-1.3zM217 49.8h1.3v1.3h-1.3zM221.4 48.6h1.3v1.3h-1.3zM221.3 50.5h1.3v1.3h-1.3zM218.7 52.5h1.3v1.3h-1.3zM216.2 51.1h1.3v1.3h-1.3zM223.2 46.3h1.3v1.3h-1.3zM216.5 52.6h1.3v1.3h-1.3zM219.6 51.9h1.3v1.3h-1.3zM224.5 48h1.3v1.3h-1.3zM221.9 51.7h1.3v1.3h-1.3zM223.2 45.9h1.3v1.3h-1.3zM222.5 50.3h1.3v1.3h-1.3zM222.6 49.2h1.3v1.3h-1.3zM221.4 48.8h1.3v1.3h-1.3zM218.7 46.2h1.3v1.3h-1.3zM225.7 45.9h1.3v1.3h-1.3zM222.7 44.6h1.3v1.3h-1.3zM222.4 46.5h1.3v1.3h-1.3zM232 42.6h1.3v1.3h-1.3zM218.6 52.7h1.3v1.3h-1.3zM225.8 41.8h1.3v1.3h-1.3zM222.8 51.1h1.3v1.3h-1.3zM217.8 52.3h1.3v1.3h-1.3zM220.1 46.9h1.3v1.3h-1.3zM220.7 48.1h1.3v1.3h-1.3zM217.2 56.7h1.3v1.3h-1.3zM220.4 47.5h1.3v1.3h-1.3zM224.8 47.7h1.3v1.3h-1.3zM226.4 46.6h1.3v1.3h-1.3zM223.1 48.8h1.3v1.3h-1.3zM222.5 48.2h1.3v1.3h-1.3zM221.5 53.7h1.3v1.3h-1.3zM219.6 48.3h1.3v1.3h-1.3zM220.7 50.9h1.3v1.3h-1.3zM223.3 51h1.3v1.3h-1.3zM217.4 51.3h1.3v1.3h-1.3zM221.3 48.4h1.3v1.3h-1.3zM222.5 43.4h1.3v1.3h-1.3zM222.8 49h1.3v1.3h-1.3zM217.1 50.4h1.3v1.3h-1.3zM227.1 46.1h1.3v1.3h-1.3zM223.9 47.6h1.3v1.3h-1.3zM219.2 47.4h1.3v1.3h-1.3zM220.6 53h1.3v1.3h-1.3zM224.7 46.1h1.3v1.3h-1.3zM225.3 47.4h1.3v1.3h-1.3zM219.6 50.9h1.3v1.3h-1.3zM218.8 45.8h1.3v1.3h-1.3zM226.3 42.4h1.3v1.3h-1.3zM223.7 44.2h1.3v1.3h-1.3zM221.8 48.5h1.3v1.3h-1.3zM220.4 43.5h1.3v1.3h-1.3zM221.5 49h1.3v1.3h-1.3zM218.9 49.8h1.3v1.3h-1.3zM225.2 45.8h1.3v1.3h-1.3zM222.8 45.5h1.3v1.3h-1.3zM223.2 50.2h1.3v1.3h-1.3zM230.2 48.5h1.3v1.3h-1.3zM223.4 52.3h1.3v1.3h-1.3zM218.6 53h1.3v1.3h-1.3zM220.1 47.9h1.3v1.3h-1.3zM225.6 48.3h1.3v1.3h-1.3zM226.4 43.5h1.3v1.3h-1.3zM222.8 47.2h1.3v1.3h-1.3zM221 44.1h1.3v1.3h-1.3zM225.1 48.4h1.3v1.3h-1.3zM218.6 46.5h1.3v1.3h-1.3zM219 53.8h1.3v1.3h-1.3zM221.6 48.2h1.3v1.3h-1.3zM223.6 48.4h1.3v1.3h-1.3zM222.7 50.7h1.3v1.3h-1.3zM223 51h1.3v1.3h-1.3zM218 50.6h1.3v1.3h-1.3zM220.8 49.7h1.3v1.3h-1.3zM221.8 47.3h1.3v1.3h-1.3zM220.8 52h1.3v1.3h-1.3zM220.1 46.3h1.3v1.3h-1.3zM223.9 50.9h1.3v1.3h-1.3zM221.1 49.6h1.3v1.3h-1.3zM219.2 49.4h1.3v1.3h-1.3zM225.7 49.8h1.3v1.3h-1.3zM222.5 48.1h1.3v1.3h-1.3zM216.5 51.8h1.3v1.3h-1.3zM223.5 51.3h1.3v1.3h-1.3zM228.7 47.6h1.3v1.3h-1.3zM225.2 44.9h1.3v1.3h-1.3zM226 49.9h1.3v1.3h-1.3zM226.5 49.2h1.3v1.3h-1.3zM223.5 52.4h1.3v1.3h-1.3zM219.8 51.5h1.3v1.3h-1.3zM225.6 45.6h1.3v1.3h-1.3zM218.2 51.5h1.3v1.3h-1.3zM222.4 50.5h1.3v1.3h-1.3zM224.2 46.2h1.3v1.3h-1.3zM223.1 51.6h1.3v1.3h-1.3zM220.8 48.7h1.3v1.3h-1.3zM218.3 52.5h1.3v1.3h-1.3zM228.5 43.1h1.3v1.3h-1.3zM224.6 50.5h1.3v1.3h-1.3zM220.2 48.7h1.3v1.3h-1.3zM218.6 48.1h1.3v1.3h-1.3zM222.6 50.6h1.3v1.3h-1.3zM222.4 51.2h1.3v1.3h-1.3zM222.7 45.7h1.3v1.3h-1.3zM226.9 50.5h1.3v1.3h-1.3zM219.7 54.6h1.3v1.3h-1.3zM223.6 48.8h1.3v1.3h-1.3zM228.4 40.1h1.3v1.3h-1.3zM216.7 52.8h1.3v1.3h-1.3zM221.3 46.8h1.3v1.3h-1.3zM227.1 48.6h1.3v1.3h-1.3zM217.8 48.8h1.3v1.3h-1.3zM224.9 52.8h1.3v1.3h-1.3zM215.4 52.1h1.3v1.3h-1.3zM220.8 44.8h1.3v1.3h-1.3zM221.5 44.9h1.3v1.3h-1.3zM220.3 54h1.3v1.3h-1.3zM223.8 50.5h1.3v1.3h-1.3zM224.1 49.3h1.3v1.3h-1.3zM225.3 44.8h1.3v1.3h-1.3zM220.9 51.8h1.3v1.3h-1.3zM219.7 48.7h1.3v1.3h-1.3zM226.1 51.8h1.3v1.3h-1.3zM220.1 47.6h1.3v1.3h-1.3zM224.1 49.1h1.3v1.3h-1.3zM219.9 51.4h1.3v1.3h-1.3zM224 48.6h1.3v1.3h-1.3zM231.9 49.3h1.3v1.3h-1.3zM224.8 50.9h1.3v1.3h-1.3zM232 48.5h1.3v1.3h-1.3zM219.7 50.8h1.3v1.3h-1.3zM222.4 47.5h1.3v1.3h-1.3zM223 49.4h1.3v1.3h-1.3zM222 47.8h1.3v1.3h-1.3zM224.9 43.8h1.3v1.3h-1.3zM224.9 48.1h1.3v1.3h-1.3zM223.1 42.4h1.3v1.3h-1.3zM227.7 42.4h1.3v1.3h-1.3zM219.3 51.8h1.3v1.3h-1.3zM220.1 48.7h1.3v1.3h-1.3zM214.7 50.5h1.3v1.3h-1.3zM222.9 50.6h1.3v1.3h-1.3zM221.2 50h1.3v1.3h-1.3zM223.6 46.7h1.3v1.3h-1.3zM219.7 55.2h1.3v1.3h-1.3zM219.3 53.4h1.3v1.3h-1.3zM222.4 52.9h1.3v1.3h-1.3zM220 51.2h1.3v1.3h-1.3zM223.3 48.1h1.3v1.3h-1.3zM223.2 46.6h1.3v1.3h-1.3zM221.9 48.1h1.3v1.3h-1.3zM224.7 47.9h1.3v1.3h-1.3zM217.5 49.7h1.3v1.3h-1.3zM221.8 46.8h1.3v1.3h-1.3zM226.6 48.6h1.3v1.3h-1.3zM225 46h1.3v1.3h-1.3zM220.8 52.3h1.3v1.3h-1.3zM217.4 51.7h1.3v1.3h-1.3zM222.5 47.6h1.3v1.3h-1.3zM222.5 46.1h1.3v1.3h-1.3zM222.9 45.5h1.3v1.3h-1.3zM217.9 54.3h1.3v1.3h-1.3zM219.8 44.2h1.3v1.3h-1.3zM225.4 45.8h1.3v1.3h-1.3zM210.4 53.1h1.3v1.3h-1.3zM225.3 48.9h1.3v1.3h-1.3zM227.9 46.7h1.3v1.3h-1.3zM224.2 45.6h1.3v1.3h-1.3zM222.7 53h1.3v1.3h-1.3zM223.8 48.9h1.3v1.3h-1.3zM215.6 50.4h1.3v1.3h-1.3zM217.9 52.7h1.3v1.3h-1.3zM219.7 50.9h1.3v1.3h-1.3zM218.8 55.4h1.3v1.3h-1.3zM218.2 50.8h1.3v1.3h-1.3zM231 46.6h1.3v1.3h-1.3zM219.2 51.8h1.3v1.3h-1.3zM225.5 50.3h1.3v1.3h-1.3zM215.6 52h1.3v1.3h-1.3zM215 56.7h1.3v1.3h-1.3zM222.4 47.7h1.3v1.3h-1.3zM224.4 49.6h1.3v1.3h-1.3zM218.2 54.9h1.3v1.3h-1.3zM221.3 44.6h1.3v1.3h-1.3zM226.9 51.6h1.3v1.3h-1.3zM226.4 49.1h1.3v1.3h-1.3zM219.2 52.7h1.3v1.3h-1.3zM228.4 49.1h1.3v1.3h-1.3zM227.5 45.1h1.3v1.3h-1.3zM225.6 50.4h1.3v1.3h-1.3zM217.2 46.4h1.3v1.3h-1.3zM219.8 50.2h1.3v1.3h-1.3zM223.7 47.9h1.3v1.3h-1.3zM222 48.8h1.3v1.3h-1.3zM222.5 50.6h1.3v1.3h-1.3zM223.8 48.3h1.3v1.3h-1.3zM223 47.5h1.3v1.3h-1.3zM224.9 46.8h1.3v1.3h-1.3zM227.7 47.1h1.3v1.3h-1.3zM223.1 46.7h1.3v1.3h-1.3zM221 49.9h1.3v1.3h-1.3zM222.2 47.4h1.3v1.3h-1.3zM218.3 50.6h1.3v1.3h-1.3zM222.7 50.4h1.3v1.3h-1.3zM226.4 46.7h1.3v1.3h-1.3zM215.4 51.1h1.3v1.3h-1.3zM216 47.8h1.3v1.3h-1.3zM225.7 49.4h1.3v1.3h-1.3zM220 48.1h1.3v1.3h-1.3zM221.9 44.4h1.3v1.3h-1.3zM223.8 47.6h1.3v1.3h-1.3zM228.4 44h1.3v1.3h-1.3zM225.6 46h1.3v1.3h-1.3zM225.6 45.2h1.3v1.3h-1.3zM224.7 47h1.3v1.3h-1.3zM219.4 49.7h1.3v1.3h-1.3zM223.8 49.6h1.3v1.3h-1.3zM227.5 49.4h1.3v1.3h-1.3zM213.3 51.1h1.3v1.3h-1.3zM215.4 50.4h1.3v1.3h-1.3zM224.3 44.7h1.3v1.3h-1.3zM218.2 50.9h1.3v1.3h-1.3zM221.2 53.8h1.3v1.3h-1.3zM223.3 50.2h1.3v1.3h-1.3zM228.1 45.6h1.3v1.3h-1.3zM222.2 46.4h1.3v1.3h-1.3zM223.1 51.6h1.3v1.3h-1.3zM226.8 47.4h1.3v1.3h-1.3zM219.8 47.8h1.3v1.3h-1.3zM217.5 51.1h1.3v1.3h-1.3zM226.8 41h1.3v1.3h-1.3zM214.8 55.5h1.3v1.3h-1.3zM216.7 51.9h1.3v1.3h-1.3zM217.9 52.7h1.3v1.3h-1.3zM224.9 48.6h1.3v1.3h-1.3zM225 48.2h1.3v1.3h-1.3zM224.1 53.4h1.3v1.3h-1.3zM225.9 46h1.3v1.3h-1.3zM219.5 49.4h1.3v1.3h-1.3zM221.4 49.6h1.3v1.3h-1.3zM220.2 51.6h1.3v1.3h-1.3zM222.4 50.1h1.3v1.3h-1.3zM222.2 50.8h1.3v1.3h-1.3zM218.2 54.9h1.3v1.3h-1.3zM223.4 49.9h1.3v1.3h-1.3zM224.3 51.3h1.3v1.3h-1.3zM224.7 48.9h1.3v1.3h-1.3zM221.6 44.8h1.3v1.3h-1.3zM223 48h1.3v1.3h-1.3zM221.2 56.1h1.3v1.3h-1.3zM215.9 51.5h1.3v1.3h-1.3zM226.4 50.3h1.3v1.3h-1.3zM226.5 44.1h1.3v1.3h-1.3zM219 52h1.3v1.3h-1.3zM221.3 54.2h1.3v1.3h-1.3zM223 49.4h1.3v1.3h-1.3zM223.8 47.8h1.3v1.3h-1.3zM222.7 47.1h1.3v1.3h-1.3zM222.1 47.8h1.3v1.3h-1.3zM223.1 44.9h1.3v1.3h-1.3zM217.2 52.2h1.3v1.3h-1.3zM223.1 46.2h1.3v1.3h-1.3zM221.5 46.5h1.3v1.3h-1.3zM229.2 42.4h1.3v1.3h-1.3zM228.1 44.8h1.3v1.3h-1.3zM223.7 47.9h1.3v1.3h-1.3zM221 52.2h1.3v1.3h-1.3zM225.1 47.4h1.3v1.3h-1.3zM219.2 55.9h1.3v1.3h-1.3zM227.1 47.8h1.3v1.3h-1.3zM221.3 50.3h1.3v1.3h-1.3zM222.6 52.3h1.3v1.3h-1.3zM219 50.4h1.3v1.3h-1.3zM219.6 53.7h1.3v1.3h-1.3zM228.4 46.7h1.3v1.3h-1.3zM224.1 52.4h1.3v1.3h-1.3zM221.3 46.9h1.3v1.3h-1.3zM225.8 49.3h1.3v1.3h-1.3zM221.6 53.4h1.3v1.3h-1.3zM223.1 44h1.3v1.3h-1.3zM223.5 48.6h1.3v1.3h-1.3zM228.7 46.8h1.3v1.3h-1.3z" fill="#000" fill-opacity="0.6"/>
<path d="M213.6 52.5h1.3v1.3h-1.3zM215.2 47.3h1.3v1.3h-1.3zM214.8 50.3h1.3v1.3h-1.3zM219.4 58h1.3v1.3h-1.3zM210.3 48.6h1.3v1.3h-1.3zM211.3 49.4h1.3v1.3h-1.3zM211.8 51.4h1.3v1.3h-1.3zM218.3 47.6h1.3v1.3h-1.3zM208.8 46.1h1.3v1.3h-1.3zM218.3 55h1.3v1.3h-1.3zM208.8 46.7h1.3v1.3h-1.3zM214.8 54.3h1.3v1.3h-1.3zM218 51.8h1.3v1.3h-1.3zM216.8 52.2h1.3v1.3h-1.3zM212.3 56.6h1.3v1.3h-1.3zM214.3 48.1h1.3v1.3h-1.3zM212.7 46.9h1.3v1.3h-1.3zM214.4 54.3h1.3v1.3h-1.3zM209.8 54.4h1.3v1.3h-1.3zM221.9 52.3h1.3v1.3h-1.3zM210.2 48.9h1.3v1.3h-1.3zM213.1 47.7h1.3v1.3h-1.3zM209.8 50.5h1.3v1.3h-1.3zM213.7 53h1.3v1.3h-1.3zM210 56.5h1.3v1.3h-1.3zM218.2 53.8h1.3v1.3h-1.3zM212 56.1h1.3v1.3h-1.3zM213.1 56.4h1.3v1.3h-1.3zM218.2 48.8h1.3v1.3h-1.3zM212.7 56.5h1.3v1.3h-1.3zM217.9 50.8h1.3v1.3h-1.3zM215.1 51.8h1.3v1.3h-1.3zM211.6 50.7h1.3v1.3h-1.3zM212 50.1h1.3v1.3h-1.3zM216 48.6h1.3v1.3h-1.3zM217 51.6h1.3v1.3h-1.3zM217.1 53.8h1.3v1.3h-1.3zM218.8 53h1.3v1.3h-1.3zM216.9 50.8h1.3v1.3h-1.3zM216.4 48.7h1.3v1.3h-1.3zM213.5 53.4h1.3v1.3h-1.3zM214.2 52.5h1.3v1.3h-1.3zM210.5 55.1h1.3v1.3h-1.3zM212.3 52.4h1.3v1.3h-1.3zM214.3 53.9h1.3v1.3h-1.3zM213 48.5h1.3v1.3h-1.3zM207.5 50.4h1.3v1.3h-1.3zM210 52.8h1.3v1.3h-1.3zM219.5 45h1.3v1.3h-1.3zM209.7 52.1h1.3v1.3h-1.3zM218.8 52.1h1.3v1.3h-1.3zM215.5 52.7h1.3v1.3h-1.3zM216.4 55.9h1.3v1.3h-1.3zM216.6 47.8h1.3v1.3h-1.3zM212.6 51.9h1.3v1.3h-1.3zM211.4 50.5h1.3v1.3h-1.3zM212.4 49.3h1.3v1.3h-1.3zM216.8 50.2h1.3v1.3h-1.3zM210.4 49.3h1.3v1.3h-1.3zM214.5 57.2h1.3v1.3h-1.3zM215.3 55.4h1.3v1.3h-1.3zM216.1 45.2h1.3v1.3h-1.3zM215.7 48.9h1.3v1.3h-1.3zM209.4 48.2h1.3v1.3h-1.3zM220.8 46.8h1.3v1.3h-1.3zM212.1 54.5h1.3v1.3h-1.3zM216.7 46.4h1.3v1.3h-1.3zM213.9 49.8h1.3v1.3h-1.3zM213.6 53.4h1.3v1.3h-1.3zM212.2 50.4h1.3v1.3h-1.3zM219.6 46.1h1.3v1.3h-1.3zM213 52.6h1.3v1.3h-1.3zM209.8 49.5h1.3v1.3h-1.3zM209.6 51.7h1.3v1.3h-1.3zM212.1 53.5h1.3v1.3h-1.3zM218 51.4h1.3v1.3h-1.3zM213 52h1.3v1.3h-1.3zM214.5 47.8h1.3v1.3h-1.3zM218.2 51.9h1.3v1.3h-1.3zM217.2 47.4h1.3v1.3h-1.3zM217.5 57.2h1.3v1.3h-1.3zM216.6 47.2h1.3v1.3h-1.3zM214.5 51.1h1.3v1.3h-1.3zM215.1 50.6h1.3v1.3h-1.3zM216.1 49.9h1.3v1.3h-1.3zM215.2 49.3h1.3v1.3h-1.3zM214.7 54.1h1.3v1.3h-1.3zM212.5 53.1h1.3v1.3h-1.3zM211.1 50.2h1.3v1.3h-1.3zM213.5 54.8h1.3v1.3h-1.3zM211.5 54.7h1.3v1.3h-1.3zM209 50.8h1.3v1.3h-1.3zM217.6 53.2h1.3v1.3h-1.3zM210.6 47.8h1.3v1.3h-1.3zM217.5 47.7h1.3v1.3h-1.3zM216.4 49.8h1.3v1.3h-1.3zM214.3 57.8h1.3v1.3h-1.3zM219.9 53.6h1.3v1.3h-1.3zM209.3 52.1h1.3v1.3h-1.3zM214.5 51h1.3v1.3h-1.3zM219.2 46.4h1.3v1.3h-1.3zM215.5 51.6h1.3v1.3h-1.3zM211.6 56.1h1.3v1.3h-1.3zM209.7 51.3h1.3v1.3h-1.3zM214.6 45h1.3v1.3h-1.3zM209.1 48.5h1.3v1.3h-1.3zM217.2 53.9h1.3v1.3h-1.3zM216.5 51.9h1.3v1.3h-1.3zM206.3 51.8h1.3v1.3h-1.3zM212.4 54.5h1.3v1.3h-1.3zM219.2 57.6h1.3v1.3h-1.3zM216.9 53.5h1.3v1.3h-1.3zM210.5 51.4h1.3v1.3h-1.3zM209.8 53.8h1.3v1.3h-1.3zM209.9 50.6h1.3v1.3h-1.3zM211.3 49.9h1.3v1.3h-1.3zM215.9 49.6h1.3v1.3h-1.3zM215.1 48.4h1.3v1.3h-1.3zM219.4 49.4h1.3v1.3h-1.3zM218 57.3h1.3v1.3h-1.3zM205.4 48.4h1.3v1.3h-1.3zM213.5 54.5h1.3v1.3h-1.3zM212.5 52.3h1.3v1.3h-1.3zM211.6 52.8h1.3v1.3h-1.3zM209.8 53.6h1.3v1.3h-1.3zM203.3 45.8h1.3v1.3h-1.3zM220.9 51.7h1.3v1.3h-1.3zM211 57.5h1.3v1.3h-1.3zM218.1 54.4h1.3v1.3h-1.3zM212.7 53h1.3v1.3h-1.3zM216.1 46.5h1.3v1.3h-1.3zM216.4 50.7h1.3v1.3h-1.3zM219 54.9h1.3v1.3h-1.3zM211.9 49.5h1.3v1.3h-1.3zM215 53.1h1.3v1.3h-1.3zM212.7 50.9h1.3v1.3h-1.3zM216.5 52.4h1.3v1.3h-1.3zM218.5 51.9h1.3v1.3h-1.3zM211 46.2h1.3v1.3h-1.3zM217.2 50.2h1.3v1.3h-1.3zM213 50.4h1.3v1.3h-1.3zM208.5 50.1h1.3v1.3h-1.3zM204.7 50h1.3v1.3h-1.3zM211 56.5h1.3v1.3h-1.3zM215.9 50.6h1.3v1.3h-1.3zM214.8 53.3h1.3v1.3h-1.3zM211.5 50.5h1.3v1.3h-1.3zM212.9 58.3h1.3v1.3h-1.3zM214.5 45.5h1.3v1.3h-1.3zM217.2 58.6h1.3v1.3h-1.3zM210.7 61.2h1.3v1.3h-1.3zM214 54.1h1.3v1.3h-1.3zM212.2 50.4h1.3v1.3h-1.3zM209.7 48.1h1.3v1.3h-1.3zM206.3 54.5h1.3v1.3h-1.3zM210 52.2h1.3v1.3h-1.3zM215.5 49.3h1.3v1.3h-1.3zM214.4 50.9h1.3v1.3h-1.3zM212.4 51.3h1.3v1.3h-1.3zM214.4 48.2h1.3v1.3h-1.3zM209.4 48.7h1.3v1.3h-1.3zM214.7 55.2h1.3v1.3h-1.3zM219.7 52.1h1.3v1.3h-1.3zM217.7 51.5h1.3v1.3h-1.3zM218.3 51.5h1.3v1.3h-1.3zM215.7 50.3h1.3v1.3h-1.3zM214.2 56.6h1.3v1.3h-1.3zM209.8 51.2h1.3v1.3h-1.3zM212 53.9h1.3v1.3h-1.3zM221 50.3h1.3v1.3h-1.3zM203.9 52.9h1.3v1.3h-1.3zM216.5 46.3h1.3v1.3h-1.3zM213.3 51h1.3v1.3h-1.3zM205.6 53.1h1.3v1.3h-1.3zM215.8 51.8h1.3v1.3h-1.3zM210.3 49.1h1.3v1.3h-1.3zM211.8 52.5h1.3v1.3h-1.3zM210.5 55.4h1.3v1.3h-1.3zM215.6 44.8h1.3v1.3h-1.3zM220.5 51.6h1.3v1.3h-1.3zM212.1 51.4h1.3v1.3h-1.3zM207.4 51.7h1.3v1.3h-1.3zM205 48.2h1.3v1.3h-1.3zM219.2 54.8h1.3v1.3h-1.3zM212.9 48.3h1.3v1.3h-1.3zM217.7 51h1.3v1.3h-1.3zM215 53h1.3v1.3h-1.3zM210.1 53.4h1.3v1.3h-1.3zM206.3 55.4h1.3v1.3h-1.3zM208.3 49.3h1.3v1.3h-1.3zM211.7 53.2h1.3v1.3h-1.3zM217 52.2h1.3v1.3h-1.3zM216.2 52.5h1.3v1.3h-1.3zM213.9 45.6h1.3v1.3h-1.3zM205.5 44.4h1.3v1.3h-1.3zM214 50.5h1.3v1.3h-1.3zM213.6 51.8h1.3v1.3h-1.3zM213.3 48.2h1.3v1.3h-1.3zM208.5 45.6h1.3v1.3h-1.3zM218.7 53.8h1.3v1.3h-1.3zM209.1 50.3h1.3v1.3h-1.3zM215.8 55.8h1.3v1.3h-1.3zM211.9 51.6h1.3v1.3h-1.3zM218.5 46h1.3v1.3h-1.3zM211.4 51h1.3v1.3h-1.3zM211.4 57.3h1.3v1.3h-1.3zM217.4 51.7h1.3v1.3h-1.3zM210.5 53.6h1.3v1.3h-1.3zM216.5 49.6h1.3v1.3h-1.3zM212.5 46.8h1.3v1.3h-1.3zM213.8 53.6h1.3v1.3h-1.3zM217.9 52.8h1.3v1.3h-1.3zM217.2 49.4h1.3v1.3h-1.3zM212.3 54.6h1.3v1.3h-1.3zM215.8 48.8h1.3v1.3h-1.3zM216 53.5h1.3v1.3h-1.3zM216.8 51.4h1.3v1.3h-1.3zM212.2 52.2h1.3v1.3h-1.3zM220.5 51.5h1.3v1.3h-1.3zM211.6 52.1h1.3v1.3h-1.3zM209.5 51.7h1.3v1.3h-1.3zM213 53.9h1.3v1.3h-1.3zM214.5 54.1h1.3v1.3h-1.3zM222.7 50.4h1.3v1.3h-1.3zM211 52.4h1.3v1.3h-1.3zM213.8 51.5h1.3v1.3h-1.3zM211.8 52.7h1.3v1.3h-1.3zM214.3 44.8h1.3v1.3h-1.3zM213.2 52h1.3v1.3h-1.3zM218.5 49.4h1.3v1.3h-1.3zM211.1 54.4h1.3v1.3h-1.3zM211.8 51.4h1.3v1.3h-1.3zM215.9 53.2h1.3v1.3h-1.3zM214.1 47.8h1.3v1.3h-1.3zM217.9 49.8h1.3v1.3h-1.3zM212.1 56.9h1.3v1.3h-1.3zM217.4 48h1.3v1.3h-1.3zM212.3 50.3h1.3v1.3h-1.3zM211.3 45.5h1.3v1.3h-1.3zM217.1 53.3h1.3v1.3h-1.3zM215 49.9h1.3v1.3h-1.3zM214.9 52.9h1.3v1.3h-1.3zM210.2 50.1h1.3v1.3h-1.3zM212 53.1h1.3v1.3h-1.3zM215 47.3h1.3v1.3h-1.3zM211.8 56.2h1.3v1.3h-1.3zM210.4 51.5h1.3v1.3h-1.3zM211.7 54.7h1.3v1.3h-1.3zM213.8 49.8h1.3v1.3h-1.3zM209.7 50.3h1.3v1.3h-1.3zM217.2 53h1.3v1.3h-1.3zM209.1 55.6h1.3v1.3h-1.3zM213.1 48h1.3v1.3h-1.3zM214.5 49.2h1.3v1.3h-1.3zM211.9 49.2h1.3v1.3h-1.3zM213.7 49.6h1.3v1.3h-1.3zM207.7 52.6h1.3v1.3h-1.3zM212.1 54.5h1.3v1.3h-1.3zM216 52.8h1.3v1.3h-1.3zM214.7 54.8h1.3v1.3h-1.3zM212.8 48.2h1.3v1.3h-1.3zM215.3 43.2h1.3v1.3h-1.3zM212.7 51.7h1.3v1.3h-1.3zM212.5 54.7h1.3v1.3h-1.3zM216.6 51.4h1.3v1.3h-1.3zM212.5 54.2h1.3v1.3h-1.3zM211.5 49.8h1.3v1.3h-1.3zM216.8 52.8h1.3v1.3h-1.3zM221.6 50.4h1.3v1.3h-1.3zM207 52.9h1.3v1.3h-1.3zM218.7 50.5h1.3v1.3h-1.3zM219.8 56.2h1.3v1.3h-1.3zM211.6 49.6h1.3v1.3h-1.3zM209.4 52.6h1.3v1.3h-1.3zM216.7 52.8h1.3v1.3h-1.3zM209.4 48.8h1.3v1.3h-1.3zM208.7 46.4h1.3v1.3h-1.3zM209 46.4h1.3v1.3h-1.3zM213.3 52.2h1.3v1.3h-1.3zM216.3 51h1.3v1.3h-1.3zM211.5 51h1.3v1.3h-1.3zM216.1 50.2h1.3v1.3h-1.3zM214.2 50.1h1.3v1.3h-1.3zM212.1 51.1h1.3v1.3h-1.3zM209.9 54h1.3v1.3h-1.3zM208.2 52.3h1.3v1.3h-1.3zM209 55.4h1.3v1.3h-1.3zM217.2 48.7h1.3v1.3h-1.3zM212.3 47.7h1.3v1.3h-1.3zM213.8 52.2h1.3v1.3h-1.3zM223.5 47.1h1.3v1.3h-1.3zM218.6 49.3h1.3v1.3h-1.3zM215 53.5h1.3v1.3h-1.3zM216 52.2h1.3v1.3h-1.3zM213.3 51h1.3v1.3h-1.3zM214.6 54.5h1.3v1.3h-1.3zM208.6 49.6h1.3v1.3h-1.3zM209.4 48.2h1.3v1.3h-1.3zM211 54.2h1.3v1.3h-1.3zM221.9 54.9h1.3v1.3h-1.3zM209.6 51.2h1.3v1.3h-1.3zM209.8 52.3h1.3v1.3h-1.3zM218.7 52.7h1.3v1.3h-1.3zM217.2 50.6h1.3v1.3h-1.3zM206.7 45.3h1.3v1.3h-1.3zM213.6 52.7h1.3v1.3h-1.3zM218.7 50h1.3v1.3h-1.3zM214.3 51.7h1.3v1.3h-1.3zM217.9 50.8h1.3v1.3h-1.3zM209.9 54.1h1.3v1.3h-1.3zM215.5 52.1h1.3v1.3h-1.3zM209.3 51h1.3v1.3h-1.3zM207.6 45.2h1.3v1.3h-1.3zM213.1 49.7h1.3v1.3h-1.3zM216.1 55.1h1.3v1.3h-1.3zM213.9 56.1h1.3v1.3h-1.3zM211.8 53.2h1.3v1.3h-1.3zM209.3 51.4h1.3v1.3h-1.3zM212.8 50.4h1.3v1.3h-1.3zM216.2 45.6h1.3v1.3h-1.3zM214.4 48.7h1.3v1.3h-1.3zM214.4 52.1h1.3v1.3h-1.3zM212.6 49.9h1.3v1.3h-1.3zM209.7 52.6h1.3v1.3h-1.3zM211.5 52.3h1.3v1.3h-1.3zM208.7 54.9h1.3v1.3h-1.3zM210.2 54.3h1.3v1.3h-1.3zM212.3 52.6h1.3v1.3h-1.3zM213.5 53h1.3v1.3h-1.3zM214 54.6h1.3v1.3h-1.3zM216.5 53h1.3v1.3h-1.3zM220.2 49h1.3v1.3h-1.3zM218.8 51.2h1.3v1.3h-1.3zM208.5 52.4h1.3v1.3h-1.3zM213.2 55.8h1.3v1.3h-1.3zM212.2 51.1h1.3v1.3h-1.3zM214.9 45.5h1.3v1.3h-1.3zM215.9 48.1h1.3v1.3h-1.3zM219.2 55.8h1.3v1.3h-1.3zM214 46.4h1.3v1.3h-1.3zM214.7 51.5h1.3v1.3h-1.3zM216.7 50.1h1.3v1.3h-1.3zM209.6 50.6h1.3v1.3h-1.3zM210.6 56.1h1.3v1.3h-1.3zM211.4 49.1h1.3v1.3h-1.3zM213.8 47.4h1.3v1.3h-1.3zM212.4 50.6h1.3v1.3h-1.3zM212.2 50.3h1.3v1.3h-1.3zM218.6 52.2h1.3v1.3h-1.3zM209.1 49.8h1.3v1.3h-1.3zM216.8 49.1h1.3v1.3h-1.3zM214.3 50.9h1.3v1.3h-1.3zM216 50.5h1.3v1.3h-1.3zM213.5 48.5h1.3v1.3h-1.3zM215.3 48.3h1.3v1.3h-1.3zM220.4 50.9h1.3v1.3h-1.3zM213.2 53.3h1.3v1.3h-1.3zM213.7 51.3h1.3v1.3h-1.3zM213.8 48.9h1.3v1.3h-1.3zM210.6 49h1.3v1.3h-1.3zM218.2 49.2h1.3v1.3h-1.3zM212.5 49.7h1.3v1.3h-1.3zM216.6 56.7h1.3v1.3h-1.3zM210.6 52.6h1.3v1.3h-1.3zM214.4 50.1h1.3v1.3h-1.3zM215.9 47.4h1.3v1.3h-1.3zM217.1 51.6h1.3v1.3h-1.3zM210.3 55.6h1.3v1.3h-1.3zM217.1 54.3h1.3v1.3h-1.3zM208.6 50.2h1.3v1.3h-1.3zM212.1 52.8h1.3v1.3h-1.3zM219 45.5h1.3v1.3h-1.3zM214.1 50.6h1.3v1.3h-1.3zM217.7 50.9h1.3v1.3h-1.3zM209.3 50.4h1.3v1.3h-1.3zM210.2 48.8h1.3v1.3h-1.3zM214.2 49.6h1.3v1.3h-1.3zM215 46.7h1.3v1.3h-1.3zM222.5 54.6h1.3v1.3h-1.3zM216.6 47.3h1.3v1.3h-1.3zM206.1 48.5h1.3v1.3h-1.3zM213.1 57.4h1.3v1.3h-1.3zM218.8 49.5h1.3v1.3h-1.3zM218.4 54.5h1.3v1.3h-1.3zM214.1 54.5h1.3v1.3h-1.3zM215.2 49.1h1.3v1.3h-1.3zM209.7 50.6h1.3v1.3h-1.3zM217.7 47.1h1.3v1.3h-1.3zM208.1 52.6h1.3v1.3h-1.3zM204 56.2h1.3v1.3h-1.3zM212.4 53.1h1.3v1.3h-1.3zM220.8 46.8h1.3v1.3h-1.3zM210.1 57.4h1.3v1.3h-1.3zM213 50.6h1.3v1.3h-1.3zM214.8 54h1.3v1.3h-1.3zM218.9 51.3h1.3v1.3h-1.3zM212.8 50.9h1.3v1.3h-1.3zM215.1 54.7h1.3v1.3h-1.3zM214.5 56.2h1.3v1.3h-1.3zM210.8 52.5h1.3v1.3h-1.3zM220.5 54.7h1.3v1.3h-1.3zM215.2 48.5h1.3v1.3h-1.3zM211.4 50.6h1.3v1.3h-1.3zM215.1 50.3h1.3v1.3h-1.3zM208.6 48.9h1.3v1.3h-1.3zM215.9 53.4h1.3v1.3h-1.3zM208.8 50h1.3v1.3h-1.3zM207.8 49.4h1.3v1.3h-1.3zM227 51.2h1.3v1.3h-1.3zM212.7 49.3h1.3v1.3h-1.3zM209.5 45.7h1.3v1.3h-1.3zM213.8 50.2h1.3v1.3h-1.3zM219.4 46.3h1.3v1.3h-1.3zM215.6 54.8h1.3v1.3h-1.3zM206.8 52.9h1.3v1.3h-1.3zM208.1 52.5h1.3v1.3h-1.3zM219.4 51h1.3v1.3h-1.3zM215.1 49h1.3v1.3h-1.3zM215.1 54.2h1.3v1.3h-1.3zM213.3 50.6h1.3v1.3h-1.3zM215.4 53.4h1.3v1.3h-1.3zM208 51.2h1.3v1.3h-1.3zM211.5 52.4h1.3v1.3h-1.3zM217.8 51.9h1.3v1.3h-1.3zM218.8 48.2h1.3v1.3h-1.3zM212.5 48.2h1.3v1.3h-1.3zM214.2 51.3h1.3v1.3h-1.3zM213.3 47.5h1.3v1.3h-1.3zM213.7 49.7h1.3v1.3h-1.3zM216.2 50.2h1.3v1.3h-1.3zM218.3 51.7h1.3v1.3h-1.3zM207.2 50.5h1.3v1.3h-1.3zM208.7 53.8h1.3v1.3h-1.3zM219.3 50.9h1.3v1.3h-1.3zM215.6 46.9h1.3v1.3h-1.3zM205.7 49.4h1.3v1.3h-1.3zM213.1 46.7h1.3v1.3h-1.3zM214.3 51.9h1.3v1.3h-1.3zM216.4 55.4h1.3v1.3h-1.3zM217 50h1.3v1.3h-1.3zM214.4 52.7h1.3v1.3h-1.3zM210.2 54.8h1.3v1.3h-1.3zM217.3 50.4h1.3v1.3h-1.3zM211.7 61.9h1.3v1.3h-1.3zM217.1 53.7h1.3v1.3h-1.3zM220.6 53.8h1.3v1.3h-1.3zM214.8 53h1.3v1.3h-1.3zM210.6 53.1h1.3v1.3h-1.3zM208.3 52.2h1.3v1.3h-1.3zM216.1 46.5h1.3v1.3h-1.3zM221.1 47.7h1.3v1.3h-1.3zM217.9 49.5h1.3v1.3h-1.3zM215.2 49.1h1.3v1.3h-1.3zM223.2 54h1.3v1.3h-1.3zM220.7 53.3h1.3v1.3h-1.3zM216.6 51.5h1.3v1.3h-1.3zM213.2 52.8h1.3v1.3h-1.3zM214.6 50.6h1.3v1.3h-1.3zM209 50.2h1.3v1.3h-1.3zM216.3 49.7h1.3v1.3h-1.3zM215.4 50.6h1.3v1.3h-1.3zM210.3 48.5h1.3v1.3h-1.3zM211.3 50.2h1.3v1.3h-1.3zM213.1 54.3h1.3v1.3h-1.3zM210.1 45.2h1.3v1.3h-1.3zM216.6 49.8h1.3v1.3h-1.3zM213.6 58.4h1.3v1.3h-1.3zM219.5 52.8h1.3v1.3h-1.3zM217.6 51.4h1.3v1.3h-1.3zM217.6 49.3h1.3v1.3h-1.3zM211.5 49.7h1.3v1.3h-1.3zM219.9 55.5h1.3v1.3h-1.3zM211.9 54.4h1.3v1.3h-1.3zM213.5 54.2h1.3v1.3h-1.3zM212.9 53.8h1.3v1.3h-1.3zM213.7 50.3h1.3v1.3h-1.3zM214 51.5h1.3v1.3h-1.3zM212 47.2h1.3v1.3h-1.3zM220.4 50h1.3v1.3h-1.3zM207.4 44.6h1.3v1.3h-1.3zM203.8 49.3h1.3v1.3h-1.3zM219.1 46.4h1.3v1.3h-1.3zM212.9 45.8h1.3v1.3h-1.3zM218.2 52.2h1.3v1.3h-1.3zM215.3 55h1.3v1.3h-1.3zM220.2 54.1h1.3v1.3h-1.3zM212 47.3h1.3v1.3h-1.3zM210.3 46.1h1.3v1.3h-1.3zM220.8 50.6h1.3v1.3h-1.3zM214.6 51.7h1.3v1.3h-1.3zM221.6 49.5h1.3v1.3h-1.3zM218.5 52h1.3v1.3h-1.3zM213.6 45.6h1.3v1.3h-1.3zM217.6 49h1.3v1.3h-1.3zM212.4 51.8h1.3v1.3h-1.3zM214.5 54.4h1.3v1.3h-1.3zM211.7 51.6h1.3v1.3h-1.3zM215.2 51.2h1.3v1.3h-1.3zM216.7 50.4h1.3v1.3h-1.3zM218.6 49.1h1.3v1.3h-1.3zM208.8 51h1.3v1.3h-1.3zM218.5 49.6h1.3v1.3h-1.3zM211.8 50.1h1.3v1.3h-1.3zM214.8 50.6h1.3v1.3h-1.3zM215.3 46.2h1.3v1.3h-1.3zM219.7 52.8h1.3v1.3h-1.3zM211 55.1h1.3v1.3h-1.3zM215.8 55.4h1.3v1.3h-1.3zM209.8 55.9h1.3v1.3h-1.3zM214.3 45.2h1.3v1.3h-1.3zM216.9 50.3h1.3v1.3h-1.3zM210.4 50.5h1.3v1.3h-1.3zM207 52.8h1.3v1.3h-1.3zM213.4 50.3h1.3v1.3h-1.3zM219.4 51.2h1.3v1.3h-1.3zM211.7 48.4h1.3v1.3h-1.3zM213.9 54.2h1.3v1.3h-1.3zM212 48.1h1.3v1.3h-1.3zM217.6 51.3h1.3v1.3h-1.3zM214.1 57.1h1.3v1.3h-1.3zM209.7 51.7h1.3v1.3h-1.3zM207.6 50.3h1.3v1.3h-1.3zM216.3 54.4h1.3v1.3h-1.3zM209.4 53.5h1.3v1.3h-1.3zM217.1 50.8h1.3v1.3h-1.3zM223.3 51.1h1.3v1.3h-1.3zM210.9 52.3h1.3v1.3h-1.3zM207.2 55.6h1.3v1.3h-1.3zM217.8 50h1.3v1.3h-1.3zM216.4 52.7h1.3v1.3h-1.3zM221.3 49.3h1.3v1.3h-1.3zM209.4 45.3h1.3v1.3h-1.3zM213.1 46.6h1.3v1.3h-1.3zM213.5 52.3h1.3v1.3h-1.3zM212.5 48.4h1.3v1.3h-1.3zM218.6 50.5h1.3v1.3h-1.3zM215 53.9h1.3v1.3h-1.3zM209.3 48.5h1.3v1.3h-1.3zM223.4 50.7h1.3v1.3h-1.3zM210.3 50.4h1.3v1.3h-1.3zM212 47.6h1.3v1.3h-1.3zM212.6 51.1h1.3v1.3h-1.3zM214.1 52.7h1.3v1.3h-1.3zM207.7 46.8h1.3v1.3h-1.3zM217.1 49.8h1.3v1.3h-1.3zM218.7 52h1.3v1.3h-1.3zM208.9 52.7h1.3v1.3h-1.3zM210.4 51.9h1.3v1.3h-1.3zM218.7 57.2h1.3v1.3h-1.3zM213.9 53.1h1.3v1.3h-1.3zM215.3 53.4h1.3v1.3h-1.3zM204.7 50h1.3v1.3h-1.3zM215.2 52.5h1.3v1.3h-1.3zM211.4 53.5h1.3v1.3h-1.3zM218.2 51.3h1.3v1.3h-1.3zM213.3 50.1h1.3v1.3h-1.3zM214.7 54.5h1.3v1.3h-1.3zM219.7 49.8h1.3v1.3h-1.3zM210.7 48.8h1.3v1.3h-1.3zM217.8 51.8h1.3v1.3h-1.3zM215.3 52.5h1.3v1.3h-1.3zM215.5 50.8h1.3v1.3h-1.3zM210.3 49.3h1.3v1.3h-1.3zM214.6 52.2h1.3v1.3h-1.3zM212.8 49.9h1.3v1.3h-1.3zM219.2 49.8h1.3v1.3h-1.3zM215 50.2h1.3v1.3h-1.3zM211 46.8h1.3v1.3h-1.3zM212.2 48.8h1.3v1.3h-1.3zM217.3 47.8h1.3v1.3h-1.3zM212.6 53h1.3v1.3h-1.3zM213.7 52.5h1.3v1.3h-1.3zM217.2 46.4h1.3v1.3h-1.3zM212.6 48.4h1.3v1.3h-1.3zM219.1 50.8h1.3v1.3h-1.3zM216 56h1.3v1.3h-1.3zM212.8 51.3h1.3v1.3h-1.3zM215.7 50.4h1.3v1.3h-1.3zM218.8 53.5h1.3v1.3h-1.3zM217.8 51.3h1.3v1.3h-1.3zM212.9 50.1h1.3v1.3h-1.3zM212.8 46.4h1.3v1.3h-1.3zM215.5 53.4h1.3v1.3h-1.3zM214.1 49.7h1.3v1.3h-1.3zM214.3 51.8h1.3v1.3h-1.3zM215.3 56.2h1.3v1.3h-1.3zM211 52.2h1.3v1.3h-1.3zM216.7 51.3h1.3v1.3h-1.3zM213.3 48.2h1.3v1.3h-1.3zM212 53.1h1.3v1.3h-1.3zM219.5 49.2h1.3v1.3h-1.3zM215.9 52.6h1.3v1.3h-1.3zM217.8 51.8h1.3v1.3h-1.3zM215.8 53.7h1.3v1.3h-1.3zM209.9 51.2h1.3v1.3h-1.3zM207.7 45.5h1.3v1.3h-1.3zM211.1 46.7h1.3v1.3h-1.3zM216 53.9h1.3v1.3h-1.3zM213 50.7h1.3v1.3h-1.3zM213.3 50.4h1.3v1.3h-1.3zM214.6 52.1h1.3v1.3h-1.3zM212.5 48.9h1.3v1.3h-1.3zM212.2 53.4h1.3v1.3h-1.3zM212.6 55.2h1.3v1.3h-1.3zM213.3 55h1.3v1.3h-1.3zM209.8 49.1h1.3v1.3h-1.3zM215.9 52.5h1.3v1.3h-1.3zM213.6 56.9h1.3v1.3h-1.3zM214.4 51.9h1.3v1.3h-1.3zM212.1 55.8h1.3v1.3h-1.3zM217.2 52.3h1.3v1.3h-1.3zM208.2 52.1h1.3v1.3h-1.3zM212.4 52.2h1.3v1.3h-1.3zM217.4 49h1.3v1.3h-1.3zM214.9 53.6h1.3v1.3h-1.3zM214.7 50.2h1.3v1.3h-1.3zM210.3 49.2h1.3v1.3h-1.3zM209.5 53.9h1.3v1.3h-1.3zM214.5 47.7h1.3v1.3h-1.3zM214.1 47.5h1.3v1.3h-1.3zM202.2 54.5h1.3v1.3h-1.3zM218.4 46.9h1.3v1.3h-1.3zM211.5 51.7h1.3v1.3h-1.3zM212.7 48.7h1.3v1.3h-1.3zM212.3 50.4h1.3v1.3h-1.3zM212.1 51.7h1.3v1.3h-1.3zM213.3 48.9h1.3v1.3h-1.3zM214.2 46.4h1.3v1.3h-1.3zM219.3 46.2h1.3v1.3h-1.3zM213.8 52h1.3v1.3h-1.3zM215.6 51.8h1.3v1.3h-1.3zM218.7 47.9h1.3v1.3h-1.3zM213.9 51.5h1.3v1.3h-1.3zM212.3 49.4h1.3v1.3h-1.3zM218.7 49.1h1.3v1.3h-1.3zM212.4 50.3h1.3v1.3h-1.3zM213.3 51.5h1.3v1.3h-1.3zM213.4 52.1h1.3v1.3h-1.3zM214.6 52.4h1.3v1.3h-1.3zM219 48.7h1.3v1.3h-1.3zM220 49.8h1.3v1.3h-1.3zM216.5 51.5h1.3v1.3h-1.3zM213 45.6h1.3v1.3h-1.3zM219.9 49h1.3v1.3h-1.3zM211.3 54h1.3v1.3h-1.3zM214.4 56.4h1.3v1.3h-1.3zM220.1 53h1.3v1.3h-1.3zM215 53.2h1.3v1.3h-1.3zM209.4 51.5h1.3v1.3h-1.3zM214.6 49.7h1.3v1.3h-1.3zM215 47h1.3v1.3h-1.3zM217.3 54.7h1.3v1.3h-1.3zM209.4 51.5h1.3v1.3h-1.3zM219.6 52.2h1.3v1.3h-1.3zM210.4 48.3h1.3v1.3h-1.3zM217.1 56.2h1.3v1.3h-1.3zM210.2 51.2h1.3v1.3h-1.3zM211.3 50.3h1.3v1.3h-1.3zM215.2 50.9h1.3v1.3h-1.3zM211.6 56.9h1.3v1.3h-1.3zM213.5 50.6h1.3v1.3h-1.3zM218 51.1h1.3v1.3h-1.3zM213.3 53.7h1.3v1.3h-1.3zM210.4 53.1h1.3v1.3h-1.3zM217.8 52.9h1.3v1.3h-1.3zM213.4 51h1.3v1.3h-1.3zM207.9 50.7h1.3v1.3h-1.3zM215.1 53.5h1.3v1.3h-1.3zM214.6 50h1.3v1.3h-1.3zM211.1 50.9h1.3v1.3h-1.3zM214.5 54.4h1.3v1.3h-1.3zM214.1 49.7h1.3v1.3h-1.3zM213.7 49.7h1.3v1.3h-1.3zM213.2 44.9h1.3v1.3h-1.3zM208.4 47.7h1.3v1.3h-1.3zM215.7 50.8h1.3v1.3h-1.3zM214.6 54.3h1.3v1.3h-1.3zM210.4 54.2h1.3v1.3h-1.3zM215.4 49.1h1.3v1.3h-1.3zM219.4 47.1h1.3v1.3h-1.3zM210.1 50.5h1.3v1.3h-1.3zM215.5 50.5h1.3v1.3h-1.3zM206.5 50.2h1.3v1.3h-1.3zM213.8 58.1h1.3v1.3h-1.3zM219 51.4h1.3v1.3h-1.3zM210.2 52h1.3v1.3h-1.3zM209.9 51.6h1.3v1.3h-1.3zM215.4 49.9h1.3v1.3h-1.3zM214.9 50.1h1.3v1.3h-1.3zM212 55.3h1.3v1.3h-1.3zM216.1 50.2h1.3v1.3h-1.3zM211.3 51.5h1.3v1.3h-1.3zM216.1 53.4h1.3v1.3h-1.3zM219.3 52.3h1.3v1.3h-1.3zM210.1 56.7h1.3v1.3h-1.3zM218.2 53.3h1.3v1.3h-1.3zM218.8 46.9h1.3v1.3h-1.3zM212.7 49.6h1.3v1.3h-1.3zM218.3 47.8h1.3v1.3h-1.3zM212.9 55.2h1.3v1.3h-1.3z" fill="#000" fill-opacity="0.9"/>
<path d="M226.1 74.8h1.3v1.3h-1.3zM228.9 88.7h1.3v1.3h-1.3zM229.4 103.8h1.3v1.3h-1.3zM227 62.5h1.3v1.3h-1.3zM223.2 76.2h1.3v1.3h-1.3zM227.6 77.2h1.3v1.3h-1.3zM228.8 96.4h1.3v1.3h-1.3zM230.6 109h1.3v1.3h-1.3zM222.6 56.7h1.3v1.3h-1.3zM231.4 87.9h1.3v1.3h-1.3zM221.6 55.8h1.3v1.3h-1.3zM230 72.6h1.3v1.3h-1.3zM224.3 78.2h1.3v1.3h-1.3zM225.8 71.7h1.3v1.3h-1.3zM229.8 78.4h1.3v1.3h-1.3zM229.6 76.1h1.3v1.3h-1.3zM225.5 85.1h1.3v1.3h-1.3zM223.9 68.6h1.3v1.3h-1.3zM229.9 78.6h1.3v1.3h-1.3zM223.4 68.7h1.3v1.3h-1.3zM230.8 79.3h1.3v1.3h-1.3zM233.8 97.2h1.3v1.3h-1.3zM220.6 55.7h1.3v1.3h-1.3zM229.6 114.4h1.3v1.3h-1.3zM224.7 62.6h1.3v1.3h-1.3zM231.7 103.5h1.3v1.3h-1.3zM232.2 69.3h1.3v1.3h-1.3zM222.9 60.1h1.3v1.3h-1.3zM221.7 101.6h1.3v1.3h-1.3zM228.5 89.7h1.3v1.3h-1.3zM224 70.5h1.3v1.3h-1.3zM227.5 77.6h1.3v1.3h-1.3zM227.8 107.5h1.3v1.3h-1.3zM231.3 96.1h1.3v1.3h-1.3zM229.9 70.6h1.3v1.3h-1.3zM224.9 69.8h1.3v1.3h-1.3zM229 89h1.3v1.3h-1.3zM225 62.9h1.3v1.3h-1.3zM224 67.7h1.3v1.3h-1.3zM230.6 103.8h1.3v1.3h-1.3zM229.9 98.2h1.3v1.3h-1.3zM222.3 57.4h1.3v1.3h-1.3zM224.4 81.6h1.3v1.3h-1.3zM229.3 79h1.3v1.3h-1.3zM226.9 98.5h1.3v1.3h-1.3zM229 79.7h1.3v1.3h-1.3zM225.3 69.1h1.3v1.3h-1.3zM229.8 106.9h1.3v1.3h-1.3zM225.5 67.8h1.3v1.3h-1.3zM231.5 95.6h1.3v1.3h-1.3zM226.9 71.4h1.3v1.3h-1.3zM232 91.4h1.3v1.3h-1.3zM222.9 65.5h1.3v1.3h-1.3zM229.7 106.4h1.3v1.3h-1.3zM228.5 76.4h1.3v1.3h-1.3zM229 95.7h1.3v1.3h-1.3zM228.7 100.7h1.3v1.3h-1.3zM229.8 82.5h1.3v1.3h-1.3zM229 87.8h1.3v1.3h-1.3zM225 63.4h1.3v1.3h-1.3zM228.4 87.2h1.3v1.3h-1.3zM234.4 86.5h1.3v1.3h-1.3zM232.8 109.4h1.3v1.3h-1.3zM226.5 74.5h1.3v1.3h-1.3zM225.6 63.7h1.3v1.3h-1.3zM226.1 77.5h1.3v1.3h-1.3zM232 102.1h1.3v1.3h-1.3zM219.7 57h1.3v1.3h-1.3zM221.1 58.1h1.3v1.3h-1.3zM229.5 114.8h1.3v1.3h-1.3zM221.7 88.6h1.3v1.3h-1.3zM230.2 98h1.3v1.3h-1.3zM232.9 81.4h1.3v1.3h-1.3zM216.8 67.8h1.3v1.3h-1.3zM230.1 93.5h1.3v1.3h-1.3zM224.9 69.7h1.3v1.3h-1.3zM225 82.1h1.3v1.3h-1.3zM231.1 68.5h1.3v1.3h-1.3zM228.7 109.8h1.3v1.3h-1.3zM225.4 78.3h1.3v1.3h-1.3zM228.3 95.7h1.3v1.3h-1.3zM220.8 67.4h1.3v1.3h-1.3zM229.2 90.4h1.3v1.3h-1.3zM226.1 73.4h1.3v1.3h-1.3zM227.4 61.9h1.3v1.3h-1.3zM228 74.2h1.3v1.3h-1.3zM220.3 58.5h1.3v1.3h-1.3zM226.6 90.9h1.3v1.3h-1.3zM226.7 87h1.3v1.3h-1.3zM228.4 106.9h1.3v1.3h-1.3zM222 57.3h1.3v1.3h-1.3zM233.4 78.4h1.3v1.3h-1.3zM228.2 113.1h1.3v1.3h-1.3zM229.8 75.2h1.3v1.3h-1.3zM216.4 58.5h1.3v1.3h-1.3zM233.4 103.5h1.3v1.3h-1.3zM222.4 61.7h1.3v1.3h-1.3zM225.4 97h1.3v1.3h-1.3zM225.1 85.5h1.3v1.3h-1.3zM228 108h1.3v1.3h-1.3zM231.6 86.2h1.3v1.3h-1.3zM235.5 95.1h1.3v1.3h-1.3zM226.3 70.5h1.3v1.3h-1.3zM226.4 113.8h1.3v1.3h-1.3zM226.3 66.7h1.3v1.3h-1.3zM230.1 106.1h1.3v1.3h-1.3zM226.4 93.9h1.3v1.3h-1.3zM228.8 82.7h1.3v1.3h-1.3zM228.3 76.6h1.3v1.3h-1.3zM222.7 61.5h1.3v1.3h-1.3zM231 102.2h1.3v1.3h-1.3zM222.4 66.4h1.3v1.3h-1.3zM223.7 106.7h1.3v1.3h-1.3zM229 107.7h1.3v1.3h-1.3zM223.5 66.2h1.3v1.3h-1.3zM222.6 70.5h1.3v1.3h-1.3zM230.6 95.9h1.3v1.3h-1.3zM230.7 100h1.3v1.3h-1.3zM222.1 58.8h1.3v1.3h-1.3zM230.7 105.4h1.3v1.3h-1.3zM227 103.1h1.3v1.3h-1.3zM227.8 91.4h1.3v1.3h-1.3zM230.2 108.3h1.3v1.3h-1.3zM228.2 113.9h1.3v1.3h-1.3zM223.5 68h1.3v1.3h-1.3zM224 111.7h1.3v1.3h-1.3zM229.9 106h1.3v1.3h-1.3zM226.8 90.6h1.3v1.3h-1.3zM221.5 60.3h1.3v1.3h-1.3zM225 113.5h1.3v1.3h-1.3zM226.9 100.4h1.3v1.3h-1.3zM231.4 76.5h1.3v1.3h-1.3zM228.7 73.1h1.3v1.3h-1.3zM227.3 111.5h1.3v1.3h-1.3zM227.1 67.5h1.3v1.3h-1.3zM228.5 104.1h1.3v1.3h-1.3zM229.5 79.4h1.3v1.3h-1.3zM224.6 95.8h1.3v1.3h-1.3zM228.2 104.2h1.3v1.3h-1.3zM222.5 62.9h1.3v1.3h-1.3zM228 70.6h1.3v1.3h-1.3zM221.1 62.7h1.3v1.3h-1.3zM229.7 79.1h1.3v1.3h-1.3zM222.9 64h1.3v1.3h-1.3zM232.1 109.2h1.3v1.3h-1.3zM223.7 102.7h1.3v1.3h-1.3zM230.7 89.3h1.3v1.3h-1.3zM223.2 68.5h1.3v1.3h-1.3zM223.6 66.4h1.3v1.3h-1.3zM227.5 90.5h1.3v1.3h-1.3zM227 109.1h1.3v1.3h-1.3zM229.1 110.6h1.3v1.3h-1.3zM228.7 110.7h1.3v1.3h-1.3zM224.2 73.8h1.3v1.3h-1.3zM226.1 97.3h1.3v1.3h-1.3zM225.9 85.5h1.3v1.3h-1.3zM223.5 87.5h1.3v1.3h-1.3zM225.8 96.5h1.3v1.3h-1.3zM226.6 72.5h1.3v1.3h-1.3zM221.4 69.6h1.3v1.3h-1.3zM227.3 78.1h1.3v1.3h-1.3zM228.6 68.3h1.3v1.3h-1.3zM229 106.7h1.3v1.3h-1.3zM227 77h1.3v1.3h-1.3zM218.2 58.3h1.3v1.3h-1.3zM231.5 92.8h1.3v1.3h-1.3zM228.3 113.9h1.3v1.3h-1.3zM228.7 88h1.3v1.3h-1.3zM226 70.1h1.3v1.3h-1.3zM228.9 108.9h1.3v1.3h-1.3zM229.8 92.5h1.3v1.3h-1.3zM232.4 90.8h1.3v1.3h-1.3zM225.4 82.6h1.3v1.3h-1.3zM226.4 101.3h1.3v1.3h-1.3zM228.7 93.4h1.3v1.3h-1.3zM230.3 88.4h1.3v1.3h-1.3zM227.8 73.4h1.3v1.3h-1.3zM230.7 101h1.3v1.3h-1.3zM228.2 109.9h1.3v1.3h-1.3zM219.5 59.5h1.3v1.3h-1.3zM219.3 57.3h1.3v1.3h-1.3zM219.6 60.6h1.3v1.3h-1.3zM230.3 107.2h1.3v1.3h-1.3zM227.5 91.2h1.3v1.3h-1.3zM228.1 78.4h1.3v1.3h-1.3zM227.7 112.4h1.3v1.3h-1.3zM227.4 111.1h1.3v1.3h-1.3zM228 80.8h1.3v1.3h-1.3zM230 77.1h1.3v1.3h-1.3zM228.8 86.2h1.3v1.3h-1.3zM229.4 89.8h1.3v1.3h-1.3zM227.9 104.7h1.3v1.3h-1.3zM228.4 107.5h1.3v1.3h-1.3zM231.7 71.9h1.3v1.3h-1.3zM227.7 106.7h1.3v1.3h-1.3zM220 60.9h1.3v1.3h-1.3zM226.9 69.5h1.3v1.3h-1.3zM224.8 79.6h1.3v1.3h-1.3zM220.9 60.2h1.3v1.3h-1.3zM229.2 74.5h1.3v1.3h-1.3zM217.8 57.6h1.3v1.3h-1.3zM231 102.3h1.3v1.3h-1.3zM225.1 96.1h1.3v1.3h-1.3zM228.4 71h1.3v1.3h-1.3zM225.8 85.8h1.3v1.3h-1.3zM228.2 78.2h1.3v1.3h-1.3zM228.4 104h1.3v1.3h-1.3zM229.6 71.7h1.3v1.3h-1.3zM224 68.5h1.3v1.3h-1.3zM227.7 101.5h1.3v1.3h-1.3zM228.4 99.8h1.3v1.3h-1.3zM232.1 97.2h1.3v1.3h-1.3zM219.9 60.3h1.3v1.3h-1.3zM218.7 58.2h1.3v1.3h-1.3zM228.1 110.3h1.3v1.3h-1.3zM227.2 113.4h1.3v1.3h-1.3zM220.8 66.7h1.3v1.3h-1.3zM229 84.2h1.3v1.3h-1.3zM228.9 84.1h1.3v1.3h-1.3zM228.5 71.3h1.3v1.3h-1.3zM221 60.1h1.3v1.3h-1.3zM227.1 69.5h1.3v1.3h-1.3zM231.6 111.8h1.3v1.3h-1.3zM229.6 81.4h1.3v1.3h-1.3zM221.7 67.6h1.3v1.3h-1.3zM222.7 59.5h1.3v1.3h-1.3zM234 93.9h1.3v1.3h-1.3zM227.9 104.9h1.3v1.3h-1.3zM223.9 69.9h1.3v1.3h-1.3zM229.1 98.9h1.3v1.3h-1.3zM216.8 56.6h1.3v1.3h-1.3zM221.7 62.5h1.3v1.3h-1.3zM227.2 93.4h1.3v1.3h-1.3zM224.3 61h1.3v1.3h-1.3zM222.2 82.3h1.3v1.3h-1.3zM229.7 83.5h1.3v1.3h-1.3zM220.5 57.5h1.3v1.3h-1.3zM225.3 102.2h1.3v1.3h-1.3zM230.3 98.6h1.3v1.3h-1.3zM229.7 102h1.3v1.3h-1.3zM228.3 94.8h1.3v1.3h-1.3zM223.4 71.3h1.3v1.3h-1.3zM226.3 96.4h1.3v1.3h-1.3zM229.8 89.4h1.3v1.3h-1.3zM229 91h1.3v1.3h-1.3zM229.5 100.6h1.3v1.3h-1.3zM229.4 73.4h1.3v1.3h-1.3zM229.7 109h1.3v1.3h-1.3zM226.7 82.3h1.3v1.3h-1.3zM229.8 72.5h1.3v1.3h-1.3zM230.9 86.7h1.3v1.3h-1.3zM226.1 113.8h1.3v1.3h-1.3zM227.1 97h1.3v1.3h-1.3zM221 61.2h1.3v1.3h-1.3zM223.3 71.4h1.3v1.3h-1.3zM223.8 94.8h1.3v1.3h-1.3zM226.9 113.6h1.3v1.3h-1.3zM229.9 86.5h1.3v1.3h-1.3zM226.1 87h1.3v1.3h-1.3zM217.2 57.7h1.3v1.3h-1.3zM216 64.2h1.3v1.3h-1.3zM223.2 103.9h1.3v1.3h-1.3zM223.5 70.3h1.3v1.3h-1.3zM227 87.5h1.3v1.3h-1.3zM229.2 96.5h1.3v1.3h-1.3zM228.6 88.1h1.3v1.3h-1.3zM227.2 99.6h1.3v1.3h-1.3zM230.8 93.7h1.3v1.3h-1.3zM227 73.3h1.3v1.3h-1.3zM229.1 89.3h1.3v1.3h-1.3zM233.2 96.6h1.3v1.3h-1.3zM220.5 58.5h1.3v1.3h-1.3zM226.7 112.9h1.3v1.3h-1.3zM228.2 91.4h1.3v1.3h-1.3zM227.9 112.6h1.3v1.3h-1.3zM228.6 105.4h1.3v1.3h-1.3zM217.6 57.1h1.3v1.3h-1.3zM223.7 60.7h1.3v1.3h-1.3zM228.8 105.3h1.3v1.3h-1.3zM224.7 69.9h1.3v1.3h-1.3zM231.3 108.5h1.3v1.3h-1.3zM227.1 113.8h1.3v1.3h-1.3zM229.7 100.9h1.3v1.3h-1.3zM230.2 91h1.3v1.3h-1.3zM232.1 79.9h1.3v1.3h-1.3zM228.6 109.8h1.3v1.3h-1.3zM231.3 93h1.3v1.3h-1.3zM224.1 61.9h1.3v1.3h-1.3zM228.5 98.9h1.3v1.3h-1.3zM231.3 73.7h1.3v1.3h-1.3zM219.3 62.4h1.3v1.3h-1.3zM231.2 77.4h1.3v1.3h-1.3zM227.8 106.6h1.3v1.3h-1.3zM230 100.1h1.3v1.3h-1.3zM222.5 76.8h1.3v1.3h-1.3zM228.1 104.5h1.3v1.3h-1.3zM228.7 87.9h1.3v1.3h-1.3zM228 72.8h1.3v1.3h-1.3zM230.2 62h1.3v1.3h-1.3zM230.8 95.1h1.3v1.3h-1.3zM226.9 71h1.3v1.3h-1.3zM233.3 84.9h1.3v1.3h-1.3zM222.3 69.1h1.3v1.3h-1.3zM228 93.2h1.3v1.3h-1.3zM217.3 59h1.3v1.3h-1.3zM227.3 70.8h1.3v1.3h-1.3zM231.1 91.3h1.3v1.3h-1.3zM225.9 105.2h1.3v1.3h-1.3zM230.8 98.3h1.3v1.3h-1.3zM225.2 72.3h1.3v1.3h-1.3zM228.3 77.9h1.3v1.3h-1.3zM228.7 84.4h1.3v1.3h-1.3zM229.7 111.8h1.3v1.3h-1.3zM221.9 65.1h1.3v1.3h-1.3zM227.9 102.4h1.3v1.3h-1.3zM223.4 61.4h1.3v1.3h-1.3zM228.3 105.4h1.3v1.3h-1.3zM225.3 62.1h1.3v1.3h-1.3zM232.8 77.4h1.3v1.3h-1.3zM229.5 76.4h1.3v1.3h-1.3zM226.5 94.8h1.3v1.3h-1.3zM228.4 73.6h1.3v1.3h-1.3zM229.1 102.9h1.3v1.3h-1.3zM226.2 113.9h1.3v1.3h-1.3zM230 98.6h1.3v1.3h-1.3zM210.8 57.6h1.3v1.3h-1.3zM224.8 62h1.3v1.3h-1.3zM229.7 103.6h1.3v1.3h-1.3zM226.6 78.9h1.3v1.3h-1.3zM229.9 84.4h1.3v1.3h-1.3zM226.9 105.7h1.3v1.3h-1.3zM225.8 97.6h1.3v1.3h-1.3zM224.5 86.3h1.3v1.3h-1.3zM227.1 72h1.3v1.3h-1.3zM218.9 59.9h1.3v1.3h-1.3zM216.4 61.7h1.3v1.3h-1.3zM220.9 59.7h1.3v1.3h-1.3zM226.3 78.3h1.3v1.3h-1.3zM231.5 113.1h1.3v1.3h-1.3zM221 62.6h1.3v1.3h-1.3zM231.6 85.8h1.3v1.3h-1.3zM226.4 90.9h1.3v1.3h-1.3zM229.6 113.2h1.3v1.3h-1.3zM227.6 115.9h1.3v1.3h-1.3zM233.1 93.1h1.3v1.3h-1.3zM227 90.5h1.3v1.3h-1.3zM231.1 97.6h1.3v1.3h-1.3zM227.9 81.1h1.3v1.3h-1.3zM227.4 103.5h1.3v1.3h-1.3zM226 103.7h1.3v1.3h-1.3zM225.4 68.7h1.3v1.3h-1.3zM227.2 86.2h1.3v1.3h-1.3zM224.3 73.1h1.3v1.3h-1.3zM220 61.8h1.3v1.3h-1.3zM223.9 79.3h1.3v1.3h-1.3zM232.9 90.9h1.3v1.3h-1.3zM229 87.3h1.3v1.3h-1.3zM225.9 76.7h1.3v1.3h-1.3zM229.9 87h1.3v1.3h-1.3zM229.3 85.7h1.3v1.3h-1.3zM216.9 57h1.3v1.3h-1.3zM232.7 95.3h1.3v1.3h-1.3zM227.3 102.3h1.3v1.3h-1.3zM227.3 81.5h1.3v1.3h-1.3zM232.4 93.3h1.3v1.3h-1.3zM226.6 68.8h1.3v1.3h-1.3zM228.4 97.4h1.3v1.3h-1.3zM230.6 81.5h1.3v1.3h-1.3zM231.7 92.2h1.3v1.3h-1.3zM227.7 95.4h1.3v1.3h-1.3zM228.2 79.9h1.3v1.3h-1.3zM223.9 65.1h1.3v1.3h-1.3zM228.5 109.2h1.3v1.3h-1.3zM229.1 105.6h1.3v1.3h-1.3zM230 78.1h1.3v1.3h-1.3zM226.4 77.5h1.3v1.3h-1.3zM227.7 105.6h1.3v1.3h-1.3zM228.7 97.3h1.3v1.3h-1.3zM229 71.4h1.3v1.3h-1.3zM230.7 103.4h1.3v1.3h-1.3zM229.1 75.1h1.3v1.3h-1.3zM223.5 104h1.3v1.3h-1.3zM222.4 61.3h1.3v1.3h-1.3zM228.2 111.3h1.3v1.3h-1.3zM231.5 74.9h1.3v1.3h-1.3zM225.3 109.4h1.3v1.3h-1.3zM222.1 68.9h1.3v1.3h-1.3zM227.4 75.8h1.3v1.3h-1.3zM226.9 70.8h1.3v1.3h-1.3zM231.6 91.3h1.3v1.3h-1.3zM229 69.7h1.3v1.3h-1.3zM232.9 95.7h1.3v1.3h-1.3zM233.1 95.3h1.3v1.3h-1.3zM224.1 99.9h1.3v1.3h-1.3zM228.6 82.1h1.3v1.3h-1.3zM227.3 80.9h1.3v1.3h-1.3zM222.8 69.1h1.3v1.3h-1.3zM231 83.7h1.3v1.3h-1.3zM228.8 87.3h1.3v1.3h-1.3zM229.5 70.5h1.3v1.3h-1.3zM229.1 86.7h1.3v1.3h-1.3zM223.9 65.5h1.3v1.3h-1.3zM223.2 80.8h1.3v1.3h-1.3zM232.6 74.3h1.3v1.3h-1.3zM231 87.7h1.3v1.3h-1.3zM228.5 102.1h1.3v1.3h-1.3zM221 56.5h1.3v1.3h-1.3zM225.6 80.4h1.3v1.3h-1.3zM224.9 61.4h1.3v1.3h-1.3zM230.1 75.3h1.3v1.3h-1.3zM226 100.5h1.3v1.3h-1.3zM235.1 93.1h1.3v1.3h-1.3zM228.5 98.7h1.3v1.3h-1.3zM226.3 103.5h1.3v1.3h-1.3zM223.5 75.2h1.3v1.3h-1.3zM228.2 76.5h1.3v1.3h-1.3zM222.6 65h1.3v1.3h-1.3zM225 75h1.3v1.3h-1.3zM227.9 92.7h1.3v1.3h-1.3zM226.8 94.8h1.3v1.3h-1.3zM227.9 97.1h1.3v1.3h-1.3zM230.6 85.2h1.3v1.3h-1.3zM222.5 59.2h1.3v1.3h-1.3zM228.8 93.5h1.3v1.3h-1.3zM228.2 106.2h1.3v1.3h-1.3zM228.8 106.6h1.3v1.3h-1.3zM220.1 57.9h1.3v1.3h-1.3zM228.6 77.1h1.3v1.3h-1.3zM228.9 83.6h1.3v1.3h-1.3zM227.7 90.6h1.3v1.3h-1.3zM228.5 103.3h1.3v1.3h-1.3zM218.8 56.8h1.3v1.3h-1.3zM230.6 109.1h1.3v1.3h-1.3zM228.4 81h1.3v1.3h-1.3zM229.8 112.9h1.3v1.3h-1.3zM227 103.5h1.3v1.3h-1.3zM227.9 77.7h1.3v1.3h-1.3zM228.7 112.9h1.3v1.3h-1.3zM224.4 83.4h1.3v1.3h-1.3zM221.9 63.3h1.3v1.3h-1.3zM226.5 66.8h1.3v1.3h-1.3zM231.9 87.7h1.3v1.3h-1.3zM228.2 100.5h1.3v1.3h-1.3zM225.8 73.8h1.3v1.3h-1.3zM225.2 111.1h1.3v1.3h-1.3zM220.4 70.4h1.3v1.3h-1.3zM223 112.8h1.3v1.3h-1.3zM229.4 93.3h1.3v1.3h-1.3zM228 98.1h1.3v1.3h-1.3zM226.4 76.3h1.3v1.3h-1.3zM229.4 87.1h1.3v1.3h-1.3zM229.5 75.6h1.3v1.3h-1.3zM231.8 85.2h1.3v1.3h-1.3zM230.9 105.7h1.3v1.3h-1.3zM229 100.3h1.3v1.3h-1.3zM222.8 104.8h1.3v1.3h-1.3zM227.5 80.8h1.3v1.3h-1.3zM221.7 72.9h1.3v1.3h-1.3zM226.5 90.1h1.3v1.3h-1.3zM226.3 112.4h1.3v1.3h-1.3zM228.8 97.8h1.3v1.3h-1.3zM225.9 69h1.3v1.3h-1.3zM231.8 102.8h1.3v1.3h-1.3zM228.3 109h1.3v1.3h-1.3zM228.7 99.3h1.3v1.3h-1.3zM228.2 97.8h1.3v1.3h-1.3zM222 95.9h1.3v1.3h-1.3zM225.6 89.1h1.3v1.3h-1.3zM232.5 77.1h1.3v1.3h-1.3zM230.9 97.7h1.3v1.3h-1.3zM229.1 78.8h1.3v1.3h-1.3zM224.2 65.6h1.3v1.3h-1.3zM231.9 110.3h1.3v1.3h-1.3zM229.2 109.6h1.3v1.3h-1.3zM228.7 62.6h1.3v1.3h-1.3zM228.7 103.2h1.3v1.3h-1.3zM229.8 92.4h1.3v1.3h-1.3zM225.8 74.2h1.3v1.3h-1.3zM232.3 75.4h1.3v1.3h-1.3zM224.6 64h1.3v1.3h-1.3zM227.5 82.1h1.3v1.3h-1.3zM223.6 67.6h1.3v1.3h-1.3zM227.8 94.6h1.3v1.3h-1.3zM228.5 111.7h1.3v1.3h-1.3zM225.5 72.2h1.3v1.3h-1.3zM226.4 69.7h1.3v1.3h-1.3zM226.8 85.7h1.3v1.3h-1.3zM224.4 63h1.3v1.3h-1.3zM223.8 63.4h1.3v1.3h-1.3zM224.1 67h1.3v1.3h-1.3zM230.9 103.9h1.3v1.3h-1.3zM228.4 84.3h1.3v1.3h-1.3zM228.1 100.8h1.3v1.3h-1.3zM228.9 103.8h1.3v1.3h-1.3zM225.5 73.7h1.3v1.3h-1.3zM226.8 64.8h1.3v1.3h-1.3zM218.1 58.5h1.3v1.3h-1.3zM224.7 98.1h1.3v1.3h-1.3zM227.9 86.1h1.3v1.3h-1.3zM230.5 105.9h1.3v1.3h-1.3zM227.6 95.4h1.3v1.3h-1.3zM225.9 65.2h1.3v1.3h-1.3zM233.3 84.6h1.3v1.3h-1.3zM226 79.1h1.3v1.3h-1.3zM221.5 61.3h1.3v1.3h-1.3zM228.3 64.7h1.3v1.3h-1.3zM226 97.4h1.3v1.3h-1.3zM225.1 95.2h1.3v1.3h-1.3zM227.8 79.5h1.3v1.3h-1.3zM226.2 62.6h1.3v1.3h-1.3zM225.5 70.7h1.3v1.3h-1.3zM227.3 81.5h1.3v1.3h-1.3zM229 99.8h1.3v1.3h-1.3zM229.6 80h1.3v1.3h-1.3zM226.7 101.5h1.3v1.3h-1.3zM227.1 77.7h1.3v1.3h-1.3zM227.4 90.6h1.3v1.3h-1.3zM228.4 100.6h1.3v1.3h-1.3zM226.8 80h1.3v1.3h-1.3zM224.1 82.3h1.3v1.3h-1.3zM221.3 58.8h1.3v1.3h-1.3zM217.4 62.4h1.3v1.3h-1.3zM226.7 97.1h1.3v1.3h-1.3zM221.5 62.9h1.3v1.3h-1.3zM226.2 66.5h1.3v1.3h-1.3zM227.1 83.6h1.3v1.3h-1.3zM229.5 109.1h1.3v1.3h-1.3zM230.4 113.9h1.3v1.3h-1.3zM228.4 99.2h1.3v1.3h-1.3zM228.8 76.7h1.3v1.3h-1.3zM225 65.8h1.3v1.3h-1.3zM226.9 79.1h1.3v1.3h-1.3zM224.2 59h1.3v1.3h-1.3zM228.2 72.1h1.3v1.3h-1.3zM228.4 97.4h1.3v1.3h-1.3zM229.3 91.4h1.3v1.3h-1.3zM234.1 110.4h1.3v1.3h-1.3zM231.8 74.1h1.3v1.3h-1.3zM222.4 79.7h1.3v1.3h-1.3zM231.4 99.5h1.3v1.3h-1.3zM223.6 69.9h1.3v1.3h-1.3zM222.5 68.2h1.3v1.3h-1.3zM227.6 113.8h1.3v1.3h-1.3zM231.8 75.6h1.3v1.3h-1.3zM231.1 106.5h1.3v1.3h-1.3zM224.7 78.3h1.3v1.3h-1.3zM232.7 107.9h1.3v1.3h-1.3zM225.1 104.5h1.3v1.3h-1.3zM230.3 70.7h1.3v1.3h-1.3zM219.9 57.6h1.3v1.3h-1.3zM232.2 95.1h1.3v1.3h-1.3zM228.1 74.9h1.3v1.3h-1.3zM226.7 74.3h1.3v1.3h-1.3zM227.4 97h1.3v1.3h-1.3zM224.8 79.2h1.3v1.3h-1.3zM224.5 71.8h1.3v1.3h-1.3zM223.8 107h1.3v1.3h-1.3zM230.1 103.5h1.3v1.3h-1.3zM228.3 102.1h1.3v1.3h-1.3zM224.8 74.9h1.3v1.3h-1.3zM227.5 113.3h1.3v1.3h-1.3zM226.9 85.1h1.3v1.3h-1.3zM226.6 72.1h1.3v1.3h-1.3zM221.6 64.2h1.3v1.3h-1.3zM232.2 103.3h1.3v1.3h-1.3zM227.7 98.1h1.3v1.3h-1.3zM228 110.3h1.3v1.3h-1.3zM221.5 61.5h1.3v1.3h-1.3zM224.9 58.5h1.3v1.3h-1.3zM229.9 108.1h1.3v1.3h-1.3zM229.1 69.9h1.3v1.3h-1.3zM228 73.5h1.3v1.3h-1.3zM222 62.5h1.3v1.3h-1.3zM218.7 85.3h1.3v1.3h-1.3zM224.9 67h1.3v1.3h-1.3zM219.9 59.2h1.3v1.3h-1.3zM228.9 111.2h1.3v1.3h-1.3zM223.5 63.4h1.3v1.3h-1.3zM227.6 75.3h1.3v1.3h-1.3zM224.3 65.8h1.3v1.3h-1.3zM229.6 105.3h1.3v1.3h-1.3zM231 101.4h1.3v1.3h-1.3zM227.2 109.7h1.3v1.3h-1.3zM229.2 82.5h1.3v1.3h-1.3zM227.7 100.1h1.3v1.3h-1.3zM226.9 102.9h1.3v1.3h-1.3zM227.5 106.2h1.3v1.3h-1.3zM219.9 63.3h1.3v1.3h-1.3zM230 83.2h1.3v1.3h-1.3zM228.4 94.1h1.3v1.3h-1.3zM227.1 72.2h1.3v1.3h-1.3zM231.1 103.1h1.3v1.3h-1.3zM226.4 92.6h1.3v1.3h-1.3zM231.1 102.9h1.3v1.3h-1.3zM226.7 99.1h1.3v1.3h-1.3zM230.3 79.9h1.3v1.3h-1.3zM223.2 62.5h1.3v1.3h-1.3zM224 69.6h1.3v1.3h-1.3zM230.2 85h1.3v1.3h-1.3zM230.5 110.9h1.3v1.3h-1.3z" fill="#000" fill-opacity="0.85"/>
<path d="M224.5 72h1.2v1.2h-1.2zM230.5 97.3h1.2v1.2h-1.2zM231.9 105.4h1.2v1.2h-1.2zM229.2 95.9h1.2v1.2h-1.2zM225.2 111.1h1.2v1.2h-1.2zM229.9 109.5h1.2v1.2h-1.2zM232.1 87.7h1.2v1.2h-1.2zM230.5 111.9h1.2v1.2h-1.2zM234.9 96.2h1.2v1.2h-1.2zM228.3 111.3h1.2v1.2h-1.2zM221.8 63.3h1.2v1.2h-1.2zM233.8 74.3h1.2v1.2h-1.2zM224 63.5h1.2v1.2h-1.2zM217.6 57h1.2v1.2h-1.2zM225.7 93.4h1.2v1.2h-1.2zM228.9 113.3h1.2v1.2h-1.2zM230.6 92.4h1.2v1.2h-1.2zM223.7 114h1.2v1.2h-1.2zM229.8 103.7h1.2v1.2h-1.2zM227.8 92h1.2v1.2h-1.2zM228.1 78.3h1.2v1.2h-1.2zM227.6 67.5h1.2v1.2h-1.2zM227.2 112.4h1.2v1.2h-1.2zM224.3 111.3h1.2v1.2h-1.2zM230.4 109.6h1.2v1.2h-1.2zM228 74.4h1.2v1.2h-1.2zM226.4 99.9h1.2v1.2h-1.2zM224.6 86.8h1.2v1.2h-1.2zM228.9 103.6h1.2v1.2h-1.2zM229.9 88.5h1.2v1.2h-1.2zM221.7 56.3h1.2v1.2h-1.2zM228.5 72.4h1.2v1.2h-1.2zM227.2 71.3h1.2v1.2h-1.2zM224.9 73.9h1.2v1.2h-1.2zM220.4 75h1.2v1.2h-1.2zM215.4 57.1h1.2v1.2h-1.2zM220.9 84.6h1.2v1.2h-1.2zM228.7 111.7h1.2v1.2h-1.2zM222.6 91.3h1.2v1.2h-1.2zM234.6 68.1h1.2v1.2h-1.2zM228.8 111.1h1.2v1.2h-1.2zM225.3 107.9h1.2v1.2h-1.2zM229.5 108.2h1.2v1.2h-1.2zM226.2 62.3h1.2v1.2h-1.2zM232.1 95.6h1.2v1.2h-1.2zM236.6 73.9h1.2v1.2h-1.2zM226.5 103.8h1.2v1.2h-1.2zM229.9 77.7h1.2v1.2h-1.2zM223.6 69.6h1.2v1.2h-1.2zM230.9 112.2h1.2v1.2h-1.2zM227.9 106h1.2v1.2h-1.2zM227.8 93h1.2v1.2h-1.2zM223.7 83.7h1.2v1.2h-1.2zM229.6 89.5h1.2v1.2h-1.2zM228.6 93.7h1.2v1.2h-1.2zM222.6 80.2h1.2v1.2h-1.2zM226.7 80.6h1.2v1.2h-1.2zM234.9 71.7h1.2v1.2h-1.2zM225.4 91.1h1.2v1.2h-1.2zM226 70.9h1.2v1.2h-1.2zM233.2 79.6h1.2v1.2h-1.2zM225.4 71.7h1.2v1.2h-1.2zM233.2 109h1.2v1.2h-1.2zM230.4 84.7h1.2v1.2h-1.2zM222.7 63.5h1.2v1.2h-1.2zM223.9 62.6h1.2v1.2h-1.2zM233.4 101.6h1.2v1.2h-1.2zM226.2 110.2h1.2v1.2h-1.2zM222.3 67.9h1.2v1.2h-1.2zM227.8 88.2h1.2v1.2h-1.2zM232.4 84.5h1.2v1.2h-1.2zM227 80.4h1.2v1.2h-1.2zM228 96.6h1.2v1.2h-1.2zM228.8 101.8h1.2v1.2h-1.2zM227.2 102.5h1.2v1.2h-1.2zM225.4 68.5h1.2v1.2h-1.2zM224.8 90.9h1.2v1.2h-1.2zM221.3 63.8h1.2v1.2h-1.2zM231.7 66.7h1.2v1.2h-1.2zM229.2 74.8h1.2v1.2h-1.2zM230.2 88.8h1.2v1.2h-1.2zM230.1 83.4h1.2v1.2h-1.2zM220.2 58.2h1.2v1.2h-1.2zM223.2 85.3h1.2v1.2h-1.2zM227 64.5h1.2v1.2h-1.2zM218.5 64.6h1.2v1.2h-1.2zM225.6 106.2h1.2v1.2h-1.2zM223.2 92.9h1.2v1.2h-1.2zM226.1 69.7h1.2v1.2h-1.2zM221.6 101.1h1.2v1.2h-1.2zM224.4 113.1h1.2v1.2h-1.2zM227.5 105.6h1.2v1.2h-1.2zM226 64.5h1.2v1.2h-1.2zM227.7 93.8h1.2v1.2h-1.2zM234.5 80.5h1.2v1.2h-1.2zM229.5 80.8h1.2v1.2h-1.2zM228.1 67h1.2v1.2h-1.2zM220.8 64.1h1.2v1.2h-1.2zM227.6 114.3h1.2v1.2h-1.2zM226.2 82h1.2v1.2h-1.2zM222.1 64.9h1.2v1.2h-1.2zM232 81.7h1.2v1.2h-1.2zM227 82.3h1.2v1.2h-1.2zM221.9 65.9h1.2v1.2h-1.2zM223.5 101.2h1.2v1.2h-1.2zM226.3 93h1.2v1.2h-1.2zM235 98.4h1.2v1.2h-1.2zM223.5 105h1.2v1.2h-1.2zM228.9 108.1h1.2v1.2h-1.2zM231.7 115.9h1.2v1.2h-1.2zM234.4 96.2h1.2v1.2h-1.2zM231.8 112.5h1.2v1.2h-1.2zM228.6 113.4h1.2v1.2h-1.2zM217.8 67.2h1.2v1.2h-1.2zM227.6 78.7h1.2v1.2h-1.2zM222.4 82.4h1.2v1.2h-1.2zM227.9 82.1h1.2v1.2h-1.2zM222.2 60.7h1.2v1.2h-1.2zM226.4 77.1h1.2v1.2h-1.2zM233.7 101.9h1.2v1.2h-1.2zM224.1 85.6h1.2v1.2h-1.2zM230.7 94.8h1.2v1.2h-1.2zM229.7 96h1.2v1.2h-1.2zM228.3 90.5h1.2v1.2h-1.2zM213.5 55.7h1.2v1.2h-1.2zM228.7 78.3h1.2v1.2h-1.2zM228.4 99.4h1.2v1.2h-1.2zM231.8 76.1h1.2v1.2h-1.2zM230.7 113.5h1.2v1.2h-1.2zM223.2 112.8h1.2v1.2h-1.2zM229.3 84.4h1.2v1.2h-1.2zM224.2 112.8h1.2v1.2h-1.2zM230.1 68.9h1.2v1.2h-1.2zM231 84.6h1.2v1.2h-1.2zM223.4 111.6h1.2v1.2h-1.2zM229.2 62h1.2v1.2h-1.2zM225 86.1h1.2v1.2h-1.2zM227.4 80.3h1.2v1.2h-1.2zM225.3 77.8h1.2v1.2h-1.2zM225.8 80.9h1.2v1.2h-1.2zM228.3 91.6h1.2v1.2h-1.2zM231.6 110.7h1.2v1.2h-1.2zM220.4 58.5h1.2v1.2h-1.2zM223.4 64.3h1.2v1.2h-1.2zM229.4 96.2h1.2v1.2h-1.2zM228.4 86.9h1.2v1.2h-1.2zM226.4 96.6h1.2v1.2h-1.2zM230.9 106h1.2v1.2h-1.2zM225.1 105.7h1.2v1.2h-1.2zM222.8 74.4h1.2v1.2h-1.2zM226.1 67.9h1.2v1.2h-1.2zM233 92.6h1.2v1.2h-1.2zM220.8 58.1h1.2v1.2h-1.2zM224.1 90.4h1.2v1.2h-1.2zM234.7 92.5h1.2v1.2h-1.2zM228.2 83.9h1.2v1.2h-1.2zM231.3 107.5h1.2v1.2h-1.2zM218.2 60.1h1.2v1.2h-1.2zM220.7 56.4h1.2v1.2h-1.2zM224.6 111.9h1.2v1.2h-1.2zM230 105.2h1.2v1.2h-1.2zM220.5 58.7h1.2v1.2h-1.2zM229.3 99.2h1.2v1.2h-1.2zM227.7 89.2h1.2v1.2h-1.2zM222.8 62.8h1.2v1.2h-1.2zM226.5 80.3h1.2v1.2h-1.2zM235.2 91h1.2v1.2h-1.2zM229.5 90.3h1.2v1.2h-1.2zM220.9 67.2h1.2v1.2h-1.2zM220 56.2h1.2v1.2h-1.2zM219.2 60.6h1.2v1.2h-1.2zM229.5 69.1h1.2v1.2h-1.2zM228 74.2h1.2v1.2h-1.2zM226.2 67.4h1.2v1.2h-1.2zM221.4 73.6h1.2v1.2h-1.2zM214.9 59.6h1.2v1.2h-1.2zM227.7 78.3h1.2v1.2h-1.2zM224 74.9h1.2v1.2h-1.2zM228.7 72.3h1.2v1.2h-1.2zM222 78.5h1.2v1.2h-1.2zM233.9 106.2h1.2v1.2h-1.2zM236.3 102.2h1.2v1.2h-1.2zM219.9 62.5h1.2v1.2h-1.2zM215 61h1.2v1.2h-1.2zM222.6 89.2h1.2v1.2h-1.2zM222.9 59.5h1.2v1.2h-1.2zM231 102.2h1.2v1.2h-1.2zM228.2 77.2h1.2v1.2h-1.2zM228.4 113h1.2v1.2h-1.2zM227.1 76.4h1.2v1.2h-1.2zM228.8 88.2h1.2v1.2h-1.2zM227.4 60.6h1.2v1.2h-1.2zM221.6 64.6h1.2v1.2h-1.2zM224.3 66.1h1.2v1.2h-1.2zM220.6 110.9h1.2v1.2h-1.2zM234.9 113.7h1.2v1.2h-1.2zM226 92.4h1.2v1.2h-1.2zM230.6 92.3h1.2v1.2h-1.2zM227.8 99.3h1.2v1.2h-1.2zM230.4 81h1.2v1.2h-1.2z" fill="#666" fill-opacity="0.7"/>
<path d="M205.2 120.2h1.2v1.2h-1.2zM191.2 104.8h1.2v1.2h-1.2zM199.1 123.5h1.2v1.2h-1.2zM203.6 97.8h1.2v1.2h-1.2zM190.7 111.2h1.2v1.2h-1.2zM201.6 124.9h1.2v1.2h-1.2zM202.9 113.9h1.2v1.2h-1.2zM193.2 121.1h1.2v1.2h-1.2zM194.8 122.5h1.2v1.2h-1.2zM196.3 107.8h1.2v1.2h-1.2zM205.8 94.7h1.2v1.2h-1.2zM204.4 111.3h1.2v1.2h-1.2zM204.8 112.1h1.2v1.2h-1.2zM195.2 99.9h1.2v1.2h-1.2zM204 94.8h1.2v1.2h-1.2zM197.4 100.9h1.2v1.2h-1.2zM199.2 116.9h1.2v1.2h-1.2zM200.2 99.8h1.2v1.2h-1.2zM201.5 117.4h1.2v1.2h-1.2zM194.7 101.4h1.2v1.2h-1.2zM195.3 117.7h1.2v1.2h-1.2zM191.1 110.5h1.2v1.2h-1.2zM192 60h1.2v1.2h-1.2zM200 45h1.2v1.2h-1.2zM236 45h1.2v1.2h-1.2zM240 50h1.2v1.2h-1.2zM204 70h1.2v1.2h-1.2zM215 80h1.2v1.2h-1.2zM218 95h1.2v1.2h-1.2zM238 80h1.2v1.2h-1.2zM236 100h1.2v1.2h-1.2zM212 100h1.2v1.2h-1.2zM183 115h1.2v1.2h-1.2zM186 98h1.2v1.2h-1.2z" fill="#555" fill-opacity="0.6"/>
<text x="114.5" y="122.8" font-family='"Liberation Sans", sans-serif' font-size="9.8" font-weight="bold" text-anchor="end" fill="#000" stroke="#000" stroke-width="0.35" letter-spacing="0.2">11.71 %</text>
<text x="244.3" y="123.3" font-family='"Liberation Sans", sans-serif' font-size="9.8" font-weight="bold" text-anchor="end" fill="#000" stroke="#000" stroke-width="0.35" letter-spacing="0.2">34.09 %</text>
<text x="135.5" y="155" font-family='"Liberation Sans", sans-serif' font-size="8.5" font-weight="bold" text-anchor="middle" fill="#555">JC-1 monomers</text>
<text x="8.5" y="88.5" font-family='"Liberation Sans", sans-serif' font-size="8.3" font-weight="bold" text-anchor="middle" fill="#555" transform="rotate(-90 8.5 88.5)">JC-1 aggregates</text>
<line x1="33.5" y1="166.5" x2="120" y2="166.5" stroke="#555" stroke-width="1.2"/>
<line x1="120" y1="166.5" x2="120" y2="272" stroke="#555" stroke-width="1.2"/>
<line x1="33.5" y1="166.5" x2="33.5" y2="273" stroke="#444" stroke-width="1.4"/>
<line x1="32.5" y1="272" x2="120" y2="272" stroke="#444" stroke-width="1.4"/>
<line x1="31" y1="272" x2="33.5" y2="272" stroke="#444" stroke-width="0.8"/>
<line x1="32.2" y1="268.5" x2="33.5" y2="268.5" stroke="#444" stroke-width="0.8"/>
<line x1="32.2" y1="265" x2="33.5" y2="265" stroke="#444" stroke-width="0.8"/>
<line x1="32.2" y1="261.4" x2="33.5" y2="261.4" stroke="#444" stroke-width="0.8"/>
<line x1="32.2" y1="257.9" x2="33.5" y2="257.9" stroke="#444" stroke-width="0.8"/>
<line x1="31" y1="254.4" x2="33.5" y2="254.4" stroke="#444" stroke-width="0.8"/>
<line x1="32.2" y1="250.9" x2="33.5" y2="250.9" stroke="#444" stroke-width="0.8"/>
<line x1="32.2" y1="247.4" x2="33.5" y2="247.4" stroke="#444" stroke-width="0.8"/>
<line x1="32.2" y1="243.9" x2="33.5" y2="243.9" stroke="#444" stroke-width="0.8"/>
<line x1="32.2" y1="240.3" x2="33.5" y2="240.3" stroke="#444" stroke-width="0.8"/>
<line x1="31" y1="236.8" x2="33.5" y2="236.8" stroke="#444" stroke-width="0.8"/>
<line x1="32.2" y1="233.3" x2="33.5" y2="233.3" stroke="#444" stroke-width="0.8"/>
<line x1="32.2" y1="229.8" x2="33.5" y2="229.8" stroke="#444" stroke-width="0.8"/>
<line x1="32.2" y1="226.3" x2="33.5" y2="226.3" stroke="#444" stroke-width="0.8"/>
<line x1="32.2" y1="222.8" x2="33.5" y2="222.8" stroke="#444" stroke-width="0.8"/>
<line x1="31" y1="219.2" x2="33.5" y2="219.2" stroke="#444" stroke-width="0.8"/>
<line x1="32.2" y1="215.7" x2="33.5" y2="215.7" stroke="#444" stroke-width="0.8"/>
<line x1="32.2" y1="212.2" x2="33.5" y2="212.2" stroke="#444" stroke-width="0.8"/>
<line x1="32.2" y1="208.7" x2="33.5" y2="208.7" stroke="#444" stroke-width="0.8"/>
<line x1="32.2" y1="205.2" x2="33.5" y2="205.2" stroke="#444" stroke-width="0.8"/>
<line x1="31" y1="201.7" x2="33.5" y2="201.7" stroke="#444" stroke-width="0.8"/>
<line x1="32.2" y1="198.2" x2="33.5" y2="198.2" stroke="#444" stroke-width="0.8"/>
<line x1="32.2" y1="194.6" x2="33.5" y2="194.6" stroke="#444" stroke-width="0.8"/>
<line x1="32.2" y1="191.1" x2="33.5" y2="191.1" stroke="#444" stroke-width="0.8"/>
<line x1="32.2" y1="187.6" x2="33.5" y2="187.6" stroke="#444" stroke-width="0.8"/>
<line x1="31" y1="184.1" x2="33.5" y2="184.1" stroke="#444" stroke-width="0.8"/>
<line x1="32.2" y1="180.6" x2="33.5" y2="180.6" stroke="#444" stroke-width="0.8"/>
<line x1="32.2" y1="177.1" x2="33.5" y2="177.1" stroke="#444" stroke-width="0.8"/>
<line x1="32.2" y1="173.5" x2="33.5" y2="173.5" stroke="#444" stroke-width="0.8"/>
<line x1="32.2" y1="170" x2="33.5" y2="170" stroke="#444" stroke-width="0.8"/>
<line x1="31" y1="166.5" x2="33.5" y2="166.5" stroke="#444" stroke-width="0.8"/>
<line x1="33.5" y1="272" x2="33.5" y2="274.5" stroke="#444" stroke-width="0.8"/>
<line x1="40" y1="272" x2="40" y2="273.3" stroke="#444" stroke-width="0.8"/>
<line x1="43.8" y1="272" x2="43.8" y2="273.3" stroke="#444" stroke-width="0.8"/>
<line x1="46.5" y1="272" x2="46.5" y2="273.3" stroke="#444" stroke-width="0.8"/>
<line x1="48.6" y1="272" x2="48.6" y2="273.3" stroke="#444" stroke-width="0.8"/>
<line x1="50.3" y1="272" x2="50.3" y2="273.3" stroke="#444" stroke-width="0.8"/>
<line x1="51.8" y1="272" x2="51.8" y2="273.3" stroke="#444" stroke-width="0.8"/>
<line x1="53" y1="272" x2="53" y2="273.3" stroke="#444" stroke-width="0.8"/>
<line x1="54.1" y1="272" x2="54.1" y2="273.3" stroke="#444" stroke-width="0.8"/>
<line x1="55.1" y1="272" x2="55.1" y2="274.5" stroke="#444" stroke-width="0.8"/>
<line x1="61.6" y1="272" x2="61.6" y2="273.3" stroke="#444" stroke-width="0.8"/>
<line x1="65.4" y1="272" x2="65.4" y2="273.3" stroke="#444" stroke-width="0.8"/>
<line x1="68.1" y1="272" x2="68.1" y2="273.3" stroke="#444" stroke-width="0.8"/>
<line x1="70.2" y1="272" x2="70.2" y2="273.3" stroke="#444" stroke-width="0.8"/>
<line x1="72" y1="272" x2="72" y2="273.3" stroke="#444" stroke-width="0.8"/>
<line x1="73.4" y1="272" x2="73.4" y2="273.3" stroke="#444" stroke-width="0.8"/>
<line x1="74.7" y1="272" x2="74.7" y2="273.3" stroke="#444" stroke-width="0.8"/>
<line x1="75.8" y1="272" x2="75.8" y2="273.3" stroke="#444" stroke-width="0.8"/>
<line x1="76.8" y1="272" x2="76.8" y2="274.5" stroke="#444" stroke-width="0.8"/>
<line x1="83.3" y1="272" x2="83.3" y2="273.3" stroke="#444" stroke-width="0.8"/>
<line x1="87.1" y1="272" x2="87.1" y2="273.3" stroke="#444" stroke-width="0.8"/>
<line x1="89.8" y1="272" x2="89.8" y2="273.3" stroke="#444" stroke-width="0.8"/>
<line x1="91.9" y1="272" x2="91.9" y2="273.3" stroke="#444" stroke-width="0.8"/>
<line x1="93.6" y1="272" x2="93.6" y2="273.3" stroke="#444" stroke-width="0.8"/>
<line x1="95" y1="272" x2="95" y2="273.3" stroke="#444" stroke-width="0.8"/>
<line x1="96.3" y1="272" x2="96.3" y2="273.3" stroke="#444" stroke-width="0.8"/>
<line x1="97.4" y1="272" x2="97.4" y2="273.3" stroke="#444" stroke-width="0.8"/>
<line x1="98.4" y1="272" x2="98.4" y2="274.5" stroke="#444" stroke-width="0.8"/>
<line x1="104.9" y1="272" x2="104.9" y2="273.3" stroke="#444" stroke-width="0.8"/>
<line x1="108.7" y1="272" x2="108.7" y2="273.3" stroke="#444" stroke-width="0.8"/>
<line x1="111.4" y1="272" x2="111.4" y2="273.3" stroke="#444" stroke-width="0.8"/>
<line x1="113.5" y1="272" x2="113.5" y2="273.3" stroke="#444" stroke-width="0.8"/>
<line x1="115.2" y1="272" x2="115.2" y2="273.3" stroke="#444" stroke-width="0.8"/>
<line x1="116.7" y1="272" x2="116.7" y2="273.3" stroke="#444" stroke-width="0.8"/>
<line x1="117.9" y1="272" x2="117.9" y2="273.3" stroke="#444" stroke-width="0.8"/>
<line x1="119" y1="272" x2="119" y2="273.3" stroke="#444" stroke-width="0.8"/>
<text x="27.2" y="272" font-family='"Liberation Sans", sans-serif' font-size="9.8" font-weight="bold" text-anchor="middle" fill="#444" transform="rotate(-90 27.2 272)">0</text>
<text x="27.2" y="254.4" font-family='"Liberation Sans", sans-serif' font-size="9.8" font-weight="bold" text-anchor="middle" fill="#444" transform="rotate(-90 27.2 254.4)">5</text>
<text x="27.2" y="236.8" font-family='"Liberation Sans", sans-serif' font-size="9.8" font-weight="bold" text-anchor="middle" fill="#444" transform="rotate(-90 27.2 236.8)">10</text>
<text x="27.2" y="219.2" font-family='"Liberation Sans", sans-serif' font-size="9.8" font-weight="bold" text-anchor="middle" fill="#444" transform="rotate(-90 27.2 219.2)">15</text>
<text x="27.2" y="201.7" font-family='"Liberation Sans", sans-serif' font-size="9.8" font-weight="bold" text-anchor="middle" fill="#444" transform="rotate(-90 27.2 201.7)">20</text>
<text x="27.2" y="184.1" font-family='"Liberation Sans", sans-serif' font-size="9.8" font-weight="bold" text-anchor="middle" fill="#444" transform="rotate(-90 27.2 184.1)">25</text>
<text x="27.2" y="166.5" font-family='"Liberation Sans", sans-serif' font-size="9.8" font-weight="bold" text-anchor="middle" fill="#444" transform="rotate(-90 27.2 166.5)">30</text>
<text x="34.7" y="287.5" font-family='"Liberation Sans", sans-serif' font-size="9.3" font-weight="bold" text-anchor="middle" fill="#555">10<tspan dy="-4.2" font-size="6.5">0</tspan></text>
<text x="55.1" y="287.5" font-family='"Liberation Sans", sans-serif' font-size="9.3" font-weight="bold" text-anchor="middle" fill="#555">10<tspan dy="-4.2" font-size="6.5">1</tspan></text>
<text x="75.5" y="287.5" font-family='"Liberation Sans", sans-serif' font-size="9.3" font-weight="bold" text-anchor="middle" fill="#555">10<tspan dy="-4.2" font-size="6.5">2</tspan></text>
<text x="95.9" y="287.5" font-family='"Liberation Sans", sans-serif' font-size="9.3" font-weight="bold" text-anchor="middle" fill="#555">10<tspan dy="-4.2" font-size="6.5">3</tspan></text>
<text x="116.3" y="287.5" font-family='"Liberation Sans", sans-serif' font-size="9.3" font-weight="bold" text-anchor="middle" fill="#555">10<tspan dy="-4.2" font-size="6.5">4</tspan></text>
<text x="13.5" y="219.7" font-family='"Liberation Sans", sans-serif' font-size="6" font-weight="bold" text-anchor="middle" fill="#222" transform="rotate(-90 13.5 219.7)" stroke="#222" stroke-width="0.25">Counts</text>
<path d="M34 272L34.5 268.5L35 268.6L35.5 269.3L36 269.1L36.5 266.3L37 266L37.5 263.8L38 263.1L38.5 264.6L39 265.7L39.5 266.1L40 266.4L40.5 266.7L41 264.9L41.5 265.8L42 262.8L42.5 263.2L43 260.3L43.5 257.9L44 254.1L44.5 253.5L45 258.3L45.5 259.2L46 263.1L46.5 262L47 259.8L47.5 260L48 257.1L48.5 258L49 254.7L49.5 257.1L50 254.1L50.5 252L51 249.4L51.5 258.1L52 250.9L52.5 249.6L53 253.8L53.5 255.9L54 251.4L54.5 257.7L55 254.9L55.5 256L56 255.9L56.5 260.9L57 259.4L57.5 262.1L58 261L58.5 257.5L59 258.2L59.5 262.8L60 259.3L60.5 262.3L61 260.9L61.5 262.2L62 260.1L62.5 264.6L63 262.4L63.5 264.9L64 263.4L64.5 264L65 262.9L65.5 263.3L66 265.1L66.5 266L67 265.6L67.5 266.1L68 267.2L68.5 264.7L69 265L69.5 265.4L70 266.4L70.5 265.3L71 264.9L71.5 267.6L72 267.5L72.5 266.2L73 266.1L73.5 265.3L74 267.1L74.5 266.8L75 266.3L75.5 267.8L76 267.6L76.5 265L77 265.1L77.5 267.8L78 267.4L78.5 267L79 266L79.5 268L80 265.8L80.5 267.1L81 268.1L81.5 266.6L82 266.7L82.5 268L83 267.7L83.5 268.1L84 267.9L84.5 268.2L85 267.2L85.5 266.5L86 266.4L86.5 266.7L87 266.1L87.5 265.6L88 267.3L88.5 267.6L89 265.2L89.5 266.9L90 266.5L90.5 266.9L91 266.5L91.5 264.9L92 265L92.5 265L93 263.7L93.5 265.4L94 266.1L94.5 263.4L95 261.5L95.5 262.3L96 264.4L96.5 259.7L97 259.1L97.5 259.3L98 261.5L98.5 259.4L99 261.4L99.5 258.8L100 259.4L100.5 256.7L101 259.6L101.5 255.9L102 259.6L102.5 261.1L103 258.6L103.5 255.3L104 256.9L104.5 256L105 259.3L105.5 258.8L106 258.5L106.5 260.4L107 261.3L107.5 261.4L108 261.7L108.5 263.3L109 266.6L109.5 267.2L110 266.6L110.5 268.4L111 267.5L111.5 267.2L112 267.2L112.5 267.9L113 268.9L113.5 268.6L114 268.9L114.5 269.1L115 269.6L115.5 269.9L116 269.4L116.5 269.9L117 270.4L117.5 270.5L118 271L118.5 270.9L119 271L119 272Z" fill="#111"/>
<line x1="34.6" y1="217" x2="34.6" y2="272" stroke="#000" stroke-width="1.3"/>
<line x1="64.7" y1="244.6" x2="119.5" y2="244.6" stroke="#333" stroke-width="1.3"/>
<line x1="64.7" y1="238.8" x2="64.7" y2="250.3" stroke="#333" stroke-width="1.3"/>
<text x="116.6" y="238.6" font-family='"Liberation Sans", sans-serif' font-size="12.4" font-weight="bold" text-anchor="end" fill="#000">38.46 %</text>
<line x1="157.5" y1="170.3" x2="244.5" y2="170.3" stroke="#555" stroke-width="1.2"/>
<line x1="244.5" y1="170.3" x2="244.5" y2="271.5" stroke="#555" stroke-width="1.2"/>
<line x1="157.5" y1="170.3" x2="157.5" y2="272.5" stroke="#444" stroke-width="1.4"/>
<line x1="156.5" y1="271.5" x2="244.5" y2="271.5" stroke="#444" stroke-width="1.4"/>
<line x1="155" y1="271.5" x2="157.5" y2="271.5" stroke="#444" stroke-width="0.8"/>
<line x1="156.2" y1="268.1" x2="157.5" y2="268.1" stroke="#444" stroke-width="0.8"/>
<line x1="156.2" y1="264.8" x2="157.5" y2="264.8" stroke="#444" stroke-width="0.8"/>
<line x1="156.2" y1="261.4" x2="157.5" y2="261.4" stroke="#444" stroke-width="0.8"/>
<line x1="156.2" y1="258" x2="157.5" y2="258" stroke="#444" stroke-width="0.8"/>
<line x1="155" y1="254.6" x2="157.5" y2="254.6" stroke="#444" stroke-width="0.8"/>
<line x1="156.2" y1="251.3" x2="157.5" y2="251.3" stroke="#444" stroke-width="0.8"/>
<line x1="156.2" y1="247.9" x2="157.5" y2="247.9" stroke="#444" stroke-width="0.8"/>
<line x1="156.2" y1="244.5" x2="157.5" y2="244.5" stroke="#444" stroke-width="0.8"/>
<line x1="156.2" y1="241.1" x2="157.5" y2="241.1" stroke="#444" stroke-width="0.8"/>
<line x1="155" y1="237.8" x2="157.5" y2="237.8" stroke="#444" stroke-width="0.8"/>
<line x1="156.2" y1="234.4" x2="157.5" y2="234.4" stroke="#444" stroke-width="0.8"/>
<line x1="156.2" y1="231" x2="157.5" y2="231" stroke="#444" stroke-width="0.8"/>
<line x1="156.2" y1="227.6" x2="157.5" y2="227.6" stroke="#444" stroke-width="0.8"/>
<line x1="156.2" y1="224.3" x2="157.5" y2="224.3" stroke="#444" stroke-width="0.8"/>
<line x1="155" y1="220.9" x2="157.5" y2="220.9" stroke="#444" stroke-width="0.8"/>
<line x1="156.2" y1="217.5" x2="157.5" y2="217.5" stroke="#444" stroke-width="0.8"/>
<line x1="156.2" y1="214.2" x2="157.5" y2="214.2" stroke="#444" stroke-width="0.8"/>
<line x1="156.2" y1="210.8" x2="157.5" y2="210.8" stroke="#444" stroke-width="0.8"/>
<line x1="156.2" y1="207.4" x2="157.5" y2="207.4" stroke="#444" stroke-width="0.8"/>
<line x1="155" y1="204" x2="157.5" y2="204" stroke="#444" stroke-width="0.8"/>
<line x1="156.2" y1="200.7" x2="157.5" y2="200.7" stroke="#444" stroke-width="0.8"/>
<line x1="156.2" y1="197.3" x2="157.5" y2="197.3" stroke="#444" stroke-width="0.8"/>
<line x1="156.2" y1="193.9" x2="157.5" y2="193.9" stroke="#444" stroke-width="0.8"/>
<line x1="156.2" y1="190.5" x2="157.5" y2="190.5" stroke="#444" stroke-width="0.8"/>
<line x1="155" y1="187.2" x2="157.5" y2="187.2" stroke="#444" stroke-width="0.8"/>
<line x1="156.2" y1="183.8" x2="157.5" y2="183.8" stroke="#444" stroke-width="0.8"/>
<line x1="156.2" y1="180.4" x2="157.5" y2="180.4" stroke="#444" stroke-width="0.8"/>
<line x1="156.2" y1="177" x2="157.5" y2="177" stroke="#444" stroke-width="0.8"/>
<line x1="156.2" y1="173.7" x2="157.5" y2="173.7" stroke="#444" stroke-width="0.8"/>
<line x1="155" y1="170.3" x2="157.5" y2="170.3" stroke="#444" stroke-width="0.8"/>
<line x1="157.5" y1="271.5" x2="157.5" y2="274" stroke="#444" stroke-width="0.8"/>
<line x1="164" y1="271.5" x2="164" y2="272.8" stroke="#444" stroke-width="0.8"/>
<line x1="167.9" y1="271.5" x2="167.9" y2="272.8" stroke="#444" stroke-width="0.8"/>
<line x1="170.6" y1="271.5" x2="170.6" y2="272.8" stroke="#444" stroke-width="0.8"/>
<line x1="172.7" y1="271.5" x2="172.7" y2="272.8" stroke="#444" stroke-width="0.8"/>
<line x1="174.4" y1="271.5" x2="174.4" y2="272.8" stroke="#444" stroke-width="0.8"/>
<line x1="175.9" y1="271.5" x2="175.9" y2="272.8" stroke="#444" stroke-width="0.8"/>
<line x1="177.1" y1="271.5" x2="177.1" y2="272.8" stroke="#444" stroke-width="0.8"/>
<line x1="178.3" y1="271.5" x2="178.3" y2="272.8" stroke="#444" stroke-width="0.8"/>
<line x1="179.2" y1="271.5" x2="179.2" y2="274" stroke="#444" stroke-width="0.8"/>
<line x1="185.8" y1="271.5" x2="185.8" y2="272.8" stroke="#444" stroke-width="0.8"/>
<line x1="189.6" y1="271.5" x2="189.6" y2="272.8" stroke="#444" stroke-width="0.8"/>
<line x1="192.3" y1="271.5" x2="192.3" y2="272.8" stroke="#444" stroke-width="0.8"/>
<line x1="194.5" y1="271.5" x2="194.5" y2="272.8" stroke="#444" stroke-width="0.8"/>
<line x1="196.2" y1="271.5" x2="196.2" y2="272.8" stroke="#444" stroke-width="0.8"/>
<line x1="197.6" y1="271.5" x2="197.6" y2="272.8" stroke="#444" stroke-width="0.8"/>
<line x1="198.9" y1="271.5" x2="198.9" y2="272.8" stroke="#444" stroke-width="0.8"/>
<line x1="200" y1="271.5" x2="200" y2="272.8" stroke="#444" stroke-width="0.8"/>
<line x1="201" y1="271.5" x2="201" y2="274" stroke="#444" stroke-width="0.8"/>
<line x1="207.5" y1="271.5" x2="207.5" y2="272.8" stroke="#444" stroke-width="0.8"/>
<line x1="211.4" y1="271.5" x2="211.4" y2="272.8" stroke="#444" stroke-width="0.8"/>
<line x1="214.1" y1="271.5" x2="214.1" y2="272.8" stroke="#444" stroke-width="0.8"/>
<line x1="216.2" y1="271.5" x2="216.2" y2="272.8" stroke="#444" stroke-width="0.8"/>
<line x1="217.9" y1="271.5" x2="217.9" y2="272.8" stroke="#444" stroke-width="0.8"/>
<line x1="219.4" y1="271.5" x2="219.4" y2="272.8" stroke="#444" stroke-width="0.8"/>
<line x1="220.6" y1="271.5" x2="220.6" y2="272.8" stroke="#444" stroke-width="0.8"/>
<line x1="221.8" y1="271.5" x2="221.8" y2="272.8" stroke="#444" stroke-width="0.8"/>
<line x1="222.8" y1="271.5" x2="222.8" y2="274" stroke="#444" stroke-width="0.8"/>
<line x1="229.3" y1="271.5" x2="229.3" y2="272.8" stroke="#444" stroke-width="0.8"/>
<line x1="233.1" y1="271.5" x2="233.1" y2="272.8" stroke="#444" stroke-width="0.8"/>
<line x1="235.8" y1="271.5" x2="235.8" y2="272.8" stroke="#444" stroke-width="0.8"/>
<line x1="238" y1="271.5" x2="238" y2="272.8" stroke="#444" stroke-width="0.8"/>
<line x1="239.7" y1="271.5" x2="239.7" y2="272.8" stroke="#444" stroke-width="0.8"/>
<line x1="241.1" y1="271.5" x2="241.1" y2="272.8" stroke="#444" stroke-width="0.8"/>
<line x1="242.4" y1="271.5" x2="242.4" y2="272.8" stroke="#444" stroke-width="0.8"/>
<line x1="243.5" y1="271.5" x2="243.5" y2="272.8" stroke="#444" stroke-width="0.8"/>
<text x="151.2" y="271.5" font-family='"Liberation Sans", sans-serif' font-size="9.8" font-weight="bold" text-anchor="middle" fill="#444" transform="rotate(-90 151.2 271.5)">0</text>
<text x="151.2" y="254.6" font-family='"Liberation Sans", sans-serif' font-size="9.8" font-weight="bold" text-anchor="middle" fill="#444" transform="rotate(-90 151.2 254.6)">5</text>
<text x="151.2" y="237.8" font-family='"Liberation Sans", sans-serif' font-size="9.8" font-weight="bold" text-anchor="middle" fill="#444" transform="rotate(-90 151.2 237.8)">10</text>
<text x="151.2" y="220.9" font-family='"Liberation Sans", sans-serif' font-size="9.8" font-weight="bold" text-anchor="middle" fill="#444" transform="rotate(-90 151.2 220.9)">15</text>
<text x="151.2" y="204" font-family='"Liberation Sans", sans-serif' font-size="9.8" font-weight="bold" text-anchor="middle" fill="#444" transform="rotate(-90 151.2 204)">20</text>
<text x="151.2" y="187.2" font-family='"Liberation Sans", sans-serif' font-size="9.8" font-weight="bold" text-anchor="middle" fill="#444" transform="rotate(-90 151.2 187.2)">25</text>
<text x="151.2" y="170.3" font-family='"Liberation Sans", sans-serif' font-size="9.8" font-weight="bold" text-anchor="middle" fill="#444" transform="rotate(-90 151.2 170.3)">30</text>
<text x="156" y="287" font-family='"Liberation Sans", sans-serif' font-size="9.3" font-weight="bold" text-anchor="middle" fill="#555">10<tspan dy="-4.2" font-size="6.5">0</tspan></text>
<text x="177" y="287" font-family='"Liberation Sans", sans-serif' font-size="9.3" font-weight="bold" text-anchor="middle" fill="#555">10<tspan dy="-4.2" font-size="6.5">1</tspan></text>
<text x="198" y="287" font-family='"Liberation Sans", sans-serif' font-size="9.3" font-weight="bold" text-anchor="middle" fill="#555">10<tspan dy="-4.2" font-size="6.5">2</tspan></text>
<text x="219" y="287" font-family='"Liberation Sans", sans-serif' font-size="9.3" font-weight="bold" text-anchor="middle" fill="#555">10<tspan dy="-4.2" font-size="6.5">3</tspan></text>
<text x="240" y="287" font-family='"Liberation Sans", sans-serif' font-size="9.3" font-weight="bold" text-anchor="middle" fill="#555">10<tspan dy="-4.2" font-size="6.5">4</tspan></text>
<text x="137.5" y="219.7" font-family='"Liberation Sans", sans-serif' font-size="6" font-weight="bold" text-anchor="middle" fill="#222" transform="rotate(-90 137.5 219.7)" stroke="#222" stroke-width="0.25">Counts</text>
<path d="M158 271.5L158.5 267.9L159 267.5L159.5 263.9L160 266.2L160.5 263.9L161 264.4L161.5 263L162 263.7L162.5 262.7L163 263.5L163.5 264.3L164 262.8L164.5 262.8L165 261.9L165.5 264.9L166 264.5L166.5 263.9L167 260.1L167.5 262L168 263.3L168.5 258.4L169 257L169.5 261.3L170 257L170.5 259.5L171 255.8L171.5 259.6L172 259.6L172.5 259.2L173 262.7L173.5 260.8L174 257.3L174.5 261L175 255.1L175.5 261.7L176 256.6L176.5 254L177 256.3L177.5 256.4L178 260.4L178.5 259.6L179 256L179.5 253.7L180 256.2L180.5 256.9L181 257.7L181.5 255.8L182 256.4L182.5 258.5L183 259.9L183.5 255.8L184 257.2L184.5 260L185 260L185.5 262L186 262L186.5 258.9L187 258.4L187.5 262.9L188 263.3L188.5 259.8L189 259.9L189.5 261.5L190 259.5L190.5 261.1L191 261L191.5 259L192 257.9L192.5 260L193 262.2L193.5 257.7L194 259.8L194.5 262.1L195 260.9L195.5 258.9L196 259.3L196.5 260.7L197 261L197.5 259.7L198 254.8L198.5 257.5L199 260.3L199.5 261.7L200 255.7L200.5 260L201 257.5L201.5 264L202 262.9L202.5 263.4L203 263.5L203.5 264.3L204 266.1L204.5 264.4L205 266.6L205.5 265.8L206 266.3L206.5 265.8L207 265.6L207.5 267.2L208 267.7L208.5 266.9L209 268.1L209.5 266.4L210 267.8L210.5 266.9L211 265.1L211.5 265.3L212 264.7L212.5 263.9L213 265.2L213.5 263.7L214 265.5L214.5 262.9L215 264L215.5 262.9L216 262.4L216.5 262.1L217 261.9L217.5 264.4L218 259.6L218.5 258.6L219 258.2L219.5 256.3L220 256L220.5 253.7L221 251.7L221.5 250.7L222 246.4L222.5 246.7L223 238.1L223.5 241.1L224 235.4L224.5 231.4L225 225.9L225.5 223.8L226 233L226.5 236.8L227 242.3L227.5 243.2L228 245.2L228.5 250.3L229 250.3L229.5 253.5L230 253.7L230.5 257.3L231 259L231.5 261.5L232 263.7L232.5 264.6L233 265.1L233.5 268.1L234 268.5L234.5 269L235 268.6L235.5 269.5L236 270.3L236.5 270.5L237 270.4L237.5 270.5L238 270.2L238.5 270.5L239 270.5L239.5 270.4L240 270.3L240.5 270.5L241 270.5L241.5 270.5L242 270.5L242.5 270.5L242.5 271.5Z" fill="#111"/>
<line x1="185.6" y1="236.9" x2="244" y2="236.9" stroke="#333" stroke-width="1.3"/>
<line x1="185.6" y1="230.8" x2="185.6" y2="242.7" stroke="#333" stroke-width="1.3"/>
<text x="232.6" y="218.4" font-family='"Liberation Sans", sans-serif' font-size="12.6" font-weight="bold" text-anchor="end" fill="#000">70.16 %</text>
<text x="140.8" y="300.4" font-family='"Liberation Sans", sans-serif' font-size="10" font-weight="bold" text-anchor="middle" fill="#222">Annexin V-FITC</text>
<defs><pattern id="dots" width="2" height="2" patternUnits="userSpaceOnUse"><rect width="2" height="2" fill="#cbcbcb"/><rect width="1" height="1" fill="#a2a2a2"/></pattern></defs>
<line x1="314.4" y1="72.3" x2="314.4" y2="221.5" stroke="#222" stroke-width="1.3"/>
<line x1="314.4" y1="221.5" x2="518" y2="221.5" stroke="#222" stroke-width="1.3"/>
<line x1="310.4" y1="221.5" x2="314.4" y2="221.5" stroke="#222" stroke-width="1.2"/>
<text x="308.5" y="224.5" font-family='"Liberation Serif", serif' font-size="8.7" font-weight="bold" text-anchor="end" fill="#111">50</text>
<line x1="310.4" y1="191.7" x2="314.4" y2="191.7" stroke="#222" stroke-width="1.2"/>
<text x="308.5" y="194.7" font-family='"Liberation Serif", serif' font-size="8.7" font-weight="bold" text-anchor="end" fill="#111">100</text>
<line x1="310.4" y1="161.8" x2="314.4" y2="161.8" stroke="#222" stroke-width="1.2"/>
<text x="308.5" y="164.8" font-family='"Liberation Serif", serif' font-size="8.7" font-weight="bold" text-anchor="end" fill="#111">150</text>
<line x1="310.4" y1="132" x2="314.4" y2="132" stroke="#222" stroke-width="1.2"/>
<text x="308.5" y="135" font-family='"Liberation Serif", serif' font-size="8.7" font-weight="bold" text-anchor="end" fill="#111">200</text>
<line x1="310.4" y1="102.1" x2="314.4" y2="102.1" stroke="#222" stroke-width="1.2"/>
<text x="308.5" y="105.1" font-family='"Liberation Serif", serif' font-size="8.7" font-weight="bold" text-anchor="end" fill="#111">250</text>
<line x1="310.4" y1="72.3" x2="314.4" y2="72.3" stroke="#222" stroke-width="1.2"/>
<text x="308.5" y="75.3" font-family='"Liberation Serif", serif' font-size="8.7" font-weight="bold" text-anchor="end" fill="#111">300</text>
<rect x="331.5" y="191.7" width="51.5" height="29.8" fill="url(#dots)" stroke="#111" stroke-width="1.3"/>
<line x1="357.2" y1="186.9" x2="357.2" y2="191.7" stroke="#111" stroke-width="1.2"/>
<line x1="357.2" y1="221.5" x2="357.2" y2="225.5" stroke="#111" stroke-width="1.2"/>
<rect x="455.4" y="87.2" width="51.3" height="134.3" fill="url(#dots)" stroke="#111" stroke-width="1.3"/>
<line x1="481" y1="81.7" x2="481" y2="87.2" stroke="#111" stroke-width="1.2"/>
<line x1="481" y1="221.5" x2="481" y2="225.5" stroke="#111" stroke-width="1.2"/>
<text x="279.3" y="146" font-family='"Liberation Sans", sans-serif' font-size="13" font-weight="bold" text-anchor="middle" fill="#000" transform="rotate(-90 279.3 146)" textLength="142.5" lengthAdjust="spacingAndGlyphs">Caspase3 activity (U/ml)</text>
<text x="354.6" y="260" font-family='"Liberation Serif", serif' font-size="17.3" font-weight="bold" text-anchor="middle" fill="#000">None</text>
<text x="472.3" y="260" font-family='"Liberation Serif", serif' font-size="17.6" font-weight="bold" text-anchor="middle" fill="#000">Rapamycin</text>
<line x1="47" y1="355.6" x2="47" y2="478.8" stroke="#444" stroke-width="1.3"/>
<line x1="46.5" y1="478.3" x2="169.8" y2="478.3" stroke="#444" stroke-width="1.3"/>
<line x1="44" y1="478.3" x2="47" y2="478.3" stroke="#444" stroke-width="1"/>
<text x="42.1" y="481.6" font-family='"Liberation Serif", serif' font-size="9.8" font-weight="bold" text-anchor="end" fill="#333" stroke="#333" stroke-width="0.3" letter-spacing="0.6">0</text>
<line x1="44" y1="457.9" x2="47" y2="457.9" stroke="#444" stroke-width="1"/>
<text x="42.1" y="461.2" font-family='"Liberation Serif", serif' font-size="9.8" font-weight="bold" text-anchor="end" fill="#333" stroke="#333" stroke-width="0.3" letter-spacing="0.6">10</text>
<line x1="44" y1="437.4" x2="47" y2="437.4" stroke="#444" stroke-width="1"/>
<text x="42.1" y="440.7" font-family='"Liberation Serif", serif' font-size="9.8" font-weight="bold" text-anchor="end" fill="#333" stroke="#333" stroke-width="0.3" letter-spacing="0.6">20</text>
<line x1="44" y1="417" x2="47" y2="417" stroke="#444" stroke-width="1"/>
<text x="42.1" y="420.3" font-family='"Liberation Serif", serif' font-size="9.8" font-weight="bold" text-anchor="end" fill="#333" stroke="#333" stroke-width="0.3" letter-spacing="0.6">30</text>
<line x1="44" y1="396.5" x2="47" y2="396.5" stroke="#444" stroke-width="1"/>
<text x="42.1" y="399.8" font-family='"Liberation Serif", serif' font-size="9.8" font-weight="bold" text-anchor="end" fill="#333" stroke="#333" stroke-width="0.3" letter-spacing="0.6">40</text>
<line x1="44" y1="376.1" x2="47" y2="376.1" stroke="#444" stroke-width="1"/>
<text x="42.1" y="379.4" font-family='"Liberation Serif", serif' font-size="9.8" font-weight="bold" text-anchor="end" fill="#333" stroke="#333" stroke-width="0.3" letter-spacing="0.6">50</text>
<line x1="44" y1="355.6" x2="47" y2="355.6" stroke="#444" stroke-width="1"/>
<text x="42.1" y="358.9" font-family='"Liberation Serif", serif' font-size="9.8" font-weight="bold" text-anchor="end" fill="#333" stroke="#333" stroke-width="0.3" letter-spacing="0.6">60</text>
<line x1="47" y1="478.3" x2="47" y2="481.3" stroke="#444" stroke-width="1"/>
<text x="47.3" y="491.8" font-family='"Liberation Serif", serif' font-size="9.8" font-weight="bold" text-anchor="middle" fill="#333" stroke="#333" stroke-width="0.3" letter-spacing="0.6">0</text>
<line x1="71.6" y1="478.3" x2="71.6" y2="481.3" stroke="#444" stroke-width="1"/>
<text x="71.9" y="491.8" font-family='"Liberation Serif", serif' font-size="9.8" font-weight="bold" text-anchor="middle" fill="#333" stroke="#333" stroke-width="0.3" letter-spacing="0.6">20</text>
<line x1="96.1" y1="478.3" x2="96.1" y2="481.3" stroke="#444" stroke-width="1"/>
<text x="96.4" y="491.8" font-family='"Liberation Serif", serif' font-size="9.8" font-weight="bold" text-anchor="middle" fill="#333" stroke="#333" stroke-width="0.3" letter-spacing="0.6">40</text>
<line x1="120.7" y1="478.3" x2="120.7" y2="481.3" stroke="#444" stroke-width="1"/>
<text x="121" y="491.8" font-family='"Liberation Serif", serif' font-size="9.8" font-weight="bold" text-anchor="middle" fill="#333" stroke="#333" stroke-width="0.3" letter-spacing="0.6">60</text>
<line x1="145.2" y1="478.3" x2="145.2" y2="481.3" stroke="#444" stroke-width="1"/>
<text x="145.5" y="491.8" font-family='"Liberation Serif", serif' font-size="9.8" font-weight="bold" text-anchor="middle" fill="#333" stroke="#333" stroke-width="0.3" letter-spacing="0.6">80</text>
<line x1="169.8" y1="478.3" x2="169.8" y2="481.3" stroke="#444" stroke-width="1"/>
<text x="170.1" y="491.8" font-family='"Liberation Serif", serif' font-size="9.8" font-weight="bold" text-anchor="middle" fill="#333" stroke="#333" stroke-width="0.3" letter-spacing="0.6">100</text>
<text x="54" y="369.1" font-family='"Liberation Sans", sans-serif' font-size="15.8" font-weight="bold" text-anchor="start" fill="#000">pt.8</text>
<path d="M47 471.1L53.1 470.1L77.7 454.8L108.4 403.7L169.8 372" fill="none" stroke="#222" stroke-width="1.2"/>
<rect x="45" y="469.1" width="4" height="4" fill="#fff" stroke="#333" stroke-width="0.9" rx="0.8"/>
<rect x="51.1" y="468.1" width="4" height="4" fill="#fff" stroke="#333" stroke-width="0.9" rx="0.8"/>
<rect x="75.7" y="452.8" width="4" height="4" fill="#fff" stroke="#333" stroke-width="0.9" rx="0.8"/>
<rect x="106.4" y="401.7" width="4" height="4" fill="#fff" stroke="#333" stroke-width="0.9" rx="0.8"/>
<rect x="167.8" y="370" width="4" height="4" fill="#fff" stroke="#333" stroke-width="0.9" rx="0.8"/>
<line x1="208" y1="353" x2="208" y2="478.2" stroke="#444" stroke-width="1.3"/>
<line x1="207.5" y1="477.7" x2="333.7" y2="477.7" stroke="#444" stroke-width="1.3"/>
<line x1="205" y1="477.7" x2="208" y2="477.7" stroke="#444" stroke-width="1"/>
<text x="203.1" y="481" font-family='"Liberation Serif", serif' font-size="9.8" font-weight="bold" text-anchor="end" fill="#333" stroke="#333" stroke-width="0.3" letter-spacing="0.6">0</text>
<line x1="205" y1="456.9" x2="208" y2="456.9" stroke="#444" stroke-width="1"/>
<text x="203.1" y="460.2" font-family='"Liberation Serif", serif' font-size="9.8" font-weight="bold" text-anchor="end" fill="#333" stroke="#333" stroke-width="0.3" letter-spacing="0.6">10</text>
<line x1="205" y1="436.1" x2="208" y2="436.1" stroke="#444" stroke-width="1"/>
<text x="203.1" y="439.4" font-family='"Liberation Serif", serif' font-size="9.8" font-weight="bold" text-anchor="end" fill="#333" stroke="#333" stroke-width="0.3" letter-spacing="0.6">20</text>
<line x1="205" y1="415.4" x2="208" y2="415.4" stroke="#444" stroke-width="1"/>
<text x="203.1" y="418.7" font-family='"Liberation Serif", serif' font-size="9.8" font-weight="bold" text-anchor="end" fill="#333" stroke="#333" stroke-width="0.3" letter-spacing="0.6">30</text>
<line x1="205" y1="394.6" x2="208" y2="394.6" stroke="#444" stroke-width="1"/>
<text x="203.1" y="397.9" font-family='"Liberation Serif", serif' font-size="9.8" font-weight="bold" text-anchor="end" fill="#333" stroke="#333" stroke-width="0.3" letter-spacing="0.6">40</text>
<line x1="205" y1="373.8" x2="208" y2="373.8" stroke="#444" stroke-width="1"/>
<text x="203.1" y="377.1" font-family='"Liberation Serif", serif' font-size="9.8" font-weight="bold" text-anchor="end" fill="#333" stroke="#333" stroke-width="0.3" letter-spacing="0.6">50</text>
<line x1="205" y1="353" x2="208" y2="353" stroke="#444" stroke-width="1"/>
<text x="203.1" y="356.3" font-family='"Liberation Serif", serif' font-size="9.8" font-weight="bold" text-anchor="end" fill="#333" stroke="#333" stroke-width="0.3" letter-spacing="0.6">60</text>
<line x1="208" y1="477.7" x2="208" y2="480.7" stroke="#444" stroke-width="1"/>
<text x="208.3" y="491.2" font-family='"Liberation Serif", serif' font-size="9.8" font-weight="bold" text-anchor="middle" fill="#333" stroke="#333" stroke-width="0.3" letter-spacing="0.6">0</text>
<line x1="233.1" y1="477.7" x2="233.1" y2="480.7" stroke="#444" stroke-width="1"/>
<text x="233.4" y="491.2" font-family='"Liberation Serif", serif' font-size="9.8" font-weight="bold" text-anchor="middle" fill="#333" stroke="#333" stroke-width="0.3" letter-spacing="0.6">20</text>
<line x1="258.3" y1="477.7" x2="258.3" y2="480.7" stroke="#444" stroke-width="1"/>
<text x="258.6" y="491.2" font-family='"Liberation Serif", serif' font-size="9.8" font-weight="bold" text-anchor="middle" fill="#333" stroke="#333" stroke-width="0.3" letter-spacing="0.6">40</text>
<line x1="283.4" y1="477.7" x2="283.4" y2="480.7" stroke="#444" stroke-width="1"/>
<text x="283.7" y="491.2" font-family='"Liberation Serif", serif' font-size="9.8" font-weight="bold" text-anchor="middle" fill="#333" stroke="#333" stroke-width="0.3" letter-spacing="0.6">60</text>
<line x1="308.6" y1="477.7" x2="308.6" y2="480.7" stroke="#444" stroke-width="1"/>
<text x="308.9" y="491.2" font-family='"Liberation Serif", serif' font-size="9.8" font-weight="bold" text-anchor="middle" fill="#333" stroke="#333" stroke-width="0.3" letter-spacing="0.6">80</text>
<line x1="333.7" y1="477.7" x2="333.7" y2="480.7" stroke="#444" stroke-width="1"/>
<text x="334" y="491.2" font-family='"Liberation Serif", serif' font-size="9.8" font-weight="bold" text-anchor="middle" fill="#333" stroke="#333" stroke-width="0.3" letter-spacing="0.6">100</text>
<text x="216.6" y="368.8" font-family='"Liberation Sans", sans-serif' font-size="15.8" font-weight="bold" text-anchor="start" fill="#000">pt.22</text>
<path d="M208 472.5L214.3 470.4L220.6 468.3L233.1 456.9L270.9 411.2L333.7 381.1" fill="none" stroke="#222" stroke-width="1.2"/>
<rect x="206" y="470.5" width="4" height="4" fill="#fff" stroke="#333" stroke-width="0.9" rx="0.8"/>
<rect x="212.3" y="468.4" width="4" height="4" fill="#fff" stroke="#333" stroke-width="0.9" rx="0.8"/>
<rect x="218.6" y="466.3" width="4" height="4" fill="#fff" stroke="#333" stroke-width="0.9" rx="0.8"/>
<rect x="231.1" y="454.9" width="4" height="4" fill="#fff" stroke="#333" stroke-width="0.9" rx="0.8"/>
<rect x="268.9" y="409.2" width="4" height="4" fill="#fff" stroke="#333" stroke-width="0.9" rx="0.8"/>
<rect x="331.7" y="379.1" width="4" height="4" fill="#fff" stroke="#333" stroke-width="0.9" rx="0.8"/>
<line x1="385" y1="353" x2="385" y2="478" stroke="#444" stroke-width="1.3"/>
<line x1="384.5" y1="477.5" x2="510.4" y2="477.5" stroke="#444" stroke-width="1.3"/>
<line x1="382" y1="477.5" x2="385" y2="477.5" stroke="#444" stroke-width="1"/>
<text x="380.1" y="480.8" font-family='"Liberation Serif", serif' font-size="9.8" font-weight="bold" text-anchor="end" fill="#333" stroke="#333" stroke-width="0.3" letter-spacing="0.6">0</text>
<line x1="382" y1="456.8" x2="385" y2="456.8" stroke="#444" stroke-width="1"/>
<text x="380.1" y="460.1" font-family='"Liberation Serif", serif' font-size="9.8" font-weight="bold" text-anchor="end" fill="#333" stroke="#333" stroke-width="0.3" letter-spacing="0.6">10</text>
<line x1="382" y1="436" x2="385" y2="436" stroke="#444" stroke-width="1"/>
<text x="380.1" y="439.3" font-family='"Liberation Serif", serif' font-size="9.8" font-weight="bold" text-anchor="end" fill="#333" stroke="#333" stroke-width="0.3" letter-spacing="0.6">20</text>
<line x1="382" y1="415.2" x2="385" y2="415.2" stroke="#444" stroke-width="1"/>
<text x="380.1" y="418.6" font-family='"Liberation Serif", serif' font-size="9.8" font-weight="bold" text-anchor="end" fill="#333" stroke="#333" stroke-width="0.3" letter-spacing="0.6">30</text>
<line x1="382" y1="394.5" x2="385" y2="394.5" stroke="#444" stroke-width="1"/>
<text x="380.1" y="397.8" font-family='"Liberation Serif", serif' font-size="9.8" font-weight="bold" text-anchor="end" fill="#333" stroke="#333" stroke-width="0.3" letter-spacing="0.6">40</text>
<line x1="382" y1="373.8" x2="385" y2="373.8" stroke="#444" stroke-width="1"/>
<text x="380.1" y="377.1" font-family='"Liberation Serif", serif' font-size="9.8" font-weight="bold" text-anchor="end" fill="#333" stroke="#333" stroke-width="0.3" letter-spacing="0.6">50</text>
<line x1="382" y1="353" x2="385" y2="353" stroke="#444" stroke-width="1"/>
<text x="380.1" y="356.3" font-family='"Liberation Serif", serif' font-size="9.8" font-weight="bold" text-anchor="end" fill="#333" stroke="#333" stroke-width="0.3" letter-spacing="0.6">60</text>
<line x1="385" y1="477.5" x2="385" y2="480.5" stroke="#444" stroke-width="1"/>
<text x="385.3" y="491" font-family='"Liberation Serif", serif' font-size="9.8" font-weight="bold" text-anchor="middle" fill="#333" stroke="#333" stroke-width="0.3" letter-spacing="0.6">0</text>
<line x1="410.1" y1="477.5" x2="410.1" y2="480.5" stroke="#444" stroke-width="1"/>
<text x="410.4" y="491" font-family='"Liberation Serif", serif' font-size="9.8" font-weight="bold" text-anchor="middle" fill="#333" stroke="#333" stroke-width="0.3" letter-spacing="0.6">20</text>
<line x1="435.2" y1="477.5" x2="435.2" y2="480.5" stroke="#444" stroke-width="1"/>
<text x="435.5" y="491" font-family='"Liberation Serif", serif' font-size="9.8" font-weight="bold" text-anchor="middle" fill="#333" stroke="#333" stroke-width="0.3" letter-spacing="0.6">40</text>
<line x1="460.2" y1="477.5" x2="460.2" y2="480.5" stroke="#444" stroke-width="1"/>
<text x="460.5" y="491" font-family='"Liberation Serif", serif' font-size="9.8" font-weight="bold" text-anchor="middle" fill="#333" stroke="#333" stroke-width="0.3" letter-spacing="0.6">60</text>
<line x1="485.3" y1="477.5" x2="485.3" y2="480.5" stroke="#444" stroke-width="1"/>
<text x="485.6" y="491" font-family='"Liberation Serif", serif' font-size="9.8" font-weight="bold" text-anchor="middle" fill="#333" stroke="#333" stroke-width="0.3" letter-spacing="0.6">80</text>
<line x1="510.4" y1="477.5" x2="510.4" y2="480.5" stroke="#444" stroke-width="1"/>
<text x="510.7" y="491" font-family='"Liberation Serif", serif' font-size="9.8" font-weight="bold" text-anchor="middle" fill="#333" stroke="#333" stroke-width="0.3" letter-spacing="0.6">100</text>
<text x="393.4" y="368.8" font-family='"Liberation Sans", sans-serif' font-size="15.8" font-weight="bold" text-anchor="start" fill="#000">pt.25</text>
<path d="M385 436L391.3 425.6L400 421.5L416.4 409L447.7 396.6L510.4 373.8" fill="none" stroke="#222" stroke-width="1.2"/>
<rect x="383" y="434" width="4" height="4" fill="#fff" stroke="#333" stroke-width="0.9" rx="0.8"/>
<rect x="389.3" y="423.6" width="4" height="4" fill="#fff" stroke="#333" stroke-width="0.9" rx="0.8"/>
<rect x="398" y="419.5" width="4" height="4" fill="#fff" stroke="#333" stroke-width="0.9" rx="0.8"/>
<rect x="414.4" y="407" width="4" height="4" fill="#fff" stroke="#333" stroke-width="0.9" rx="0.8"/>
<rect x="445.7" y="394.6" width="4" height="4" fill="#fff" stroke="#333" stroke-width="0.9" rx="0.8"/>
<rect x="508.4" y="371.8" width="4" height="4" fill="#fff" stroke="#333" stroke-width="0.9" rx="0.8"/>
<line x1="49.8" y1="516.3" x2="49.8" y2="641.8" stroke="#444" stroke-width="1.3"/>
<line x1="49.3" y1="641.3" x2="175.6" y2="641.3" stroke="#444" stroke-width="1.3"/>
<line x1="46.8" y1="641.3" x2="49.8" y2="641.3" stroke="#444" stroke-width="1"/>
<text x="44.9" y="644.6" font-family='"Liberation Serif", serif' font-size="9.8" font-weight="bold" text-anchor="end" fill="#333" stroke="#333" stroke-width="0.3" letter-spacing="0.6">20</text>
<line x1="46.8" y1="610" x2="49.8" y2="610" stroke="#444" stroke-width="1"/>
<text x="44.9" y="613.3" font-family='"Liberation Serif", serif' font-size="9.8" font-weight="bold" text-anchor="end" fill="#333" stroke="#333" stroke-width="0.3" letter-spacing="0.6">40</text>
<line x1="46.8" y1="578.8" x2="49.8" y2="578.8" stroke="#444" stroke-width="1"/>
<text x="44.9" y="582.1" font-family='"Liberation Serif", serif' font-size="9.8" font-weight="bold" text-anchor="end" fill="#333" stroke="#333" stroke-width="0.3" letter-spacing="0.6">60</text>
<line x1="46.8" y1="547.5" x2="49.8" y2="547.5" stroke="#444" stroke-width="1"/>
<text x="44.9" y="550.8" font-family='"Liberation Serif", serif' font-size="9.8" font-weight="bold" text-anchor="end" fill="#333" stroke="#333" stroke-width="0.3" letter-spacing="0.6">80</text>
<line x1="46.8" y1="516.3" x2="49.8" y2="516.3" stroke="#444" stroke-width="1"/>
<text x="44.9" y="519.6" font-family='"Liberation Serif", serif' font-size="9.8" font-weight="bold" text-anchor="end" fill="#333" stroke="#333" stroke-width="0.3" letter-spacing="0.6">100</text>
<line x1="49.8" y1="641.3" x2="49.8" y2="644.3" stroke="#444" stroke-width="1"/>
<text x="50.1" y="654.8" font-family='"Liberation Serif", serif' font-size="9.8" font-weight="bold" text-anchor="middle" fill="#333" stroke="#333" stroke-width="0.3" letter-spacing="0.6">0</text>
<line x1="75" y1="641.3" x2="75" y2="644.3" stroke="#444" stroke-width="1"/>
<text x="75.3" y="654.8" font-family='"Liberation Serif", serif' font-size="9.8" font-weight="bold" text-anchor="middle" fill="#333" stroke="#333" stroke-width="0.3" letter-spacing="0.6">20</text>
<line x1="100.1" y1="641.3" x2="100.1" y2="644.3" stroke="#444" stroke-width="1"/>
<text x="100.4" y="654.8" font-family='"Liberation Serif", serif' font-size="9.8" font-weight="bold" text-anchor="middle" fill="#333" stroke="#333" stroke-width="0.3" letter-spacing="0.6">40</text>
<line x1="125.3" y1="641.3" x2="125.3" y2="644.3" stroke="#444" stroke-width="1"/>
<text x="125.6" y="654.8" font-family='"Liberation Serif", serif' font-size="9.8" font-weight="bold" text-anchor="middle" fill="#333" stroke="#333" stroke-width="0.3" letter-spacing="0.6">60</text>
<line x1="150.4" y1="641.3" x2="150.4" y2="644.3" stroke="#444" stroke-width="1"/>
<text x="150.7" y="654.8" font-family='"Liberation Serif", serif' font-size="9.8" font-weight="bold" text-anchor="middle" fill="#333" stroke="#333" stroke-width="0.3" letter-spacing="0.6">80</text>
<line x1="175.6" y1="641.3" x2="175.6" y2="644.3" stroke="#444" stroke-width="1"/>
<text x="175.9" y="654.8" font-family='"Liberation Serif", serif' font-size="9.8" font-weight="bold" text-anchor="middle" fill="#333" stroke="#333" stroke-width="0.3" letter-spacing="0.6">100</text>
<text x="53.2" y="533.5" font-family='"Liberation Sans", sans-serif' font-size="15.8" font-weight="bold" text-anchor="start" fill="#000">pt.19</text>
<path d="M49.8 610L56.1 597.5L62.4 597.5L112.7 539.7L175.6 516.3" fill="none" stroke="#222" stroke-width="1.2"/>
<rect x="47.8" y="608" width="4" height="4" fill="#fff" stroke="#333" stroke-width="0.9" rx="0.8"/>
<rect x="54.1" y="595.5" width="4" height="4" fill="#fff" stroke="#333" stroke-width="0.9" rx="0.8"/>
<rect x="60.4" y="595.5" width="4" height="4" fill="#fff" stroke="#333" stroke-width="0.9" rx="0.8"/>
<rect x="110.7" y="537.7" width="4" height="4" fill="#fff" stroke="#333" stroke-width="0.9" rx="0.8"/>
<rect x="173.6" y="514.3" width="4" height="4" fill="#fff" stroke="#333" stroke-width="0.9" rx="0.8"/>
<line x1="209" y1="516.3" x2="209" y2="641.8" stroke="#444" stroke-width="1.3"/>
<line x1="208.5" y1="641.3" x2="335" y2="641.3" stroke="#444" stroke-width="1.3"/>
<line x1="206" y1="641.3" x2="209" y2="641.3" stroke="#444" stroke-width="1"/>
<text x="204.1" y="644.6" font-family='"Liberation Serif", serif' font-size="9.8" font-weight="bold" text-anchor="end" fill="#333" stroke="#333" stroke-width="0.3" letter-spacing="0.6">20</text>
<line x1="206" y1="610" x2="209" y2="610" stroke="#444" stroke-width="1"/>
<text x="204.1" y="613.3" font-family='"Liberation Serif", serif' font-size="9.8" font-weight="bold" text-anchor="end" fill="#333" stroke="#333" stroke-width="0.3" letter-spacing="0.6">40</text>
<line x1="206" y1="578.8" x2="209" y2="578.8" stroke="#444" stroke-width="1"/>
<text x="204.1" y="582.1" font-family='"Liberation Serif", serif' font-size="9.8" font-weight="bold" text-anchor="end" fill="#333" stroke="#333" stroke-width="0.3" letter-spacing="0.6">60</text>
<line x1="206" y1="547.5" x2="209" y2="547.5" stroke="#444" stroke-width="1"/>
<text x="204.1" y="550.8" font-family='"Liberation Serif", serif' font-size="9.8" font-weight="bold" text-anchor="end" fill="#333" stroke="#333" stroke-width="0.3" letter-spacing="0.6">80</text>
<line x1="206" y1="516.3" x2="209" y2="516.3" stroke="#444" stroke-width="1"/>
<text x="204.1" y="519.6" font-family='"Liberation Serif", serif' font-size="9.8" font-weight="bold" text-anchor="end" fill="#333" stroke="#333" stroke-width="0.3" letter-spacing="0.6">100</text>
<line x1="209" y1="641.3" x2="209" y2="644.3" stroke="#444" stroke-width="1"/>
<text x="209.3" y="654.8" font-family='"Liberation Serif", serif' font-size="9.8" font-weight="bold" text-anchor="middle" fill="#333" stroke="#333" stroke-width="0.3" letter-spacing="0.6">0</text>
<line x1="234.2" y1="641.3" x2="234.2" y2="644.3" stroke="#444" stroke-width="1"/>
<text x="234.5" y="654.8" font-family='"Liberation Serif", serif' font-size="9.8" font-weight="bold" text-anchor="middle" fill="#333" stroke="#333" stroke-width="0.3" letter-spacing="0.6">20</text>
<line x1="259.4" y1="641.3" x2="259.4" y2="644.3" stroke="#444" stroke-width="1"/>
<text x="259.7" y="654.8" font-family='"Liberation Serif", serif' font-size="9.8" font-weight="bold" text-anchor="middle" fill="#333" stroke="#333" stroke-width="0.3" letter-spacing="0.6">40</text>
<line x1="284.6" y1="641.3" x2="284.6" y2="644.3" stroke="#444" stroke-width="1"/>
<text x="284.9" y="654.8" font-family='"Liberation Serif", serif' font-size="9.8" font-weight="bold" text-anchor="middle" fill="#333" stroke="#333" stroke-width="0.3" letter-spacing="0.6">60</text>
<line x1="309.8" y1="641.3" x2="309.8" y2="644.3" stroke="#444" stroke-width="1"/>
<text x="310.1" y="654.8" font-family='"Liberation Serif", serif' font-size="9.8" font-weight="bold" text-anchor="middle" fill="#333" stroke="#333" stroke-width="0.3" letter-spacing="0.6">80</text>
<line x1="335" y1="641.3" x2="335" y2="644.3" stroke="#444" stroke-width="1"/>
<text x="335.3" y="654.8" font-family='"Liberation Serif", serif' font-size="9.8" font-weight="bold" text-anchor="middle" fill="#333" stroke="#333" stroke-width="0.3" letter-spacing="0.6">100</text>
<text x="217.7" y="533.5" font-family='"Liberation Sans", sans-serif' font-size="15.8" font-weight="bold" text-anchor="start" fill="#000">pt.18</text>
<path d="M209 610L215.3 594.4L221.6 592.9L234.2 592.9L259.4 583.5L272 580.4L335 536.6" fill="none" stroke="#222" stroke-width="1.2"/>
<rect x="207" y="608" width="4" height="4" fill="#fff" stroke="#333" stroke-width="0.9" rx="0.8"/>
<rect x="213.3" y="592.4" width="4" height="4" fill="#fff" stroke="#333" stroke-width="0.9" rx="0.8"/>
<rect x="219.6" y="590.9" width="4" height="4" fill="#fff" stroke="#333" stroke-width="0.9" rx="0.8"/>
<rect x="232.2" y="590.9" width="4" height="4" fill="#fff" stroke="#333" stroke-width="0.9" rx="0.8"/>
<rect x="257.4" y="581.5" width="4" height="4" fill="#fff" stroke="#333" stroke-width="0.9" rx="0.8"/>
<rect x="270" y="578.4" width="4" height="4" fill="#fff" stroke="#333" stroke-width="0.9" rx="0.8"/>
<rect x="333" y="534.6" width="4" height="4" fill="#fff" stroke="#333" stroke-width="0.9" rx="0.8"/>
<line x1="384.4" y1="517.3" x2="384.4" y2="642.2" stroke="#444" stroke-width="1.3"/>
<line x1="383.9" y1="641.7" x2="508.5" y2="641.7" stroke="#444" stroke-width="1.3"/>
<line x1="381.4" y1="641.7" x2="384.4" y2="641.7" stroke="#444" stroke-width="1"/>
<text x="379.5" y="645" font-family='"Liberation Serif", serif' font-size="9.8" font-weight="bold" text-anchor="end" fill="#333" stroke="#333" stroke-width="0.3" letter-spacing="0.6">0</text>
<line x1="381.4" y1="616.8" x2="384.4" y2="616.8" stroke="#444" stroke-width="1"/>
<text x="379.5" y="620.1" font-family='"Liberation Serif", serif' font-size="9.8" font-weight="bold" text-anchor="end" fill="#333" stroke="#333" stroke-width="0.3" letter-spacing="0.6">20</text>
<line x1="381.4" y1="591.9" x2="384.4" y2="591.9" stroke="#444" stroke-width="1"/>
<text x="379.5" y="595.2" font-family='"Liberation Serif", serif' font-size="9.8" font-weight="bold" text-anchor="end" fill="#333" stroke="#333" stroke-width="0.3" letter-spacing="0.6">40</text>
<line x1="381.4" y1="567.1" x2="384.4" y2="567.1" stroke="#444" stroke-width="1"/>
<text x="379.5" y="570.4" font-family='"Liberation Serif", serif' font-size="9.8" font-weight="bold" text-anchor="end" fill="#333" stroke="#333" stroke-width="0.3" letter-spacing="0.6">60</text>
<line x1="381.4" y1="542.2" x2="384.4" y2="542.2" stroke="#444" stroke-width="1"/>
<text x="379.5" y="545.5" font-family='"Liberation Serif", serif' font-size="9.8" font-weight="bold" text-anchor="end" fill="#333" stroke="#333" stroke-width="0.3" letter-spacing="0.6">80</text>
<line x1="381.4" y1="517.3" x2="384.4" y2="517.3" stroke="#444" stroke-width="1"/>
<text x="379.5" y="520.6" font-family='"Liberation Serif", serif' font-size="9.8" font-weight="bold" text-anchor="end" fill="#333" stroke="#333" stroke-width="0.3" letter-spacing="0.6">100</text>
<line x1="384.4" y1="641.7" x2="384.4" y2="644.7" stroke="#444" stroke-width="1"/>
<text x="384.7" y="655.2" font-family='"Liberation Serif", serif' font-size="9.8" font-weight="bold" text-anchor="middle" fill="#333" stroke="#333" stroke-width="0.3" letter-spacing="0.6">0</text>
<line x1="409.2" y1="641.7" x2="409.2" y2="644.7" stroke="#444" stroke-width="1"/>
<text x="409.5" y="655.2" font-family='"Liberation Serif", serif' font-size="9.8" font-weight="bold" text-anchor="middle" fill="#333" stroke="#333" stroke-width="0.3" letter-spacing="0.6">20</text>
<line x1="434" y1="641.7" x2="434" y2="644.7" stroke="#444" stroke-width="1"/>
<text x="434.3" y="655.2" font-family='"Liberation Serif", serif' font-size="9.8" font-weight="bold" text-anchor="middle" fill="#333" stroke="#333" stroke-width="0.3" letter-spacing="0.6">40</text>
<line x1="458.9" y1="641.7" x2="458.9" y2="644.7" stroke="#444" stroke-width="1"/>
<text x="459.2" y="655.2" font-family='"Liberation Serif", serif' font-size="9.8" font-weight="bold" text-anchor="middle" fill="#333" stroke="#333" stroke-width="0.3" letter-spacing="0.6">60</text>
<line x1="483.7" y1="641.7" x2="483.7" y2="644.7" stroke="#444" stroke-width="1"/>
<text x="484" y="655.2" font-family='"Liberation Serif", serif' font-size="9.8" font-weight="bold" text-anchor="middle" fill="#333" stroke="#333" stroke-width="0.3" letter-spacing="0.6">80</text>
<line x1="508.5" y1="641.7" x2="508.5" y2="644.7" stroke="#444" stroke-width="1"/>
<text x="508.8" y="655.2" font-family='"Liberation Serif", serif' font-size="9.8" font-weight="bold" text-anchor="middle" fill="#333" stroke="#333" stroke-width="0.3" letter-spacing="0.6">100</text>
<path d="M384.4 628L390.6 628L409.2 628.6L446.4 626.8L508.5 626.2" fill="none" stroke="#aaa" stroke-width="1.1" stroke-dasharray="1.2 1.3"/>
<circle cx="384.4" cy="628" r="2.1" fill="#111" stroke="#333" stroke-width="0.9"/>
<circle cx="390.6" cy="628" r="2.1" fill="#111" stroke="#333" stroke-width="0.9"/>
<circle cx="409.2" cy="628.6" r="2.1" fill="#111" stroke="#333" stroke-width="0.9"/>
<circle cx="446.4" cy="626.8" r="2.1" fill="#111" stroke="#333" stroke-width="0.9"/>
<circle cx="508.5" cy="626.2" r="2.1" fill="#111" stroke="#333" stroke-width="0.9"/>
<path d="M384.4 633L390.6 631.7L409.2 633L446.4 629.3L508.5 625.5" fill="none" stroke="#888" stroke-width="1.6"/>
<circle cx="384.4" cy="633" r="2.1" fill="#fff" stroke="#333" stroke-width="0.9"/>
<circle cx="390.6" cy="631.7" r="2.1" fill="#fff" stroke="#333" stroke-width="0.9"/>
<circle cx="409.2" cy="633" r="2.1" fill="#fff" stroke="#333" stroke-width="0.9"/>
<circle cx="446.4" cy="629.3" r="2.1" fill="#fff" stroke="#333" stroke-width="0.9"/>
<circle cx="508.5" cy="625.5" r="2.1" fill="#fff" stroke="#333" stroke-width="0.9"/>
<line x1="393.7" y1="526.5" x2="417.7" y2="526.5" stroke="#888" stroke-width="1.6"/>
<circle cx="405.8" cy="526.5" r="2.1" fill="#fff" stroke="#333" stroke-width="0.9"/>
<line x1="393.7" y1="541.3" x2="417.7" y2="541.3" stroke="#aaa" stroke-width="1.1" stroke-dasharray="1.2 1.3"/>
<circle cx="405.8" cy="541.3" r="2.1" fill="#111" stroke="#333" stroke-width="0.9"/>
<text x="423.5" y="530.5" font-family='"Liberation Sans", sans-serif' font-size="10.2" font-weight="bold" text-anchor="start" fill="#000">T lymphocytes</text>
<text x="423.5" y="545" font-family='"Liberation Sans", sans-serif' font-size="10.2" font-weight="bold" text-anchor="start" fill="#000">B lymphocytes</text>
<text x="14.6" y="483" font-family='"Liberation Serif", serif' font-size="14.5" font-weight="bold" text-anchor="middle" transform="rotate(-90 14.6 483)">% of annexin V<tspan dy="-5" font-size="9">+</tspan><tspan dy="5"> cells</tspan></text>
<text x="274" y="678.8" font-family='"Liberation Serif", serif' font-size="13.1" font-weight="bold" text-anchor="middle" fill="#000">Rapamycin (ng/ml)</text>
<line x1="114" y1="711" x2="114" y2="884" stroke="#222" stroke-width="1.3"/>
<line x1="114" y1="884" x2="411" y2="884" stroke="#222" stroke-width="1.3"/>
<line x1="110" y1="884" x2="114" y2="884" stroke="#222" stroke-width="1.2"/>
<text x="106.5" y="888.4" font-family='"Liberation Serif", serif' font-size="13" font-weight="bold" text-anchor="end" fill="#000">0</text>
<line x1="110" y1="849.4" x2="114" y2="849.4" stroke="#222" stroke-width="1.2"/>
<text x="106.5" y="853.8" font-family='"Liberation Serif", serif' font-size="13" font-weight="bold" text-anchor="end" fill="#000">20</text>
<line x1="110" y1="814.8" x2="114" y2="814.8" stroke="#222" stroke-width="1.2"/>
<text x="106.5" y="819.2" font-family='"Liberation Serif", serif' font-size="13" font-weight="bold" text-anchor="end" fill="#000">40</text>
<line x1="110" y1="780.2" x2="114" y2="780.2" stroke="#222" stroke-width="1.2"/>
<text x="106.5" y="784.6" font-family='"Liberation Serif", serif' font-size="13" font-weight="bold" text-anchor="end" fill="#000">60</text>
<line x1="110" y1="745.6" x2="114" y2="745.6" stroke="#222" stroke-width="1.2"/>
<text x="106.5" y="750" font-family='"Liberation Serif", serif' font-size="13" font-weight="bold" text-anchor="end" fill="#000">80</text>
<line x1="110" y1="711" x2="114" y2="711" stroke="#222" stroke-width="1.2"/>
<text x="106.5" y="715.4" font-family='"Liberation Serif", serif' font-size="13" font-weight="bold" text-anchor="end" fill="#000">100</text>
<rect x="116.4" y="839" width="8.8" height="45" fill="#fff" stroke="#222" stroke-width="1.0"/>
<rect x="125.2" y="807.9" width="9.2" height="76.1" fill="#c6c6c6" stroke="#222" stroke-width="1.0"/>
<line x1="120.8" y1="836" x2="120.8" y2="841" stroke="#222" stroke-width="1.0"/>
<line x1="129.8" y1="804.9" x2="129.8" y2="809.9" stroke="#222" stroke-width="1.0"/>
<line x1="125.2" y1="884" x2="125.2" y2="888" stroke="#222" stroke-width="1"/>
<text x="125.2" y="901" font-family='"Liberation Serif", serif' font-size="14" font-weight="bold" text-anchor="middle" fill="#000">1</text>
<rect x="137.6" y="806.1" width="8.8" height="77.9" fill="#fff" stroke="#222" stroke-width="1.0"/>
<rect x="146.4" y="745.6" width="9.2" height="138.4" fill="#c6c6c6" stroke="#222" stroke-width="1.0"/>
<line x1="142" y1="802.7" x2="142" y2="808.1" stroke="#222" stroke-width="1.0"/>
<line x1="151" y1="737.8" x2="151" y2="747.6" stroke="#222" stroke-width="1.0"/>
<line x1="146.4" y1="884" x2="146.4" y2="888" stroke="#222" stroke-width="1"/>
<text x="146.4" y="901" font-family='"Liberation Serif", serif' font-size="14" font-weight="bold" text-anchor="middle" fill="#000">2</text>
<rect x="158.9" y="825.2" width="8.8" height="58.8" fill="#fff" stroke="#222" stroke-width="1.0"/>
<rect x="167.7" y="735.2" width="9.2" height="148.8" fill="#c6c6c6" stroke="#222" stroke-width="1.0"/>
<line x1="163.3" y1="820" x2="163.3" y2="827.2" stroke="#222" stroke-width="1.0"/>
<line x1="172.3" y1="729.2" x2="172.3" y2="737.2" stroke="#222" stroke-width="1.0"/>
<line x1="167.7" y1="884" x2="167.7" y2="888" stroke="#222" stroke-width="1"/>
<text x="167.7" y="901" font-family='"Liberation Serif", serif' font-size="14" font-weight="bold" text-anchor="middle" fill="#000">3</text>
<rect x="180.1" y="806.1" width="8.8" height="77.9" fill="#fff" stroke="#222" stroke-width="1.0"/>
<rect x="188.9" y="742.1" width="9.2" height="141.9" fill="#c6c6c6" stroke="#222" stroke-width="1.0"/>
<line x1="184.5" y1="803.1" x2="184.5" y2="808.1" stroke="#222" stroke-width="1.0"/>
<line x1="193.5" y1="737.8" x2="193.5" y2="744.1" stroke="#222" stroke-width="1.0"/>
<line x1="188.9" y1="884" x2="188.9" y2="888" stroke="#222" stroke-width="1"/>
<text x="188.9" y="901" font-family='"Liberation Serif", serif' font-size="14" font-weight="bold" text-anchor="middle" fill="#000">6</text>
<rect x="201.3" y="877.1" width="8.8" height="6.9" fill="#fff" stroke="#222" stroke-width="1.0"/>
<rect x="210.1" y="793.2" width="9.2" height="90.8" fill="#c6c6c6" stroke="#222" stroke-width="1.0"/>
<line x1="205.7" y1="873.6" x2="205.7" y2="879.1" stroke="#222" stroke-width="1.0"/>
<line x1="214.7" y1="790.2" x2="214.7" y2="795.2" stroke="#222" stroke-width="1.0"/>
<line x1="210.1" y1="884" x2="210.1" y2="888" stroke="#222" stroke-width="1"/>
<text x="210.1" y="901" font-family='"Liberation Serif", serif' font-size="14" font-weight="bold" text-anchor="middle" fill="#000">8</text>
<rect x="222.6" y="844.2" width="8.8" height="39.8" fill="#fff" stroke="#222" stroke-width="1.0"/>
<rect x="231.4" y="807.9" width="9.2" height="76.1" fill="#c6c6c6" stroke="#222" stroke-width="1.0"/>
<line x1="227" y1="841.2" x2="227" y2="846.2" stroke="#222" stroke-width="1.0"/>
<line x1="236" y1="804.9" x2="236" y2="809.9" stroke="#222" stroke-width="1.0"/>
<line x1="231.4" y1="884" x2="231.4" y2="888" stroke="#222" stroke-width="1"/>
<text x="231.4" y="901" font-family='"Liberation Serif", serif' font-size="14" font-weight="bold" text-anchor="middle" fill="#000">10</text>
<rect x="243.8" y="858" width="8.8" height="26" fill="#fff" stroke="#222" stroke-width="1.0"/>
<rect x="252.6" y="788" width="9.2" height="96" fill="#c6c6c6" stroke="#222" stroke-width="1.0"/>
<line x1="248.2" y1="855" x2="248.2" y2="860" stroke="#222" stroke-width="1.0"/>
<line x1="257.2" y1="785" x2="257.2" y2="790" stroke="#222" stroke-width="1.0"/>
<line x1="252.6" y1="884" x2="252.6" y2="888" stroke="#222" stroke-width="1"/>
<text x="252.6" y="901" font-family='"Liberation Serif", serif' font-size="14" font-weight="bold" text-anchor="middle" fill="#000">11</text>
<rect x="265" y="825.2" width="8.8" height="58.8" fill="#fff" stroke="#222" stroke-width="1.0"/>
<rect x="273.8" y="813.1" width="9.2" height="70.9" fill="#c6c6c6" stroke="#222" stroke-width="1.0"/>
<line x1="269.4" y1="822.2" x2="269.4" y2="827.2" stroke="#222" stroke-width="1.0"/>
<line x1="278.4" y1="810.1" x2="278.4" y2="815.1" stroke="#222" stroke-width="1.0"/>
<line x1="273.8" y1="884" x2="273.8" y2="888" stroke="#222" stroke-width="1"/>
<text x="273.8" y="901" font-family='"Liberation Serif", serif' font-size="14" font-weight="bold" text-anchor="middle" fill="#000">13</text>
<rect x="286.2" y="817.4" width="8.8" height="66.6" fill="#fff" stroke="#222" stroke-width="1.0"/>
<rect x="295" y="762.9" width="9.2" height="121.1" fill="#c6c6c6" stroke="#222" stroke-width="1.0"/>
<line x1="290.6" y1="813.9" x2="290.6" y2="819.4" stroke="#222" stroke-width="1.0"/>
<line x1="299.6" y1="756" x2="299.6" y2="764.9" stroke="#222" stroke-width="1.0"/>
<line x1="295" y1="884" x2="295" y2="888" stroke="#222" stroke-width="1"/>
<text x="295" y="901" font-family='"Liberation Serif", serif' font-size="14" font-weight="bold" text-anchor="middle" fill="#000">14</text>
<rect x="307.5" y="814.8" width="8.8" height="69.2" fill="#fff" stroke="#222" stroke-width="1.0"/>
<rect x="316.3" y="733.5" width="9.2" height="150.5" fill="#c6c6c6" stroke="#222" stroke-width="1.0"/>
<line x1="311.9" y1="811.8" x2="311.9" y2="816.8" stroke="#222" stroke-width="1.0"/>
<line x1="320.9" y1="730" x2="320.9" y2="735.5" stroke="#222" stroke-width="1.0"/>
<line x1="316.3" y1="884" x2="316.3" y2="888" stroke="#222" stroke-width="1"/>
<text x="316.3" y="901" font-family='"Liberation Serif", serif' font-size="14" font-weight="bold" text-anchor="middle" fill="#000">18</text>
<rect x="328.7" y="816.5" width="8.8" height="67.5" fill="#fff" stroke="#222" stroke-width="1.0"/>
<rect x="337.5" y="711" width="9.2" height="173" fill="#c6c6c6" stroke="#222" stroke-width="1.0"/>
<line x1="333.1" y1="813.1" x2="333.1" y2="818.5" stroke="#222" stroke-width="1.0"/>
<line x1="337.5" y1="884" x2="337.5" y2="888" stroke="#222" stroke-width="1"/>
<text x="337.5" y="901" font-family='"Liberation Serif", serif' font-size="14" font-weight="bold" text-anchor="middle" fill="#000">19</text>
<rect x="349.9" y="825.2" width="8.8" height="58.8" fill="#fff" stroke="#222" stroke-width="1.0"/>
<rect x="358.7" y="773.3" width="9.2" height="110.7" fill="#c6c6c6" stroke="#222" stroke-width="1.0"/>
<line x1="354.3" y1="822.2" x2="354.3" y2="827.2" stroke="#222" stroke-width="1.0"/>
<line x1="363.3" y1="765.5" x2="363.3" y2="775.3" stroke="#222" stroke-width="1.0"/>
<line x1="358.7" y1="884" x2="358.7" y2="888" stroke="#222" stroke-width="1"/>
<text x="358.7" y="901" font-family='"Liberation Serif", serif' font-size="14" font-weight="bold" text-anchor="middle" fill="#000">21</text>
<rect x="371.2" y="879.7" width="8.8" height="4.3" fill="#fff" stroke="#222" stroke-width="1.0"/>
<rect x="380" y="804.4" width="9.2" height="79.6" fill="#c6c6c6" stroke="#222" stroke-width="1.0"/>
<line x1="375.6" y1="876.7" x2="375.6" y2="881.7" stroke="#222" stroke-width="1.0"/>
<line x1="384.6" y1="801" x2="384.6" y2="806.4" stroke="#222" stroke-width="1.0"/>
<line x1="380" y1="884" x2="380" y2="888" stroke="#222" stroke-width="1"/>
<text x="380" y="901" font-family='"Liberation Serif", serif' font-size="14" font-weight="bold" text-anchor="middle" fill="#000">22</text>
<rect x="392.4" y="849.4" width="8.8" height="34.6" fill="#fff" stroke="#222" stroke-width="1.0"/>
<rect x="401.2" y="797.5" width="9.2" height="86.5" fill="#c6c6c6" stroke="#222" stroke-width="1.0"/>
<line x1="396.8" y1="846.4" x2="396.8" y2="851.4" stroke="#222" stroke-width="1.0"/>
<line x1="405.8" y1="788.9" x2="405.8" y2="799.5" stroke="#222" stroke-width="1.0"/>
<line x1="401.2" y1="884" x2="401.2" y2="888" stroke="#222" stroke-width="1"/>
<text x="401.2" y="901" font-family='"Liberation Serif", serif' font-size="14" font-weight="bold" text-anchor="middle" fill="#000">25</text>
<text x="417.5" y="896.2" font-family='"Liberation Serif", serif' font-size="9.6" font-weight="bold" text-anchor="start" fill="#000">Patient</text>
<rect x="361" y="715.5" width="8" height="8" fill="#fff" stroke="#333" stroke-width="1"/>
<rect x="361" y="734.5" width="8" height="8" fill="#c4c4c4" stroke="#333" stroke-width="1"/>
<text x="378.5" y="722.7" font-family='"Liberation Sans", sans-serif' font-size="13.3" font-weight="bold" text-anchor="start" fill="#000">None</text>
<text x="378.5" y="742" font-family='"Liberation Sans", sans-serif' font-size="13.4" font-weight="bold" text-anchor="start" fill="#000">Rapamycin</text>
<text x="77.9" y="795.8" font-family='"Liberation Serif", serif' font-size="12.8" font-weight="bold" text-anchor="middle" fill="#000" transform="rotate(-90 77.9 795.8)">% of annexin V+ cells</text>
</svg></body></html>
